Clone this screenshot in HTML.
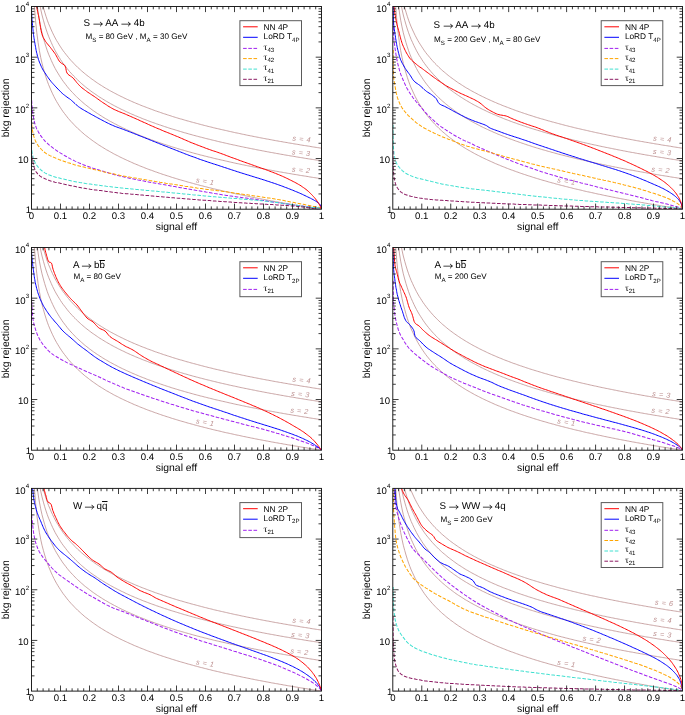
<!DOCTYPE html>
<html lang="en"><head><meta charset="utf-8"><title>ROC curves</title>
<style>
html,body{margin:0;padding:0;background:#fff;}
body{width:685px;height:715px;overflow:hidden;}
svg{display:block;font-family:"Liberation Sans","DejaVu Sans",sans-serif;text-rendering:geometricPrecision;}
.fr{fill:none;stroke:#161616;stroke-width:0.95;}
.tk{fill:none;stroke:#1c1c1c;stroke-width:0.85;}
.br{fill:none;stroke:#bc8f8f;stroke-width:0.8;}
.sol{fill:none;stroke-width:1;stroke-linejoin:round;}
.dash{fill:none;stroke-width:1.02;stroke-dasharray:3.6 1.6;stroke-linejoin:round;}
.tl{font-size:9.6px;fill:#000;}
.sup{font-size:6.2px;}
.at{font-size:10.4px;fill:#000;}
.tt{font-size:9.8px;fill:#000;}
.ar{font-size:10.4px;fill:#000;font-weight:350;font-family:"Noto Sans CJK JP","DejaVu Sans",sans-serif;}
.tau{font-family:"Liberation Serif",serif;font-size:9.5px;}
.st{font-size:8.1px;fill:#000;}
.ov{text-decoration:overline;}
.sb{font-size:6.2px;}
.sb2{font-size:6.1px;}
.lt{font-size:8.3px;fill:#000;}
.ls{stroke-width:1;}
.lg{fill:#fff;stroke:#5a5a5a;stroke-width:1;}
.sl{font-size:7.3px;fill:#bc8f8f;font-style:italic;letter-spacing:0.5px;}
</style></head>
<body>
<svg width="685" height="715" viewBox="0 0 685 715">
<rect width="685" height="715" fill="#fff"/>
<g class="panel">
<clipPath id="cp0"><rect x="31.5" y="6.5" width="290" height="202.7"/></clipPath>
<g clip-path="url(#cp0)" fill="none">
<polyline class="br" points="34.1,2.3 35.5,20.2 36.8,32.8 38.1,42.6 39.4,50.7 40.7,57.4 42.0,63.3 43.4,68.5 44.7,73.1 46.0,77.3 47.3,81.2 48.6,84.7 50.0,88.0 51.3,91.0 52.6,93.8 53.9,96.5 55.2,99.0 56.5,101.4 57.9,103.7 59.2,105.8 60.5,107.8 61.8,109.8 63.1,111.7 64.5,113.5 65.8,115.2 67.1,116.9 68.4,118.5 69.7,120.0 71.0,121.5 72.4,122.9 73.7,124.3 75.0,125.7 76.3,127.0 77.6,128.3 79.0,129.5 80.3,130.7 81.6,131.9 82.9,133.0 84.2,134.2 85.5,135.3 86.9,136.3 88.2,137.3 89.5,138.4 90.8,139.3 92.1,140.3 93.5,141.3 94.8,142.2 96.1,143.1 97.4,144.0 98.7,144.9 100.0,145.7 101.4,146.6 102.7,147.4 104.0,148.2 105.3,149.0 106.6,149.8 108.0,150.5 109.3,151.3 110.6,152.0 111.9,152.7 113.2,153.5 114.5,154.2 115.9,154.9 117.2,155.5 118.5,156.2 119.8,156.9 121.1,157.5 122.5,158.2 123.8,158.8 125.1,159.4 126.4,160.0 127.7,160.6 129.0,161.2 130.4,161.8 131.7,162.4 133.0,163.0 134.3,163.6 135.6,164.1 137.0,164.7 138.3,165.2 139.6,165.8 140.9,166.3 142.2,166.8 143.5,167.3 144.9,167.9 146.2,168.4 147.5,168.9 148.8,169.4 150.1,169.9 151.5,170.3 152.8,170.8 154.1,171.3 155.4,171.8 156.7,172.2 158.0,172.7 159.4,173.2 160.7,173.6 162.0,174.1 163.3,174.5 164.6,174.9 166.0,175.4 167.3,175.8 168.6,176.2 169.9,176.6 171.2,177.1 172.5,177.5 173.9,177.9 175.2,178.3 176.5,178.7 177.8,179.1 179.1,179.5 180.5,179.9 181.8,180.3 183.1,180.6 184.4,181.0 185.7,181.4 187.0,181.8 188.4,182.2 189.7,182.5 191.0,182.9 192.3,183.2 193.6,183.6 195.0,184.0 196.3,184.3 197.6,184.7 198.9,185.0 200.2,185.4 201.5,185.7 202.9,186.0 204.2,186.4 205.5,186.7 206.8,187.0 208.1,187.4 209.5,187.7 210.8,188.0 212.1,188.4 213.4,188.7 214.7,189.0 216.0,189.3 217.4,189.6 218.7,189.9 220.0,190.2 221.3,190.5 222.6,190.9 224.0,191.2 225.3,191.5 226.6,191.8 227.9,192.0 229.2,192.3 230.5,192.6 231.9,192.9 233.2,193.2 234.5,193.5 235.8,193.8 237.1,194.1 238.5,194.3 239.8,194.6 241.1,194.9 242.4,195.2 243.7,195.5 245.0,195.7 246.4,196.0 247.7,196.3 249.0,196.5 250.3,196.8 251.6,197.1 253.0,197.3 254.3,197.6 255.6,197.9 256.9,198.1 258.2,198.4 259.5,198.6 260.9,198.9 262.2,199.1 263.5,199.4 264.8,199.6 266.1,199.9 267.5,200.1 268.8,200.4 270.1,200.6 271.4,200.9 272.7,201.1 274.0,201.3 275.4,201.6 276.7,201.8 278.0,202.0 279.3,202.3 280.6,202.5 282.0,202.7 283.3,203.0 284.6,203.2 285.9,203.4 287.2,203.7 288.5,203.9 289.9,204.1 291.2,204.3 292.5,204.6 293.8,204.8 295.1,205.0 296.5,205.2 297.8,205.4 299.1,205.7 300.4,205.9 301.7,206.1 303.0,206.3 304.4,206.5 305.7,206.7 307.0,206.9 308.3,207.2 309.6,207.4 311.0,207.6 312.3,207.8 313.6,208.0 314.9,208.2 316.2,208.4 317.5,208.6 318.9,208.8 320.2,209.0 321.5,209.2"/>
<polyline class="br" points="36.8,2.3 38.1,12.1 39.4,20.2 40.7,26.9 42.0,32.8 43.4,38.0 44.7,42.6 46.0,46.8 47.3,50.7 48.6,54.2 50.0,57.4 51.3,60.5 52.6,63.3 53.9,66.0 55.2,68.5 56.5,70.9 57.9,73.1 59.2,75.3 60.5,77.3 61.8,79.3 63.1,81.2 64.5,83.0 65.8,84.7 67.1,86.4 68.4,88.0 69.7,89.5 71.0,91.0 72.4,92.4 73.7,93.8 75.0,95.2 76.3,96.5 77.6,97.8 79.0,99.0 80.3,100.2 81.6,101.4 82.9,102.5 84.2,103.7 85.5,104.7 86.9,105.8 88.2,106.8 89.5,107.8 90.8,108.8 92.1,109.8 93.5,110.8 94.8,111.7 96.1,112.6 97.4,113.5 98.7,114.3 100.0,115.2 101.4,116.0 102.7,116.9 104.0,117.7 105.3,118.5 106.6,119.2 108.0,120.0 109.3,120.8 110.6,121.5 111.9,122.2 113.2,122.9 114.5,123.6 115.9,124.3 117.2,125.0 118.5,125.7 119.8,126.4 121.1,127.0 122.5,127.7 123.8,128.3 125.1,128.9 126.4,129.5 127.7,130.1 129.0,130.7 130.4,131.3 131.7,131.9 133.0,132.5 134.3,133.0 135.6,133.6 137.0,134.2 138.3,134.7 139.6,135.3 140.9,135.8 142.2,136.3 143.5,136.8 144.9,137.3 146.2,137.9 147.5,138.4 148.8,138.9 150.1,139.3 151.5,139.8 152.8,140.3 154.1,140.8 155.4,141.3 156.7,141.7 158.0,142.2 159.4,142.6 160.7,143.1 162.0,143.5 163.3,144.0 164.6,144.4 166.0,144.9 167.3,145.3 168.6,145.7 169.9,146.1 171.2,146.6 172.5,147.0 173.9,147.4 175.2,147.8 176.5,148.2 177.8,148.6 179.1,149.0 180.5,149.4 181.8,149.8 183.1,150.1 184.4,150.5 185.7,150.9 187.0,151.3 188.4,151.6 189.7,152.0 191.0,152.4 192.3,152.7 193.6,153.1 195.0,153.5 196.3,153.8 197.6,154.2 198.9,154.5 200.2,154.9 201.5,155.2 202.9,155.5 204.2,155.9 205.5,156.2 206.8,156.5 208.1,156.9 209.5,157.2 210.8,157.5 212.1,157.8 213.4,158.2 214.7,158.5 216.0,158.8 217.4,159.1 218.7,159.4 220.0,159.7 221.3,160.0 222.6,160.3 224.0,160.6 225.3,160.9 226.6,161.2 227.9,161.5 229.2,161.8 230.5,162.1 231.9,162.4 233.2,162.7 234.5,163.0 235.8,163.3 237.1,163.6 238.5,163.8 239.8,164.1 241.1,164.4 242.4,164.7 243.7,164.9 245.0,165.2 246.4,165.5 247.7,165.8 249.0,166.0 250.3,166.3 251.6,166.6 253.0,166.8 254.3,167.1 255.6,167.3 256.9,167.6 258.2,167.9 259.5,168.1 260.9,168.4 262.2,168.6 263.5,168.9 264.8,169.1 266.1,169.4 267.5,169.6 268.8,169.9 270.1,170.1 271.4,170.3 272.7,170.6 274.0,170.8 275.4,171.1 276.7,171.3 278.0,171.5 279.3,171.8 280.6,172.0 282.0,172.2 283.3,172.5 284.6,172.7 285.9,172.9 287.2,173.2 288.5,173.4 289.9,173.6 291.2,173.8 292.5,174.1 293.8,174.3 295.1,174.5 296.5,174.7 297.8,174.9 299.1,175.2 300.4,175.4 301.7,175.6 303.0,175.8 304.4,176.0 305.7,176.2 307.0,176.4 308.3,176.6 309.6,176.9 311.0,177.1 312.3,177.3 313.6,177.5 314.9,177.7 316.2,177.9 317.5,178.1 318.9,178.3 320.2,178.5 321.5,178.7"/>
<polyline class="br" points="38.1,-5.7 39.4,2.3 40.7,9.1 42.0,15.0 43.4,20.2 44.7,24.8 46.0,29.0 47.3,32.8 48.6,36.3 50.0,39.6 51.3,42.6 52.6,45.5 53.9,48.1 55.2,50.7 56.5,53.0 57.9,55.3 59.2,57.4 60.5,59.5 61.8,61.5 63.1,63.3 64.5,65.1 65.8,66.8 67.1,68.5 68.4,70.1 69.7,71.7 71.0,73.1 72.4,74.6 73.7,76.0 75.0,77.3 76.3,78.7 77.6,79.9 79.0,81.2 80.3,82.4 81.6,83.6 82.9,84.7 84.2,85.8 85.5,86.9 86.9,88.0 88.2,89.0 89.5,90.0 90.8,91.0 92.1,92.0 93.5,92.9 94.8,93.8 96.1,94.7 97.4,95.6 98.7,96.5 100.0,97.4 101.4,98.2 102.7,99.0 104.0,99.8 105.3,100.6 106.6,101.4 108.0,102.2 109.3,102.9 110.6,103.7 111.9,104.4 113.2,105.1 114.5,105.8 115.9,106.5 117.2,107.2 118.5,107.8 119.8,108.5 121.1,109.2 122.5,109.8 123.8,110.4 125.1,111.1 126.4,111.7 127.7,112.3 129.0,112.9 130.4,113.5 131.7,114.1 133.0,114.6 134.3,115.2 135.6,115.8 137.0,116.3 138.3,116.9 139.6,117.4 140.9,117.9 142.2,118.5 143.5,119.0 144.9,119.5 146.2,120.0 147.5,120.5 148.8,121.0 150.1,121.5 151.5,122.0 152.8,122.5 154.1,122.9 155.4,123.4 156.7,123.9 158.0,124.3 159.4,124.8 160.7,125.2 162.0,125.7 163.3,126.1 164.6,126.6 166.0,127.0 167.3,127.4 168.6,127.9 169.9,128.3 171.2,128.7 172.5,129.1 173.9,129.5 175.2,129.9 176.5,130.3 177.8,130.7 179.1,131.1 180.5,131.5 181.8,131.9 183.1,132.3 184.4,132.7 185.7,133.0 187.0,133.4 188.4,133.8 189.7,134.2 191.0,134.5 192.3,134.9 193.6,135.3 195.0,135.6 196.3,136.0 197.6,136.3 198.9,136.7 200.2,137.0 201.5,137.3 202.9,137.7 204.2,138.0 205.5,138.4 206.8,138.7 208.1,139.0 209.5,139.3 210.8,139.7 212.1,140.0 213.4,140.3 214.7,140.6 216.0,140.9 217.4,141.3 218.7,141.6 220.0,141.9 221.3,142.2 222.6,142.5 224.0,142.8 225.3,143.1 226.6,143.4 227.9,143.7 229.2,144.0 230.5,144.3 231.9,144.6 233.2,144.9 234.5,145.1 235.8,145.4 237.1,145.7 238.5,146.0 239.8,146.3 241.1,146.6 242.4,146.8 243.7,147.1 245.0,147.4 246.4,147.6 247.7,147.9 249.0,148.2 250.3,148.4 251.6,148.7 253.0,149.0 254.3,149.2 255.6,149.5 256.9,149.8 258.2,150.0 259.5,150.3 260.9,150.5 262.2,150.8 263.5,151.0 264.8,151.3 266.1,151.5 267.5,151.8 268.8,152.0 270.1,152.3 271.4,152.5 272.7,152.7 274.0,153.0 275.4,153.2 276.7,153.5 278.0,153.7 279.3,153.9 280.6,154.2 282.0,154.4 283.3,154.6 284.6,154.9 285.9,155.1 287.2,155.3 288.5,155.5 289.9,155.8 291.2,156.0 292.5,156.2 293.8,156.4 295.1,156.6 296.5,156.9 297.8,157.1 299.1,157.3 300.4,157.5 301.7,157.7 303.0,157.9 304.4,158.2 305.7,158.4 307.0,158.6 308.3,158.8 309.6,159.0 311.0,159.2 312.3,159.4 313.6,159.6 314.9,159.8 316.2,160.0 317.5,160.2 318.9,160.4 320.2,160.6 321.5,160.8"/>
<polyline class="br" points="40.7,-3.6 42.0,2.3 43.4,7.5 44.7,12.1 46.0,16.3 47.3,20.2 48.6,23.7 50.0,26.9 51.3,30.0 52.6,32.8 53.9,35.5 55.2,38.0 56.5,40.4 57.9,42.6 59.2,44.8 60.5,46.8 61.8,48.8 63.1,50.7 64.5,52.5 65.8,54.2 67.1,55.8 68.4,57.4 69.7,59.0 71.0,60.5 72.4,61.9 73.7,63.3 75.0,64.7 76.3,66.0 77.6,67.3 79.0,68.5 80.3,69.7 81.6,70.9 82.9,72.0 84.2,73.1 85.5,74.2 86.9,75.3 88.2,76.3 89.5,77.3 90.8,78.3 92.1,79.3 93.5,80.2 94.8,81.2 96.1,82.1 97.4,83.0 98.7,83.8 100.0,84.7 101.4,85.5 102.7,86.4 104.0,87.2 105.3,88.0 106.6,88.7 108.0,89.5 109.3,90.3 110.6,91.0 111.9,91.7 113.2,92.4 114.5,93.1 115.9,93.8 117.2,94.5 118.5,95.2 119.8,95.8 121.1,96.5 122.5,97.1 123.8,97.8 125.1,98.4 126.4,99.0 127.7,99.6 129.0,100.2 130.4,100.8 131.7,101.4 133.0,102.0 134.3,102.5 135.6,103.1 137.0,103.7 138.3,104.2 139.6,104.7 140.9,105.3 142.2,105.8 143.5,106.3 144.9,106.8 146.2,107.3 147.5,107.8 148.8,108.3 150.1,108.8 151.5,109.3 152.8,109.8 154.1,110.3 155.4,110.8 156.7,111.2 158.0,111.7 159.4,112.1 160.7,112.6 162.0,113.0 163.3,113.5 164.6,113.9 166.0,114.3 167.3,114.8 168.6,115.2 169.9,115.6 171.2,116.0 172.5,116.5 173.9,116.9 175.2,117.3 176.5,117.7 177.8,118.1 179.1,118.5 180.5,118.9 181.8,119.2 183.1,119.6 184.4,120.0 185.7,120.4 187.0,120.8 188.4,121.1 189.7,121.5 191.0,121.9 192.3,122.2 193.6,122.6 195.0,122.9 196.3,123.3 197.6,123.6 198.9,124.0 200.2,124.3 201.5,124.7 202.9,125.0 204.2,125.4 205.5,125.7 206.8,126.0 208.1,126.4 209.5,126.7 210.8,127.0 212.1,127.3 213.4,127.7 214.7,128.0 216.0,128.3 217.4,128.6 218.7,128.9 220.0,129.2 221.3,129.5 222.6,129.8 224.0,130.1 225.3,130.4 226.6,130.7 227.9,131.0 229.2,131.3 230.5,131.6 231.9,131.9 233.2,132.2 234.5,132.5 235.8,132.8 237.1,133.0 238.5,133.3 239.8,133.6 241.1,133.9 242.4,134.2 243.7,134.4 245.0,134.7 246.4,135.0 247.7,135.3 249.0,135.5 250.3,135.8 251.6,136.0 253.0,136.3 254.3,136.6 255.6,136.8 256.9,137.1 258.2,137.3 259.5,137.6 260.9,137.9 262.2,138.1 263.5,138.4 264.8,138.6 266.1,138.9 267.5,139.1 268.8,139.3 270.1,139.6 271.4,139.8 272.7,140.1 274.0,140.3 275.4,140.6 276.7,140.8 278.0,141.0 279.3,141.3 280.6,141.5 282.0,141.7 283.3,142.0 284.6,142.2 285.9,142.4 287.2,142.6 288.5,142.9 289.9,143.1 291.2,143.3 292.5,143.5 293.8,143.8 295.1,144.0 296.5,144.2 297.8,144.4 299.1,144.6 300.4,144.9 301.7,145.1 303.0,145.3 304.4,145.5 305.7,145.7 307.0,145.9 308.3,146.1 309.6,146.3 311.0,146.6 312.3,146.8 313.6,147.0 314.9,147.2 316.2,147.4 317.5,147.6 318.9,147.8 320.2,148.0 321.5,148.2"/>
<polyline class="dash" stroke="#a020f0" points="31.4,95.0 31.4,96.5 31.5,98.0 31.6,99.5 31.7,101.0 31.8,102.5 31.9,104.0 32.0,105.5 32.2,107.0 32.3,108.5 32.5,110.0 32.6,111.4 32.8,112.9 33.0,114.4 33.3,115.9 33.5,117.4 33.8,118.9 34.1,120.4 34.4,121.8 34.8,123.3 35.2,124.7 35.7,126.1 36.2,127.5 36.8,128.9 37.5,130.2 38.2,131.6 38.9,132.9 39.7,134.1 40.5,135.4 41.4,136.6 42.3,137.8 43.3,139.0 44.2,140.2 45.2,141.3 46.3,142.3 47.4,143.3 48.5,144.3 49.6,145.3 50.8,146.3 52.0,147.2 53.2,148.1 54.4,149.0 55.6,149.9 56.8,150.7 58.1,151.5 59.4,152.3 60.6,153.1 61.9,153.9 63.2,154.7 64.5,155.5 65.8,156.2 67.1,157.0 68.4,157.7 69.7,158.4 71.0,159.1 72.4,159.8 73.7,160.4 75.1,161.1 76.4,161.7 77.8,162.4 79.2,163.0 80.5,163.5 81.9,164.1 83.3,164.7 84.7,165.2 86.1,165.8 87.5,166.3 88.9,166.8 90.3,167.3 91.7,167.8 93.2,168.3 94.6,168.7 96.0,169.2 97.5,169.6 98.9,170.0 100.3,170.5 101.8,170.9 103.2,171.3 104.6,171.8 106.1,172.2 107.5,172.6 108.9,173.1 110.4,173.5 111.8,173.9 113.3,174.3 114.7,174.7 116.2,175.1 117.6,175.4 119.1,175.8 120.5,176.2 122.0,176.5 123.4,176.8 124.9,177.2 126.4,177.5 127.8,177.8 129.3,178.2 130.8,178.5 132.2,178.8 133.7,179.1 135.2,179.4 136.6,179.7 138.1,180.0 139.6,180.2 141.1,180.5 142.5,180.8 144.0,181.1 145.5,181.4 146.9,181.7 148.4,181.9 149.9,182.2 151.4,182.5 152.8,182.7 154.3,183.0 155.8,183.3 157.3,183.5 158.7,183.8 160.2,184.1 161.7,184.3 163.2,184.6 164.6,184.8 166.1,185.1 167.6,185.3 169.1,185.6 170.6,185.9 172.0,186.1 173.5,186.4 175.0,186.6 176.5,186.9 177.9,187.1 179.4,187.4 180.9,187.7 182.4,187.9 183.8,188.2 185.3,188.4 186.8,188.7 188.3,189.0 189.7,189.2 191.2,189.5 192.7,189.8 194.2,190.0 195.6,190.3 197.1,190.5 198.6,190.8 200.1,191.0 201.6,191.3 203.0,191.6 204.5,191.8 206.0,192.1 207.5,192.3 208.9,192.6 210.4,192.8 211.9,193.1 213.4,193.3 214.8,193.6 216.3,193.8 217.8,194.1 219.3,194.3 220.8,194.5 222.2,194.8 223.7,195.0 225.2,195.2 226.7,195.4 228.2,195.6 229.7,195.9 231.1,196.1 232.6,196.3 234.1,196.5 235.6,196.7 237.1,196.9 238.6,197.1 240.1,197.3 241.5,197.5 243.0,197.7 244.5,197.9 246.0,198.1 247.5,198.3 249.0,198.5 250.4,198.7 251.9,198.9 253.4,199.1 254.9,199.3 256.4,199.5 257.9,199.7 259.4,200.0 260.8,200.2 262.3,200.4 263.8,200.6 265.3,200.8 266.8,201.0 268.3,201.3 269.7,201.5 271.2,201.7 272.7,201.9 274.2,202.2 275.7,202.4 277.1,202.6 278.6,202.8 280.1,203.1 281.6,203.3 283.1,203.5 284.6,203.7 286.0,203.9 287.5,204.1 289.0,204.3 290.5,204.5 292.0,204.7 293.5,205.0 294.9,205.2 296.4,205.4 297.9,205.6 299.4,205.7 300.9,205.9 302.4,206.1 303.9,206.3 305.4,206.5 306.8,206.7 308.3,206.8 309.8,207.0 311.3,207.2 312.8,207.4 314.3,207.5 315.8,207.7 317.3,207.9 318.7,208.1 320.2,208.4 321.5,209.2"/>
<polyline class="dash" stroke="#ffa500" points="31.4,119.0 31.4,120.5 31.5,122.0 31.6,123.5 31.8,125.0 32.0,126.5 32.2,128.0 32.4,129.5 32.6,130.9 32.9,132.4 33.2,133.8 33.5,135.3 33.9,136.7 34.4,138.2 34.9,139.6 35.5,141.0 36.1,142.3 36.8,143.6 37.6,144.8 38.5,146.1 39.5,147.3 40.5,148.4 41.5,149.5 42.5,150.5 43.7,151.5 44.8,152.5 46.0,153.4 47.3,154.2 48.6,154.9 49.9,155.6 51.3,156.2 52.6,156.8 54.0,157.4 55.4,158.0 56.8,158.6 58.1,159.1 59.5,159.7 60.9,160.2 62.3,160.7 63.7,161.2 65.2,161.7 66.6,162.2 68.0,162.7 69.4,163.1 70.8,163.6 72.3,164.0 73.7,164.5 75.1,164.9 76.6,165.3 78.0,165.7 79.4,166.1 80.9,166.5 82.3,166.8 83.8,167.1 85.2,167.5 86.7,167.8 88.2,168.1 89.6,168.5 91.1,168.8 92.5,169.1 94.0,169.5 95.4,169.8 96.9,170.2 98.3,170.5 99.8,170.8 101.3,171.2 102.7,171.5 104.2,171.9 105.6,172.2 107.1,172.5 108.5,172.9 110.0,173.2 111.4,173.5 112.9,173.8 114.4,174.1 115.8,174.5 117.3,174.8 118.8,175.1 120.2,175.4 121.7,175.7 123.1,176.0 124.6,176.2 126.1,176.5 127.5,176.8 129.0,177.0 130.5,177.3 132.0,177.5 133.4,177.8 134.9,178.0 136.4,178.3 137.9,178.5 139.3,178.8 140.8,179.0 142.3,179.3 143.8,179.5 145.2,179.7 146.7,180.0 148.2,180.2 149.6,180.5 151.1,180.7 152.6,181.0 154.1,181.2 155.5,181.5 157.0,181.7 158.5,181.9 160.0,182.2 161.4,182.4 162.9,182.7 164.4,182.9 165.9,183.2 167.3,183.4 168.8,183.6 170.3,183.9 171.8,184.1 173.2,184.3 174.7,184.6 176.2,184.8 177.7,185.0 179.1,185.3 180.6,185.5 182.1,185.7 183.6,185.9 185.0,186.2 186.5,186.4 188.0,186.6 189.5,186.9 190.9,187.1 192.4,187.3 193.9,187.5 195.4,187.7 196.9,188.0 198.3,188.2 199.8,188.4 201.3,188.6 202.8,188.8 204.2,189.0 205.7,189.2 207.2,189.4 208.7,189.6 210.2,189.8 211.7,189.9 213.1,190.1 214.6,190.3 216.1,190.5 217.6,190.7 219.1,190.8 220.5,191.0 222.0,191.2 223.5,191.4 225.0,191.6 226.5,191.8 227.9,192.1 229.4,192.3 230.9,192.5 232.4,192.7 233.9,192.9 235.3,193.1 236.8,193.4 238.3,193.6 239.8,193.8 241.2,194.0 242.7,194.2 244.2,194.4 245.7,194.6 247.2,194.8 248.6,195.0 250.1,195.3 251.6,195.5 253.1,195.7 254.6,195.9 256.0,196.1 257.5,196.3 259.0,196.6 260.5,196.8 261.9,197.0 263.4,197.2 264.9,197.4 266.4,197.7 267.8,197.9 269.3,198.1 270.8,198.4 272.3,198.6 273.7,198.8 275.2,199.1 276.7,199.3 278.2,199.6 279.6,199.8 281.1,200.1 282.6,200.3 284.0,200.6 285.5,200.9 287.0,201.2 288.4,201.5 289.9,201.8 291.4,202.0 292.8,202.3 294.3,202.6 295.8,202.9 297.2,203.2 298.7,203.4 300.2,203.7 301.6,204.0 303.1,204.3 304.6,204.6 306.0,204.9 307.5,205.2 309.0,205.5 310.4,205.8 311.9,206.1 313.4,206.4 314.8,206.6 316.3,206.9 317.8,207.2 319.3,207.5 320.6,207.9 321.5,209.2"/>
<polyline class="dash" stroke="#40e0d0" points="31.4,145.0 31.4,146.5 31.5,148.1 31.7,149.6 31.9,151.1 32.1,152.5 32.4,154.0 32.7,155.4 33.0,156.9 33.3,158.3 33.8,159.7 34.5,161.1 35.1,162.4 35.9,163.7 36.6,165.0 37.5,166.2 38.4,167.4 39.5,168.5 40.5,169.6 41.6,170.5 42.8,171.5 44.1,172.3 45.3,173.1 46.7,173.8 48.0,174.5 49.4,175.1 50.8,175.6 52.2,176.1 53.6,176.6 55.0,177.0 56.5,177.4 57.9,177.8 59.4,178.1 60.8,178.5 62.3,178.8 63.7,179.1 65.2,179.4 66.7,179.8 68.1,180.1 69.6,180.4 71.0,180.8 72.5,181.1 73.9,181.4 75.4,181.7 76.9,182.0 78.3,182.2 79.8,182.5 81.3,182.7 82.8,183.0 84.2,183.2 85.7,183.5 87.2,183.7 88.7,183.9 90.2,184.1 91.6,184.3 93.1,184.5 94.6,184.7 96.1,184.9 97.6,185.1 99.0,185.3 100.5,185.5 102.0,185.7 103.5,185.9 105.0,186.1 106.4,186.3 107.9,186.4 109.4,186.6 110.9,186.8 112.4,187.0 113.9,187.1 115.3,187.3 116.8,187.5 118.3,187.6 119.8,187.8 121.3,187.9 122.8,188.1 124.3,188.2 125.7,188.4 127.2,188.5 128.7,188.7 130.2,188.8 131.7,188.9 133.2,189.1 134.7,189.2 136.2,189.4 137.6,189.5 139.1,189.7 140.6,189.8 142.1,189.9 143.6,190.1 145.1,190.2 146.6,190.4 148.1,190.5 149.5,190.6 151.0,190.8 152.5,190.9 154.0,191.1 155.5,191.2 157.0,191.3 158.5,191.5 160.0,191.6 161.4,191.8 162.9,191.9 164.4,192.0 165.9,192.2 167.4,192.3 168.9,192.5 170.4,192.6 171.8,192.7 173.3,192.9 174.8,193.0 176.3,193.2 177.8,193.3 179.3,193.4 180.8,193.6 182.3,193.7 183.7,193.9 185.2,194.0 186.7,194.2 188.2,194.3 189.7,194.5 191.2,194.6 192.7,194.8 194.2,194.9 195.6,195.0 197.1,195.2 198.6,195.3 200.1,195.5 201.6,195.6 203.1,195.7 204.6,195.9 206.0,196.0 207.5,196.2 209.0,196.3 210.5,196.4 212.0,196.6 213.5,196.7 215.0,196.8 216.5,196.9 218.0,197.1 219.4,197.2 220.9,197.3 222.4,197.5 223.9,197.6 225.4,197.7 226.9,197.8 228.4,197.9 229.9,198.1 231.4,198.2 232.8,198.3 234.3,198.4 235.8,198.5 237.3,198.6 238.8,198.8 240.3,198.9 241.8,199.0 243.3,199.1 244.8,199.2 246.2,199.4 247.7,199.5 249.2,199.6 250.7,199.7 252.2,199.9 253.7,200.0 255.2,200.1 256.7,200.3 258.1,200.4 259.6,200.5 261.1,200.7 262.6,200.8 264.1,201.0 265.6,201.2 267.1,201.3 268.5,201.5 270.0,201.7 271.5,201.9 273.0,202.0 274.5,202.2 276.0,202.4 277.4,202.6 278.9,202.8 280.4,203.0 281.9,203.2 283.4,203.4 284.8,203.7 286.3,203.9 287.8,204.1 289.3,204.3 290.7,204.5 292.2,204.7 293.7,204.9 295.2,205.1 296.7,205.3 298.1,205.5 299.6,205.8 301.1,206.0 302.6,206.2 304.1,206.4 305.5,206.6 307.0,206.8 308.5,206.9 310.0,207.1 311.5,207.3 313.0,207.4 314.4,207.6 315.9,207.7 317.4,207.8 318.9,208.0 320.4,208.2 321.5,209.2"/>
<polyline class="dash" stroke="#8b1a62" points="31.4,151.0 31.5,152.5 31.6,154.0 31.8,155.5 32.0,157.0 32.2,158.5 32.5,160.0 32.7,161.4 33.0,162.9 33.3,164.4 33.7,165.8 34.1,167.3 34.6,168.7 35.2,170.0 35.9,171.4 36.7,172.7 37.7,173.9 38.7,174.9 39.8,175.9 41.0,176.7 42.4,177.4 43.8,178.1 45.1,178.8 46.5,179.4 47.9,179.9 49.3,180.5 50.7,181.0 52.1,181.4 53.6,181.8 55.0,182.2 56.5,182.5 58.0,182.8 59.4,183.1 60.9,183.4 62.4,183.7 63.8,184.1 65.3,184.4 66.7,184.8 68.2,185.1 69.7,185.4 71.1,185.7 72.6,186.0 74.1,186.3 75.5,186.6 77.0,186.9 78.5,187.2 79.9,187.5 81.4,187.8 82.9,188.0 84.4,188.3 85.8,188.6 87.3,188.8 88.8,189.0 90.3,189.3 91.8,189.5 93.2,189.7 94.7,189.9 96.2,190.1 97.7,190.3 99.2,190.5 100.7,190.6 102.2,190.8 103.7,191.0 105.1,191.2 106.6,191.4 108.1,191.6 109.6,191.8 111.1,192.0 112.6,192.2 114.1,192.4 115.5,192.6 117.0,192.8 118.5,193.0 120.0,193.1 121.5,193.3 123.0,193.4 124.5,193.5 126.0,193.7 127.5,193.8 129.0,193.9 130.5,194.1 131.9,194.2 133.4,194.3 134.9,194.5 136.4,194.6 137.9,194.7 139.4,194.9 140.9,195.0 142.4,195.1 143.9,195.3 145.4,195.4 146.9,195.5 148.4,195.6 149.9,195.8 151.3,195.9 152.8,196.0 154.3,196.2 155.8,196.3 157.3,196.4 158.8,196.6 160.3,196.7 161.8,196.8 163.3,196.9 164.8,197.1 166.3,197.2 167.8,197.3 169.3,197.4 170.8,197.6 172.3,197.7 173.7,197.8 175.2,197.9 176.7,198.1 178.2,198.2 179.7,198.3 181.2,198.4 182.7,198.5 184.2,198.7 185.7,198.8 187.2,198.9 188.7,199.0 190.2,199.2 191.7,199.3 193.2,199.4 194.7,199.5 196.2,199.6 197.6,199.7 199.1,199.9 200.6,200.0 202.1,200.1 203.6,200.2 205.1,200.3 206.6,200.4 208.1,200.5 209.6,200.6 211.1,200.8 212.6,200.9 214.1,201.0 215.6,201.1 217.1,201.2 218.6,201.3 220.1,201.4 221.6,201.5 223.1,201.6 224.5,201.7 226.0,201.8 227.5,201.9 229.0,202.0 230.5,202.1 232.0,202.2 233.5,202.3 235.0,202.4 236.5,202.5 238.0,202.6 239.5,202.7 241.0,202.8 242.5,202.9 244.0,203.0 245.5,203.1 247.0,203.2 248.5,203.3 250.0,203.3 251.5,203.4 253.0,203.5 254.5,203.6 256.0,203.7 257.4,203.8 258.9,203.9 260.4,203.9 261.9,204.0 263.4,204.1 264.9,204.2 266.4,204.3 267.9,204.4 269.4,204.5 270.9,204.5 272.4,204.6 273.9,204.7 275.4,204.8 276.9,204.9 278.4,205.0 279.9,205.1 281.4,205.2 282.9,205.3 284.4,205.4 285.9,205.5 287.4,205.6 288.9,205.7 290.4,205.8 291.8,205.9 293.3,206.0 294.8,206.2 296.3,206.3 297.8,206.4 299.3,206.6 300.8,206.7 302.3,206.9 303.8,207.1 305.3,207.3 306.7,207.5 308.2,207.7 309.7,207.9 311.2,208.2 312.7,208.5 314.1,208.8 315.6,209.1 317.1,209.4 318.5,209.7 320.0,210.0 321.5,210.0"/>
<polyline class="sol" stroke="#0000ff" points="31.4,6.0 31.4,7.5 31.5,9.0 31.5,10.5 31.6,12.0 31.7,13.5 31.8,15.0 31.8,16.5 31.9,18.0 32.0,19.5 32.2,20.9 32.3,22.4 32.4,23.9 32.6,25.4 32.7,26.9 32.8,28.4 33.0,29.9 33.1,31.4 33.3,32.9 33.5,34.4 33.7,35.8 33.9,37.3 34.1,38.8 34.4,40.3 34.6,41.8 34.9,43.2 35.1,44.7 35.4,46.2 35.7,47.7 35.9,49.1 36.2,50.6 36.5,52.1 36.9,53.5 37.2,55.0 37.6,56.4 38.0,57.9 38.4,59.3 38.9,60.7 39.4,62.1 40.0,63.5 40.6,64.9 41.2,66.3 41.8,67.6 42.5,68.9 43.2,70.2 44.0,71.5 44.9,72.8 45.7,74.0 46.5,75.3 47.4,76.5 48.2,77.7 49.1,79.0 50.0,80.1 50.9,81.3 51.9,82.5 52.9,83.6 53.9,84.7 54.9,85.8 55.9,86.9 57.0,88.0 58.0,89.1 59.0,90.1 60.1,91.2 61.1,92.3 62.2,93.3 63.3,94.3 64.5,95.2 65.7,96.1 66.9,97.0 68.1,97.9 69.4,98.7 70.6,99.6 71.7,100.6 72.8,101.6 73.9,102.6 75.0,103.6 76.1,104.7 77.3,105.6 78.4,106.6 79.6,107.4 80.9,108.3 82.1,109.1 83.4,109.8 84.7,110.6 86.0,111.3 87.3,112.1 88.6,112.8 89.9,113.5 91.2,114.3 92.5,115.0 93.9,115.7 95.2,116.5 96.5,117.2 97.8,117.9 99.1,118.6 100.4,119.3 101.8,120.0 103.1,120.7 104.4,121.4 105.8,122.1 107.1,122.8 108.4,123.4 109.8,124.1 111.1,124.7 112.5,125.3 113.9,125.9 115.3,126.5 116.7,127.0 118.1,127.5 119.5,128.0 120.9,128.5 122.3,129.0 123.7,129.5 125.1,130.1 126.5,130.6 127.9,131.1 129.3,131.7 130.7,132.2 132.1,132.8 133.5,133.3 134.9,133.9 136.3,134.4 137.7,135.0 139.0,135.5 140.4,136.1 141.8,136.6 143.2,137.2 144.6,137.7 146.0,138.3 147.4,138.8 148.8,139.4 150.2,140.0 151.5,140.5 152.9,141.1 154.3,141.6 155.7,142.2 157.1,142.8 158.5,143.3 159.9,143.9 161.3,144.4 162.7,145.0 164.0,145.5 165.4,146.1 166.8,146.6 168.2,147.2 169.6,147.7 171.0,148.3 172.4,148.8 173.8,149.4 175.2,149.9 176.6,150.5 178.0,151.0 179.4,151.6 180.8,152.1 182.2,152.7 183.6,153.2 184.9,153.8 186.3,154.3 187.7,154.8 189.1,155.4 190.5,155.9 191.9,156.4 193.4,156.9 194.8,157.4 196.2,157.9 197.6,158.5 199.0,159.0 200.4,159.5 201.8,160.0 203.2,160.4 204.6,160.9 206.0,161.4 207.5,161.9 208.9,162.4 210.3,162.8 211.7,163.3 213.2,163.8 214.6,164.2 216.0,164.7 217.4,165.1 218.9,165.6 220.3,166.1 221.7,166.5 223.1,167.0 224.5,167.5 226.0,167.9 227.4,168.4 228.8,168.9 230.2,169.3 231.6,169.8 233.1,170.3 234.5,170.7 235.9,171.2 237.3,171.7 238.8,172.1 240.2,172.6 241.6,173.0 243.1,173.5 244.5,173.9 245.9,174.4 247.3,174.8 248.8,175.2 250.2,175.7 251.6,176.1 253.1,176.6 254.5,177.0 255.9,177.5 257.4,177.9 258.8,178.3 260.2,178.8 261.6,179.2 263.1,179.7 264.5,180.1 265.9,180.6 267.3,181.1 268.8,181.5 270.2,182.0 271.6,182.5 273.0,182.9 274.4,183.4 275.9,183.9 277.3,184.4 278.7,184.9 280.1,185.4 281.5,185.9 282.9,186.4 284.3,187.0 285.7,187.5 287.1,188.0 288.5,188.6 289.9,189.1 291.3,189.7 292.7,190.2 294.1,190.8 295.4,191.4 296.8,191.9 298.2,192.5 299.6,193.1 300.9,193.7 302.3,194.3 303.7,195.0 305.0,195.6 306.4,196.3 307.7,196.9 309.1,197.6 310.4,198.2 311.7,198.9 313.1,199.6 314.4,200.4 315.7,201.1 316.9,201.9 318.1,202.8 319.3,203.8 320.3,204.9 320.9,206.2 321.3,207.6 321.5,209.2"/>
<polyline class="sol" stroke="#ff0000" points="36.2,4.0 36.4,5.5 36.7,7.0 37.0,8.4 37.3,9.9 37.6,11.3 37.9,12.8 38.2,14.3 38.6,15.7 38.8,17.2 39.1,18.7 39.4,20.2 39.6,21.6 39.8,23.1 40.0,24.6 40.3,26.1 40.5,27.6 40.8,29.0 41.1,30.5 41.4,32.0 41.8,33.4 42.2,34.9 42.7,36.3 43.3,37.6 44.0,38.9 44.8,40.2 45.6,41.5 46.5,42.7 47.4,43.9 48.4,45.0 49.3,46.2 50.3,47.3 51.2,48.5 52.1,49.7 53.0,50.9 53.9,52.1 54.8,53.3 55.6,54.6 56.4,55.9 57.1,57.3 57.8,58.6 58.5,59.9 59.3,61.1 60.2,62.2 61.4,63.2 62.8,64.0 64.1,64.9 65.0,65.9 65.5,67.2 65.9,68.7 66.2,70.3 66.5,71.8 67.1,73.1 67.9,74.2 69.0,75.1 70.4,76.0 71.7,76.9 72.9,77.9 73.9,78.9 74.8,80.1 75.8,81.3 76.7,82.5 77.7,83.6 78.7,84.7 79.7,85.8 80.8,86.8 81.9,87.8 83.1,88.7 84.3,89.6 85.5,90.5 86.7,91.4 87.9,92.3 89.2,93.1 90.4,93.9 91.7,94.8 92.9,95.6 94.2,96.4 95.4,97.3 96.6,98.1 97.8,99.0 99.1,99.9 100.3,100.8 101.5,101.6 102.7,102.5 104.0,103.3 105.2,104.1 106.5,104.9 107.7,105.8 109.0,106.6 110.3,107.3 111.6,108.1 112.9,108.8 114.2,109.5 115.6,110.1 116.9,110.7 118.3,111.3 119.7,111.9 121.1,112.4 122.5,113.0 123.9,113.5 125.3,114.1 126.6,114.7 128.0,115.3 129.4,115.9 130.8,116.5 132.1,117.1 133.5,117.7 134.9,118.3 136.2,118.9 137.6,119.5 139.0,120.1 140.3,120.8 141.7,121.4 143.0,122.0 144.4,122.6 145.8,123.2 147.1,123.8 148.5,124.5 149.9,125.1 151.2,125.7 152.6,126.3 154.0,126.9 155.4,127.5 156.7,128.1 158.1,128.7 159.5,129.2 160.9,129.8 162.2,130.4 163.6,131.0 165.0,131.6 166.4,132.1 167.8,132.7 169.2,133.2 170.6,133.8 171.9,134.3 173.3,134.9 174.7,135.5 176.1,136.1 177.5,136.6 178.9,137.2 180.2,137.8 181.6,138.4 183.0,139.0 184.3,139.6 185.7,140.2 187.1,140.8 188.5,141.4 189.8,142.0 191.2,142.6 192.6,143.1 194.0,143.7 195.4,144.2 196.8,144.8 198.2,145.3 199.6,145.8 201.0,146.4 202.4,146.9 203.8,147.4 205.2,148.0 206.6,148.5 208.0,149.0 209.4,149.5 210.8,150.0 212.2,150.5 213.7,151.0 215.1,151.4 216.5,151.9 217.9,152.4 219.3,152.9 220.7,153.4 222.1,153.9 223.5,154.4 224.9,154.9 226.3,155.5 227.7,156.0 229.1,156.5 230.5,157.1 231.9,157.6 233.4,158.1 234.8,158.6 236.2,159.1 237.6,159.6 239.0,160.2 240.4,160.7 241.8,161.2 243.2,161.7 244.6,162.2 246.0,162.7 247.4,163.2 248.8,163.7 250.3,164.2 251.7,164.7 253.1,165.2 254.5,165.7 255.9,166.2 257.3,166.7 258.7,167.2 260.1,167.7 261.5,168.2 263.0,168.7 264.4,169.2 265.8,169.7 267.2,170.2 268.6,170.7 270.0,171.3 271.4,171.8 272.8,172.3 274.2,172.9 275.6,173.4 277.0,174.0 278.3,174.5 279.7,175.1 281.1,175.7 282.5,176.3 283.8,176.9 285.2,177.5 286.5,178.2 287.9,178.8 289.2,179.5 290.6,180.2 291.9,180.8 293.2,181.5 294.6,182.2 295.9,182.9 297.2,183.6 298.5,184.4 299.8,185.1 301.1,185.9 302.3,186.8 303.5,187.6 304.8,188.5 306.0,189.4 307.1,190.3 308.3,191.3 309.4,192.3 310.4,193.4 311.5,194.4 312.5,195.5 313.5,196.6 314.5,197.7 315.5,198.9 316.4,200.1 317.3,201.3 318.1,202.5 318.9,203.8 319.6,205.1 320.3,206.5 320.9,207.8 321.5,209.2"/>
</g>
<path class="tk" d="M37.3,209.2v-2.8M37.3,6.5v2.8M43.1,209.2v-2.8M43.1,6.5v2.8M48.9,209.2v-2.8M48.9,6.5v2.8M54.7,209.2v-2.8M54.7,6.5v2.8M60.5,209.2v-5.6M60.5,6.5v5.6M66.3,209.2v-2.8M66.3,6.5v2.8M72.1,209.2v-2.8M72.1,6.5v2.8M77.9,209.2v-2.8M77.9,6.5v2.8M83.7,209.2v-2.8M83.7,6.5v2.8M89.5,209.2v-5.6M89.5,6.5v5.6M95.3,209.2v-2.8M95.3,6.5v2.8M101.1,209.2v-2.8M101.1,6.5v2.8M106.9,209.2v-2.8M106.9,6.5v2.8M112.7,209.2v-2.8M112.7,6.5v2.8M118.5,209.2v-5.6M118.5,6.5v5.6M124.3,209.2v-2.8M124.3,6.5v2.8M130.1,209.2v-2.8M130.1,6.5v2.8M135.9,209.2v-2.8M135.9,6.5v2.8M141.7,209.2v-2.8M141.7,6.5v2.8M147.5,209.2v-5.6M147.5,6.5v5.6M153.3,209.2v-2.8M153.3,6.5v2.8M159.1,209.2v-2.8M159.1,6.5v2.8M164.9,209.2v-2.8M164.9,6.5v2.8M170.7,209.2v-2.8M170.7,6.5v2.8M176.5,209.2v-5.6M176.5,6.5v5.6M182.3,209.2v-2.8M182.3,6.5v2.8M188.1,209.2v-2.8M188.1,6.5v2.8M193.9,209.2v-2.8M193.9,6.5v2.8M199.7,209.2v-2.8M199.7,6.5v2.8M205.5,209.2v-5.6M205.5,6.5v5.6M211.3,209.2v-2.8M211.3,6.5v2.8M217.1,209.2v-2.8M217.1,6.5v2.8M222.9,209.2v-2.8M222.9,6.5v2.8M228.7,209.2v-2.8M228.7,6.5v2.8M234.5,209.2v-5.6M234.5,6.5v5.6M240.3,209.2v-2.8M240.3,6.5v2.8M246.1,209.2v-2.8M246.1,6.5v2.8M251.9,209.2v-2.8M251.9,6.5v2.8M257.7,209.2v-2.8M257.7,6.5v2.8M263.5,209.2v-5.6M263.5,6.5v5.6M269.3,209.2v-2.8M269.3,6.5v2.8M275.1,209.2v-2.8M275.1,6.5v2.8M280.9,209.2v-2.8M280.9,6.5v2.8M286.7,209.2v-2.8M286.7,6.5v2.8M292.5,209.2v-5.6M292.5,6.5v5.6M298.3,209.2v-2.8M298.3,6.5v2.8M304.1,209.2v-2.8M304.1,6.5v2.8M309.9,209.2v-2.8M309.9,6.5v2.8M315.7,209.2v-2.8M315.7,6.5v2.8M31.5,193.95h3.0M321.5,193.95h-3.0M31.5,185.02h3.0M321.5,185.02h-3.0M31.5,178.69h3.0M321.5,178.69h-3.0M31.5,173.78h3.0M321.5,173.78h-3.0M31.5,169.77h3.0M321.5,169.77h-3.0M31.5,166.37h3.0M321.5,166.37h-3.0M31.5,163.44h3.0M321.5,163.44h-3.0M31.5,160.84h3.0M321.5,160.84h-3.0M31.5,158.52h5.8M321.5,158.52h-5.8M31.5,143.27h3.0M321.5,143.27h-3.0M31.5,134.35h3.0M321.5,134.35h-3.0M31.5,128.02h3.0M321.5,128.02h-3.0M31.5,123.1h3.0M321.5,123.1h-3.0M31.5,119.09h3.0M321.5,119.09h-3.0M31.5,115.7h3.0M321.5,115.7h-3.0M31.5,112.76h3.0M321.5,112.76h-3.0M31.5,110.17h3.0M321.5,110.17h-3.0M31.5,107.85h5.8M321.5,107.85h-5.8M31.5,92.6h3.0M321.5,92.6h-3.0M31.5,83.67h3.0M321.5,83.67h-3.0M31.5,77.34h3.0M321.5,77.34h-3.0M31.5,72.43h3.0M321.5,72.43h-3.0M31.5,68.42h3.0M321.5,68.42h-3.0M31.5,65.02h3.0M321.5,65.02h-3.0M31.5,62.09h3.0M321.5,62.09h-3.0M31.5,59.49h3.0M321.5,59.49h-3.0M31.5,57.18h5.8M321.5,57.18h-5.8M31.5,41.92h3.0M321.5,41.92h-3.0M31.5,33h3.0M321.5,33h-3.0M31.5,26.67h3.0M321.5,26.67h-3.0M31.5,21.75h3.0M321.5,21.75h-3.0M31.5,17.74h3.0M321.5,17.74h-3.0M31.5,14.35h3.0M321.5,14.35h-3.0M31.5,11.41h3.0M321.5,11.41h-3.0M31.5,8.82h3.0M321.5,8.82h-3.0"/>
<rect class="fr" x="31.5" y="6.5" width="290" height="202.7"/>
<text class="tl" text-anchor="middle" x="31.5" y="219.4">0</text>
<text class="tl" text-anchor="middle" x="60.5" y="219.4">0.1</text>
<text class="tl" text-anchor="middle" x="89.5" y="219.4">0.2</text>
<text class="tl" text-anchor="middle" x="118.5" y="219.4">0.3</text>
<text class="tl" text-anchor="middle" x="147.5" y="219.4">0.4</text>
<text class="tl" text-anchor="middle" x="176.5" y="219.4">0.5</text>
<text class="tl" text-anchor="middle" x="205.5" y="219.4">0.6</text>
<text class="tl" text-anchor="middle" x="234.5" y="219.4">0.7</text>
<text class="tl" text-anchor="middle" x="263.5" y="219.4">0.8</text>
<text class="tl" text-anchor="middle" x="292.5" y="219.4">0.9</text>
<text class="tl" text-anchor="middle" x="321.5" y="219.4">1</text>
<text class="tl" text-anchor="end" x="31" y="212.6">1</text>
<text class="tl" text-anchor="end" x="28.7" y="163.12">10</text>
<text class="tl" text-anchor="end" x="29.1" y="113.25">10<tspan class="sup" dy="-5.6">2</tspan></text>
<text class="tl" text-anchor="end" x="29.1" y="62.58">10<tspan class="sup" dy="-5.6">3</tspan></text>
<text class="tl" text-anchor="end" x="29.1" y="11.9">10<tspan class="sup" dy="-5.6">4</tspan></text>
<text class="at" text-anchor="middle" x="176.5" y="230.2">signal eff</text>
<text class="at" text-anchor="middle" transform="translate(8.7,107.85) rotate(-90)">bkg rejection</text>
<text class="tt" y="25.8"><tspan x="83.6">S</tspan> <tspan class="ar" x="93" dy="1.8">→</tspan> <tspan x="105.2" dy="-1.8">AA</tspan> <tspan class="ar" x="121.1" dy="1.8">→</tspan> <tspan x="133.7" dy="-1.8">4b</tspan></text>
<text class="st" x="85.5" y="38.8">M<tspan class="sb" dy="3">S</tspan><tspan dy="-3"> = 80 GeV , M</tspan><tspan class="sb" dy="3">A</tspan><tspan dy="-3"> = 30 GeV</tspan></text>
<text class="sl" text-anchor="middle" transform="translate(301.7,139.1) rotate(5.5)" y="2.4">s = 4</text>
<text class="sl" text-anchor="middle" transform="translate(301.3,152.8) rotate(5.5)" y="2.4">s = 3</text>
<text class="sl" text-anchor="middle" transform="translate(301.3,170) rotate(5.5)" y="2.4">s = 2</text>
<text class="sl" text-anchor="middle" transform="translate(205.2,181.3) rotate(9)" y="2.4">s = 1</text>
<rect class="lg" x="239.9" y="20.7" width="61.6" height="64.9"/>
<path class="sol ls" fill="none" stroke="#ff0000" d="M243.1,26.8H257.7"/>
<text class="lt" x="263.6" y="29.8">NN 4P</text>
<path class="sol ls" fill="none" stroke="#0000ff" d="M243.1,37.3H257.7"/>
<text class="lt" x="263.6" y="39.2">LoRD T<tspan class="sb2" dy="2.3">4P</tspan></text>
<path class="dash ls" fill="none" stroke="#a020f0" d="M243.1,48.4H257.7"/>
<text class="lt" x="263.6" y="49.7"><tspan class="tau">τ</tspan><tspan class="sb2" dy="2.3">43</tspan></text>
<path class="dash ls" fill="none" stroke="#ffa500" d="M243.1,58.6H257.7"/>
<text class="lt" x="263.6" y="59.9"><tspan class="tau">τ</tspan><tspan class="sb2" dy="2.3">42</tspan></text>
<path class="dash ls" fill="none" stroke="#40e0d0" d="M243.1,69.1H257.7"/>
<text class="lt" x="263.6" y="70.4"><tspan class="tau">τ</tspan><tspan class="sb2" dy="2.3">41</tspan></text>
<path class="dash ls" fill="none" stroke="#8b1a62" d="M243.1,79.3H257.7"/>
<text class="lt" x="263.6" y="80.6"><tspan class="tau">τ</tspan><tspan class="sb2" dy="2.3">21</tspan></text>
</g>
<g class="panel">
<clipPath id="cp1"><rect x="392.8" y="6.5" width="289.7" height="202.7"/></clipPath>
<g clip-path="url(#cp1)" fill="none">
<polyline class="br" points="395.4,2.3 396.8,20.2 398.1,32.8 399.4,42.6 400.7,50.7 402.0,57.4 403.3,63.3 404.7,68.5 406.0,73.1 407.3,77.3 408.6,81.2 409.9,84.7 411.2,88.0 412.6,91.0 413.9,93.8 415.2,96.5 416.5,99.0 417.8,101.4 419.1,103.7 420.5,105.8 421.8,107.8 423.1,109.8 424.4,111.7 425.7,113.5 427.0,115.2 428.4,116.9 429.7,118.5 431.0,120.0 432.3,121.5 433.6,122.9 434.9,124.3 436.3,125.7 437.6,127.0 438.9,128.3 440.2,129.5 441.5,130.7 442.8,131.9 444.2,133.0 445.5,134.2 446.8,135.3 448.1,136.3 449.4,137.3 450.7,138.4 452.1,139.3 453.4,140.3 454.7,141.3 456.0,142.2 457.3,143.1 458.6,144.0 460.0,144.9 461.3,145.7 462.6,146.6 463.9,147.4 465.2,148.2 466.5,149.0 467.9,149.8 469.2,150.5 470.5,151.3 471.8,152.0 473.1,152.7 474.4,153.5 475.8,154.2 477.1,154.9 478.4,155.5 479.7,156.2 481.0,156.9 482.3,157.5 483.7,158.2 485.0,158.8 486.3,159.4 487.6,160.0 488.9,160.6 490.2,161.2 491.6,161.8 492.9,162.4 494.2,163.0 495.5,163.6 496.8,164.1 498.1,164.7 499.5,165.2 500.8,165.8 502.1,166.3 503.4,166.8 504.7,167.3 506.0,167.9 507.4,168.4 508.7,168.9 510.0,169.4 511.3,169.9 512.6,170.3 513.9,170.8 515.3,171.3 516.6,171.8 517.9,172.2 519.2,172.7 520.5,173.2 521.8,173.6 523.2,174.1 524.5,174.5 525.8,174.9 527.1,175.4 528.4,175.8 529.7,176.2 531.1,176.6 532.4,177.1 533.7,177.5 535.0,177.9 536.3,178.3 537.6,178.7 539.0,179.1 540.3,179.5 541.6,179.9 542.9,180.3 544.2,180.6 545.6,181.0 546.9,181.4 548.2,181.8 549.5,182.2 550.8,182.5 552.1,182.9 553.5,183.2 554.8,183.6 556.1,184.0 557.4,184.3 558.7,184.7 560.0,185.0 561.4,185.4 562.7,185.7 564.0,186.0 565.3,186.4 566.6,186.7 567.9,187.0 569.3,187.4 570.6,187.7 571.9,188.0 573.2,188.4 574.5,188.7 575.8,189.0 577.2,189.3 578.5,189.6 579.8,189.9 581.1,190.2 582.4,190.5 583.7,190.9 585.1,191.2 586.4,191.5 587.7,191.8 589.0,192.0 590.3,192.3 591.6,192.6 593.0,192.9 594.3,193.2 595.6,193.5 596.9,193.8 598.2,194.1 599.5,194.3 600.9,194.6 602.2,194.9 603.5,195.2 604.8,195.5 606.1,195.7 607.4,196.0 608.8,196.3 610.1,196.5 611.4,196.8 612.7,197.1 614.0,197.3 615.3,197.6 616.7,197.9 618.0,198.1 619.3,198.4 620.6,198.6 621.9,198.9 623.2,199.1 624.6,199.4 625.9,199.6 627.2,199.9 628.5,200.1 629.8,200.4 631.1,200.6 632.5,200.9 633.8,201.1 635.1,201.3 636.4,201.6 637.7,201.8 639.0,202.0 640.4,202.3 641.7,202.5 643.0,202.7 644.3,203.0 645.6,203.2 646.9,203.4 648.3,203.7 649.6,203.9 650.9,204.1 652.2,204.3 653.5,204.6 654.8,204.8 656.2,205.0 657.5,205.2 658.8,205.4 660.1,205.7 661.4,205.9 662.7,206.1 664.1,206.3 665.4,206.5 666.7,206.7 668.0,206.9 669.3,207.2 670.6,207.4 672.0,207.6 673.3,207.8 674.6,208.0 675.9,208.2 677.2,208.4 678.5,208.6 679.9,208.8 681.2,209.0 682.5,209.2"/>
<polyline class="br" points="398.1,2.3 399.4,12.1 400.7,20.2 402.0,26.9 403.3,32.8 404.7,38.0 406.0,42.6 407.3,46.8 408.6,50.7 409.9,54.2 411.2,57.4 412.6,60.5 413.9,63.3 415.2,66.0 416.5,68.5 417.8,70.9 419.1,73.1 420.5,75.3 421.8,77.3 423.1,79.3 424.4,81.2 425.7,83.0 427.0,84.7 428.4,86.4 429.7,88.0 431.0,89.5 432.3,91.0 433.6,92.4 434.9,93.8 436.3,95.2 437.6,96.5 438.9,97.8 440.2,99.0 441.5,100.2 442.8,101.4 444.2,102.5 445.5,103.7 446.8,104.7 448.1,105.8 449.4,106.8 450.7,107.8 452.1,108.8 453.4,109.8 454.7,110.8 456.0,111.7 457.3,112.6 458.6,113.5 460.0,114.3 461.3,115.2 462.6,116.0 463.9,116.9 465.2,117.7 466.5,118.5 467.9,119.2 469.2,120.0 470.5,120.8 471.8,121.5 473.1,122.2 474.4,122.9 475.8,123.6 477.1,124.3 478.4,125.0 479.7,125.7 481.0,126.4 482.3,127.0 483.7,127.7 485.0,128.3 486.3,128.9 487.6,129.5 488.9,130.1 490.2,130.7 491.6,131.3 492.9,131.9 494.2,132.5 495.5,133.0 496.8,133.6 498.1,134.2 499.5,134.7 500.8,135.3 502.1,135.8 503.4,136.3 504.7,136.8 506.0,137.3 507.4,137.9 508.7,138.4 510.0,138.9 511.3,139.3 512.6,139.8 513.9,140.3 515.3,140.8 516.6,141.3 517.9,141.7 519.2,142.2 520.5,142.6 521.8,143.1 523.2,143.5 524.5,144.0 525.8,144.4 527.1,144.9 528.4,145.3 529.7,145.7 531.1,146.1 532.4,146.6 533.7,147.0 535.0,147.4 536.3,147.8 537.6,148.2 539.0,148.6 540.3,149.0 541.6,149.4 542.9,149.8 544.2,150.1 545.6,150.5 546.9,150.9 548.2,151.3 549.5,151.6 550.8,152.0 552.1,152.4 553.5,152.7 554.8,153.1 556.1,153.5 557.4,153.8 558.7,154.2 560.0,154.5 561.4,154.9 562.7,155.2 564.0,155.5 565.3,155.9 566.6,156.2 567.9,156.5 569.3,156.9 570.6,157.2 571.9,157.5 573.2,157.8 574.5,158.2 575.8,158.5 577.2,158.8 578.5,159.1 579.8,159.4 581.1,159.7 582.4,160.0 583.7,160.3 585.1,160.6 586.4,160.9 587.7,161.2 589.0,161.5 590.3,161.8 591.6,162.1 593.0,162.4 594.3,162.7 595.6,163.0 596.9,163.3 598.2,163.6 599.5,163.8 600.9,164.1 602.2,164.4 603.5,164.7 604.8,164.9 606.1,165.2 607.4,165.5 608.8,165.8 610.1,166.0 611.4,166.3 612.7,166.6 614.0,166.8 615.3,167.1 616.7,167.3 618.0,167.6 619.3,167.9 620.6,168.1 621.9,168.4 623.2,168.6 624.6,168.9 625.9,169.1 627.2,169.4 628.5,169.6 629.8,169.9 631.1,170.1 632.5,170.3 633.8,170.6 635.1,170.8 636.4,171.1 637.7,171.3 639.0,171.5 640.4,171.8 641.7,172.0 643.0,172.2 644.3,172.5 645.6,172.7 646.9,172.9 648.3,173.2 649.6,173.4 650.9,173.6 652.2,173.8 653.5,174.1 654.8,174.3 656.2,174.5 657.5,174.7 658.8,174.9 660.1,175.2 661.4,175.4 662.7,175.6 664.1,175.8 665.4,176.0 666.7,176.2 668.0,176.4 669.3,176.6 670.6,176.9 672.0,177.1 673.3,177.3 674.6,177.5 675.9,177.7 677.2,177.9 678.5,178.1 679.9,178.3 681.2,178.5 682.5,178.7"/>
<polyline class="br" points="399.4,-5.7 400.7,2.3 402.0,9.1 403.3,15.0 404.7,20.2 406.0,24.8 407.3,29.0 408.6,32.8 409.9,36.3 411.2,39.6 412.6,42.6 413.9,45.5 415.2,48.1 416.5,50.7 417.8,53.0 419.1,55.3 420.5,57.4 421.8,59.5 423.1,61.5 424.4,63.3 425.7,65.1 427.0,66.8 428.4,68.5 429.7,70.1 431.0,71.7 432.3,73.1 433.6,74.6 434.9,76.0 436.3,77.3 437.6,78.7 438.9,79.9 440.2,81.2 441.5,82.4 442.8,83.6 444.2,84.7 445.5,85.8 446.8,86.9 448.1,88.0 449.4,89.0 450.7,90.0 452.1,91.0 453.4,92.0 454.7,92.9 456.0,93.8 457.3,94.7 458.6,95.6 460.0,96.5 461.3,97.4 462.6,98.2 463.9,99.0 465.2,99.8 466.5,100.6 467.9,101.4 469.2,102.2 470.5,102.9 471.8,103.7 473.1,104.4 474.4,105.1 475.8,105.8 477.1,106.5 478.4,107.2 479.7,107.8 481.0,108.5 482.3,109.2 483.7,109.8 485.0,110.4 486.3,111.1 487.6,111.7 488.9,112.3 490.2,112.9 491.6,113.5 492.9,114.1 494.2,114.6 495.5,115.2 496.8,115.8 498.1,116.3 499.5,116.9 500.8,117.4 502.1,117.9 503.4,118.5 504.7,119.0 506.0,119.5 507.4,120.0 508.7,120.5 510.0,121.0 511.3,121.5 512.6,122.0 513.9,122.5 515.3,122.9 516.6,123.4 517.9,123.9 519.2,124.3 520.5,124.8 521.8,125.2 523.2,125.7 524.5,126.1 525.8,126.6 527.1,127.0 528.4,127.4 529.7,127.9 531.1,128.3 532.4,128.7 533.7,129.1 535.0,129.5 536.3,129.9 537.6,130.3 539.0,130.7 540.3,131.1 541.6,131.5 542.9,131.9 544.2,132.3 545.6,132.7 546.9,133.0 548.2,133.4 549.5,133.8 550.8,134.2 552.1,134.5 553.5,134.9 554.8,135.3 556.1,135.6 557.4,136.0 558.7,136.3 560.0,136.7 561.4,137.0 562.7,137.3 564.0,137.7 565.3,138.0 566.6,138.4 567.9,138.7 569.3,139.0 570.6,139.3 571.9,139.7 573.2,140.0 574.5,140.3 575.8,140.6 577.2,140.9 578.5,141.3 579.8,141.6 581.1,141.9 582.4,142.2 583.7,142.5 585.1,142.8 586.4,143.1 587.7,143.4 589.0,143.7 590.3,144.0 591.6,144.3 593.0,144.6 594.3,144.9 595.6,145.1 596.9,145.4 598.2,145.7 599.5,146.0 600.9,146.3 602.2,146.6 603.5,146.8 604.8,147.1 606.1,147.4 607.4,147.6 608.8,147.9 610.1,148.2 611.4,148.4 612.7,148.7 614.0,149.0 615.3,149.2 616.7,149.5 618.0,149.8 619.3,150.0 620.6,150.3 621.9,150.5 623.2,150.8 624.6,151.0 625.9,151.3 627.2,151.5 628.5,151.8 629.8,152.0 631.1,152.3 632.5,152.5 633.8,152.7 635.1,153.0 636.4,153.2 637.7,153.5 639.0,153.7 640.4,153.9 641.7,154.2 643.0,154.4 644.3,154.6 645.6,154.9 646.9,155.1 648.3,155.3 649.6,155.5 650.9,155.8 652.2,156.0 653.5,156.2 654.8,156.4 656.2,156.6 657.5,156.9 658.8,157.1 660.1,157.3 661.4,157.5 662.7,157.7 664.1,157.9 665.4,158.2 666.7,158.4 668.0,158.6 669.3,158.8 670.6,159.0 672.0,159.2 673.3,159.4 674.6,159.6 675.9,159.8 677.2,160.0 678.5,160.2 679.9,160.4 681.2,160.6 682.5,160.8"/>
<polyline class="br" points="402.0,-3.6 403.3,2.3 404.7,7.5 406.0,12.1 407.3,16.3 408.6,20.2 409.9,23.7 411.2,26.9 412.6,30.0 413.9,32.8 415.2,35.5 416.5,38.0 417.8,40.4 419.1,42.6 420.5,44.8 421.8,46.8 423.1,48.8 424.4,50.7 425.7,52.5 427.0,54.2 428.4,55.8 429.7,57.4 431.0,59.0 432.3,60.5 433.6,61.9 434.9,63.3 436.3,64.7 437.6,66.0 438.9,67.3 440.2,68.5 441.5,69.7 442.8,70.9 444.2,72.0 445.5,73.1 446.8,74.2 448.1,75.3 449.4,76.3 450.7,77.3 452.1,78.3 453.4,79.3 454.7,80.2 456.0,81.2 457.3,82.1 458.6,83.0 460.0,83.8 461.3,84.7 462.6,85.5 463.9,86.4 465.2,87.2 466.5,88.0 467.9,88.7 469.2,89.5 470.5,90.3 471.8,91.0 473.1,91.7 474.4,92.4 475.8,93.1 477.1,93.8 478.4,94.5 479.7,95.2 481.0,95.8 482.3,96.5 483.7,97.1 485.0,97.8 486.3,98.4 487.6,99.0 488.9,99.6 490.2,100.2 491.6,100.8 492.9,101.4 494.2,102.0 495.5,102.5 496.8,103.1 498.1,103.7 499.5,104.2 500.8,104.7 502.1,105.3 503.4,105.8 504.7,106.3 506.0,106.8 507.4,107.3 508.7,107.8 510.0,108.3 511.3,108.8 512.6,109.3 513.9,109.8 515.3,110.3 516.6,110.8 517.9,111.2 519.2,111.7 520.5,112.1 521.8,112.6 523.2,113.0 524.5,113.5 525.8,113.9 527.1,114.3 528.4,114.8 529.7,115.2 531.1,115.6 532.4,116.0 533.7,116.5 535.0,116.9 536.3,117.3 537.6,117.7 539.0,118.1 540.3,118.5 541.6,118.9 542.9,119.2 544.2,119.6 545.6,120.0 546.9,120.4 548.2,120.8 549.5,121.1 550.8,121.5 552.1,121.9 553.5,122.2 554.8,122.6 556.1,122.9 557.4,123.3 558.7,123.6 560.0,124.0 561.4,124.3 562.7,124.7 564.0,125.0 565.3,125.4 566.6,125.7 567.9,126.0 569.3,126.4 570.6,126.7 571.9,127.0 573.2,127.3 574.5,127.7 575.8,128.0 577.2,128.3 578.5,128.6 579.8,128.9 581.1,129.2 582.4,129.5 583.7,129.8 585.1,130.1 586.4,130.4 587.7,130.7 589.0,131.0 590.3,131.3 591.6,131.6 593.0,131.9 594.3,132.2 595.6,132.5 596.9,132.8 598.2,133.0 599.5,133.3 600.9,133.6 602.2,133.9 603.5,134.2 604.8,134.4 606.1,134.7 607.4,135.0 608.8,135.3 610.1,135.5 611.4,135.8 612.7,136.0 614.0,136.3 615.3,136.6 616.7,136.8 618.0,137.1 619.3,137.3 620.6,137.6 621.9,137.9 623.2,138.1 624.6,138.4 625.9,138.6 627.2,138.9 628.5,139.1 629.8,139.3 631.1,139.6 632.5,139.8 633.8,140.1 635.1,140.3 636.4,140.6 637.7,140.8 639.0,141.0 640.4,141.3 641.7,141.5 643.0,141.7 644.3,142.0 645.6,142.2 646.9,142.4 648.3,142.6 649.6,142.9 650.9,143.1 652.2,143.3 653.5,143.5 654.8,143.8 656.2,144.0 657.5,144.2 658.8,144.4 660.1,144.6 661.4,144.9 662.7,145.1 664.1,145.3 665.4,145.5 666.7,145.7 668.0,145.9 669.3,146.1 670.6,146.3 672.0,146.6 673.3,146.8 674.6,147.0 675.9,147.2 677.2,147.4 678.5,147.6 679.9,147.8 681.2,148.0 682.5,148.2"/>
<polyline class="dash" stroke="#a020f0" points="393.2,6.0 393.2,7.5 393.2,9.0 393.2,10.5 393.2,12.0 393.2,13.5 393.2,15.0 393.2,16.5 393.2,18.0 393.3,19.5 393.3,21.0 393.3,22.5 393.3,24.0 393.3,25.5 393.3,27.0 393.3,28.5 393.4,30.0 393.4,31.5 393.4,33.0 393.5,34.4 393.6,35.9 393.7,37.4 393.9,38.9 394.0,40.4 394.2,41.9 394.4,43.4 394.6,44.9 394.8,46.4 395.0,47.9 395.2,49.3 395.4,50.8 395.6,52.3 395.9,53.8 396.1,55.3 396.4,56.7 396.6,58.2 396.9,59.7 397.2,61.1 397.5,62.6 397.9,64.1 398.2,65.5 398.6,67.0 399.0,68.4 399.4,69.9 399.8,71.3 400.2,72.7 400.7,74.2 401.3,75.6 401.8,77.0 402.4,78.3 403.0,79.7 403.6,81.1 404.2,82.5 404.8,83.8 405.5,85.2 406.1,86.5 406.8,87.9 407.5,89.2 408.3,90.5 409.0,91.7 409.8,93.0 410.6,94.3 411.5,95.5 412.4,96.8 413.2,98.0 414.1,99.2 415.1,100.3 416.0,101.5 417.0,102.6 418.0,103.7 419.0,104.9 420.0,106.0 421.0,107.1 421.9,108.3 422.9,109.4 423.8,110.6 424.8,111.7 425.8,112.8 426.8,113.9 427.9,115.0 428.9,116.0 430.0,117.1 431.1,118.1 432.2,119.2 433.3,120.2 434.4,121.2 435.5,122.2 436.6,123.2 437.7,124.2 438.9,125.1 440.1,126.0 441.3,126.9 442.6,127.7 443.8,128.6 445.1,129.4 446.3,130.2 447.6,131.0 448.8,131.8 450.1,132.6 451.4,133.4 452.7,134.2 453.9,135.0 455.2,135.7 456.5,136.5 457.8,137.2 459.2,137.9 460.5,138.6 461.8,139.3 463.2,140.0 464.5,140.6 465.9,141.2 467.3,141.8 468.6,142.4 470.0,143.0 471.3,143.7 472.7,144.3 474.0,145.0 475.4,145.7 476.7,146.3 478.1,146.9 479.4,147.5 480.8,148.2 482.2,148.7 483.6,149.3 484.9,149.9 486.3,150.5 487.7,151.1 489.1,151.7 490.5,152.3 491.8,152.9 493.2,153.5 494.6,154.1 496.0,154.6 497.3,155.2 498.7,155.8 500.1,156.4 501.5,156.9 502.9,157.5 504.3,158.1 505.7,158.6 507.1,159.2 508.4,159.7 509.8,160.3 511.2,160.8 512.6,161.4 514.0,161.9 515.4,162.4 516.8,163.0 518.2,163.5 519.6,164.0 521.0,164.6 522.4,165.1 523.8,165.6 525.2,166.1 526.7,166.6 528.1,167.1 529.5,167.6 530.9,168.1 532.3,168.6 533.7,169.1 535.1,169.6 536.6,170.1 538.0,170.5 539.4,171.0 540.8,171.5 542.3,171.9 543.7,172.4 545.1,172.8 546.5,173.3 548.0,173.7 549.4,174.1 550.8,174.6 552.3,175.0 553.7,175.4 555.2,175.8 556.6,176.3 558.0,176.7 559.5,177.1 560.9,177.5 562.4,177.9 563.8,178.3 565.2,178.7 566.7,179.1 568.1,179.5 569.6,179.9 571.0,180.2 572.5,180.6 573.9,181.0 575.4,181.4 576.8,181.7 578.3,182.1 579.7,182.5 581.2,182.9 582.6,183.2 584.1,183.6 585.5,184.0 587.0,184.3 588.4,184.7 589.9,185.1 591.3,185.5 592.8,185.8 594.2,186.2 595.7,186.6 597.1,186.9 598.6,187.3 600.1,187.7 601.5,188.0 603.0,188.4 604.4,188.7 605.9,189.1 607.3,189.4 608.8,189.8 610.2,190.1 611.7,190.5 613.2,190.8 614.6,191.2 616.1,191.5 617.5,191.9 619.0,192.2 620.4,192.6 621.9,192.9 623.4,193.3 624.8,193.6 626.3,194.0 627.7,194.3 629.2,194.7 630.6,195.1 632.1,195.4 633.5,195.8 635.0,196.1 636.4,196.5 637.9,196.9 639.3,197.3 640.8,197.6 642.2,198.0 643.7,198.4 645.1,198.8 646.6,199.2 648.0,199.5 649.5,199.9 650.9,200.3 652.4,200.7 653.8,201.0 655.3,201.4 656.7,201.7 658.2,202.0 659.7,202.4 661.1,202.7 662.6,203.0 664.0,203.4 665.5,203.7 667.0,204.1 668.4,204.5 669.8,204.9 671.3,205.3 672.7,205.7 674.2,206.1 675.6,206.5 677.1,206.9 678.5,207.3 679.9,207.8 681.3,208.2 682.5,209.2"/>
<polyline class="dash" stroke="#ffa500" points="393.2,50.0 393.2,51.5 393.2,53.0 393.2,54.5 393.2,56.0 393.2,57.5 393.2,59.0 393.2,60.5 393.2,62.0 393.3,63.5 393.3,65.0 393.3,66.5 393.3,68.0 393.3,69.5 393.4,71.0 393.4,72.5 393.4,73.9 393.5,75.4 393.6,76.9 393.8,78.4 394.0,79.9 394.2,81.4 394.5,82.9 394.7,84.3 395.0,85.8 395.2,87.3 395.5,88.8 395.7,90.3 396.0,91.7 396.3,93.2 396.7,94.7 397.0,96.1 397.4,97.5 397.9,98.9 398.4,100.4 399.0,101.8 399.6,103.2 400.2,104.5 400.9,105.8 401.6,107.1 402.4,108.4 403.3,109.6 404.2,110.8 405.2,112.0 406.1,113.1 407.1,114.2 408.1,115.3 409.2,116.4 410.3,117.4 411.4,118.4 412.5,119.4 413.6,120.4 414.7,121.4 415.9,122.4 417.1,123.3 418.3,124.2 419.5,125.0 420.8,125.9 422.0,126.7 423.3,127.5 424.6,128.2 425.9,128.9 427.2,129.7 428.5,130.4 429.9,131.0 431.2,131.7 432.6,132.3 433.9,133.0 435.3,133.6 436.6,134.2 438.0,134.9 439.4,135.5 440.7,136.1 442.1,136.7 443.5,137.2 444.9,137.8 446.3,138.3 447.7,138.9 449.1,139.4 450.5,140.0 451.9,140.5 453.2,141.1 454.6,141.6 456.0,142.2 457.4,142.7 458.8,143.3 460.2,143.8 461.6,144.3 463.0,144.8 464.5,145.3 465.9,145.7 467.3,146.2 468.7,146.6 470.2,147.0 471.6,147.5 473.1,147.9 474.5,148.3 475.9,148.7 477.4,149.0 478.8,149.4 480.3,149.8 481.7,150.2 483.2,150.5 484.6,150.9 486.1,151.3 487.5,151.7 489.0,152.0 490.4,152.4 491.9,152.8 493.3,153.3 494.7,153.7 496.2,154.1 497.6,154.5 499.1,154.9 500.5,155.3 501.9,155.7 503.4,156.2 504.8,156.6 506.3,157.0 507.7,157.4 509.1,157.8 510.6,158.2 512.0,158.6 513.5,159.0 514.9,159.3 516.4,159.7 517.8,160.1 519.2,160.5 520.7,160.9 522.1,161.3 523.6,161.7 525.0,162.1 526.5,162.4 527.9,162.8 529.4,163.2 530.8,163.6 532.3,164.0 533.7,164.3 535.2,164.7 536.6,165.0 538.1,165.4 539.5,165.8 541.0,166.1 542.4,166.4 543.9,166.8 545.4,167.1 546.8,167.4 548.3,167.8 549.7,168.1 551.2,168.4 552.7,168.8 554.1,169.1 555.6,169.4 557.0,169.8 558.5,170.1 560.0,170.4 561.4,170.8 562.9,171.1 564.3,171.4 565.8,171.7 567.3,172.1 568.7,172.4 570.2,172.7 571.6,173.0 573.1,173.4 574.6,173.7 576.0,174.0 577.5,174.3 579.0,174.7 580.4,175.0 581.9,175.3 583.3,175.6 584.8,176.0 586.3,176.3 587.7,176.6 589.2,176.9 590.6,177.3 592.1,177.6 593.6,177.9 595.0,178.2 596.5,178.5 597.9,178.9 599.4,179.2 600.9,179.5 602.3,179.8 603.8,180.2 605.3,180.5 606.7,180.8 608.2,181.1 609.6,181.5 611.1,181.8 612.6,182.1 614.0,182.5 615.5,182.8 616.9,183.1 618.4,183.5 619.8,183.8 621.3,184.2 622.8,184.5 624.2,184.9 625.7,185.2 627.1,185.6 628.6,186.0 630.0,186.4 631.5,186.7 632.9,187.1 634.3,187.5 635.8,187.9 637.2,188.3 638.7,188.7 640.1,189.1 641.5,189.6 643.0,190.0 644.4,190.4 645.9,190.8 647.3,191.3 648.7,191.7 650.1,192.2 651.6,192.6 653.0,193.1 654.4,193.5 655.8,194.0 657.3,194.5 658.7,194.9 660.1,195.4 661.5,195.9 662.9,196.5 664.3,197.0 665.7,197.5 667.1,198.1 668.5,198.7 669.8,199.3 671.2,200.0 672.5,200.7 673.8,201.4 675.1,202.1 676.4,202.8 677.7,203.7 678.9,204.6 680.0,205.5 681.1,206.6 681.9,207.8 682.5,209.2"/>
<polyline class="dash" stroke="#40e0d0" points="393.0,125.0 393.0,126.5 393.0,128.0 393.0,129.5 393.0,131.0 393.0,132.5 393.1,134.0 393.1,135.5 393.1,137.0 393.1,138.5 393.2,140.0 393.2,141.5 393.3,143.0 393.3,144.5 393.4,146.0 393.5,147.5 393.6,149.0 393.7,150.4 393.9,151.9 394.0,153.4 394.2,154.9 394.5,156.4 394.8,157.9 395.2,159.3 395.6,160.8 396.1,162.2 396.7,163.5 397.4,164.8 398.3,166.1 399.2,167.3 400.1,168.4 401.2,169.5 402.3,170.6 403.4,171.5 404.6,172.4 405.8,173.2 407.1,174.0 408.5,174.7 409.8,175.3 411.2,175.9 412.6,176.5 414.0,177.0 415.5,177.4 416.9,177.9 418.3,178.2 419.8,178.6 421.3,178.9 422.7,179.3 424.2,179.6 425.6,180.0 427.1,180.4 428.5,180.7 430.0,181.1 431.4,181.5 432.9,181.8 434.3,182.2 435.8,182.5 437.2,182.9 438.7,183.3 440.1,183.6 441.6,183.9 443.1,184.2 444.5,184.5 446.0,184.8 447.5,185.1 449.0,185.3 450.4,185.6 451.9,185.8 453.4,186.1 454.9,186.3 456.3,186.5 457.8,186.8 459.3,187.0 460.8,187.2 462.3,187.4 463.7,187.7 465.2,187.9 466.7,188.1 468.2,188.3 469.7,188.5 471.1,188.7 472.6,188.9 474.1,189.1 475.6,189.3 477.1,189.4 478.6,189.6 480.1,189.8 481.6,189.9 483.0,190.1 484.5,190.3 486.0,190.4 487.5,190.6 489.0,190.8 490.5,191.0 492.0,191.1 493.4,191.3 494.9,191.5 496.4,191.7 497.9,191.8 499.4,192.0 500.9,192.2 502.4,192.4 503.9,192.5 505.3,192.7 506.8,192.9 508.3,193.1 509.8,193.3 511.3,193.4 512.8,193.6 514.3,193.8 515.7,194.0 517.2,194.1 518.7,194.3 520.2,194.5 521.7,194.7 523.2,194.8 524.7,195.0 526.1,195.2 527.6,195.4 529.1,195.5 530.6,195.7 532.1,195.9 533.6,196.0 535.1,196.2 536.6,196.4 538.0,196.5 539.5,196.7 541.0,196.8 542.5,197.0 544.0,197.1 545.5,197.3 547.0,197.4 548.5,197.6 550.0,197.7 551.4,197.9 552.9,198.0 554.4,198.2 555.9,198.3 557.4,198.5 558.9,198.6 560.4,198.8 561.9,198.9 563.4,199.0 564.9,199.2 566.3,199.3 567.8,199.4 569.3,199.6 570.8,199.7 572.3,199.8 573.8,199.9 575.3,200.1 576.8,200.2 578.3,200.3 579.8,200.4 581.3,200.5 582.8,200.6 584.2,200.8 585.7,200.9 587.2,201.0 588.7,201.1 590.2,201.2 591.7,201.3 593.2,201.4 594.7,201.5 596.2,201.6 597.7,201.7 599.2,201.8 600.7,201.9 602.2,202.0 603.7,202.1 605.2,202.2 606.6,202.3 608.1,202.4 609.6,202.5 611.1,202.6 612.6,202.7 614.1,202.8 615.6,202.9 617.1,203.0 618.6,203.1 620.1,203.2 621.6,203.3 623.1,203.4 624.6,203.5 626.1,203.6 627.6,203.8 629.0,203.9 630.5,204.0 632.0,204.1 633.5,204.2 635.0,204.3 636.5,204.4 638.0,204.5 639.5,204.6 641.0,204.8 642.5,204.9 644.0,205.0 645.5,205.1 647.0,205.3 648.4,205.4 649.9,205.5 651.4,205.6 652.9,205.8 654.4,205.9 655.9,206.1 657.4,206.2 658.9,206.3 660.4,206.5 661.9,206.6 663.3,206.8 664.8,206.9 666.3,207.1 667.8,207.2 669.3,207.3 670.8,207.5 672.3,207.6 673.8,207.7 675.3,207.9 676.8,208.0 678.3,208.1 679.7,208.2 681.2,208.4 682.5,209.2"/>
<polyline class="dash" stroke="#8b1a62" points="393.0,151.0 393.0,152.5 393.0,154.0 393.0,155.5 393.0,157.0 393.1,158.5 393.1,160.0 393.1,161.5 393.2,163.0 393.2,164.5 393.2,165.9 393.3,167.4 393.3,168.9 393.4,170.4 393.5,171.9 393.7,173.4 393.8,174.9 393.9,176.4 394.1,177.9 394.4,179.3 394.7,180.8 395.1,182.3 395.5,183.7 396.0,185.1 396.6,186.5 397.4,187.8 398.2,189.0 399.2,190.2 400.2,191.3 401.3,192.3 402.6,193.2 403.9,193.9 405.2,194.5 406.6,195.0 408.0,195.5 409.5,195.9 410.9,196.3 412.4,196.6 413.9,196.9 415.3,197.3 416.8,197.6 418.3,197.8 419.7,198.1 421.2,198.3 422.7,198.6 424.2,198.7 425.6,198.9 427.1,199.1 428.6,199.3 430.1,199.4 431.6,199.6 433.1,199.7 434.6,199.8 436.1,199.9 437.5,200.0 439.0,200.1 440.5,200.2 442.0,200.3 443.5,200.4 445.0,200.5 446.5,200.6 448.0,200.7 449.5,200.8 451.0,200.9 452.5,201.0 454.0,201.1 455.5,201.2 456.9,201.3 458.4,201.4 459.9,201.5 461.4,201.6 462.9,201.7 464.4,201.7 465.9,201.8 467.4,201.9 468.9,202.0 470.4,202.1 471.9,202.2 473.4,202.2 474.8,202.3 476.3,202.4 477.8,202.5 479.3,202.6 480.8,202.6 482.3,202.7 483.8,202.8 485.3,202.9 486.8,202.9 488.3,203.0 489.8,203.1 491.3,203.2 492.8,203.2 494.3,203.3 495.8,203.4 497.2,203.4 498.7,203.5 500.2,203.6 501.7,203.6 503.2,203.7 504.7,203.8 506.2,203.8 507.7,203.9 509.2,203.9 510.7,204.0 512.2,204.1 513.7,204.1 515.2,204.2 516.7,204.2 518.2,204.3 519.6,204.4 521.1,204.4 522.6,204.5 524.1,204.5 525.6,204.6 527.1,204.6 528.6,204.7 530.1,204.8 531.6,204.8 533.1,204.9 534.6,204.9 536.1,205.0 537.6,205.0 539.1,205.1 540.6,205.1 542.1,205.2 543.5,205.2 545.0,205.3 546.5,205.3 548.0,205.4 549.5,205.4 551.0,205.5 552.5,205.5 554.0,205.6 555.5,205.6 557.0,205.7 558.5,205.7 560.0,205.8 561.5,205.8 563.0,205.9 564.5,205.9 566.0,205.9 567.5,206.0 568.9,206.0 570.4,206.1 571.9,206.1 573.4,206.2 574.9,206.2 576.4,206.3 577.9,206.3 579.4,206.3 580.9,206.4 582.4,206.4 583.9,206.5 585.4,206.5 586.9,206.5 588.4,206.6 589.9,206.6 591.4,206.7 592.9,206.7 594.3,206.7 595.8,206.8 597.3,206.8 598.8,206.9 600.3,206.9 601.8,206.9 603.3,207.0 604.8,207.0 606.3,207.1 607.8,207.1 609.3,207.1 610.8,207.2 612.3,207.2 613.8,207.2 615.3,207.3 616.8,207.3 618.3,207.3 619.8,207.4 621.2,207.4 622.7,207.4 624.2,207.5 625.7,207.5 627.2,207.5 628.7,207.6 630.2,207.6 631.7,207.6 633.2,207.7 634.7,207.7 636.2,207.7 637.7,207.8 639.2,207.8 640.7,207.8 642.2,207.9 643.7,207.9 645.2,207.9 646.7,208.0 648.1,208.0 649.6,208.0 651.1,208.1 652.6,208.1 654.1,208.1 655.6,208.2 657.1,208.2 658.6,208.2 660.1,208.3 661.6,208.3 663.1,208.3 664.6,208.4 666.1,208.4 667.6,208.5 669.1,208.5 670.6,208.5 672.1,208.6 673.5,208.7 675.0,208.7 676.5,208.8 678.0,208.9 679.5,208.9 681.0,209.0 682.5,209.2"/>
<polyline class="sol" stroke="#0000ff" points="393.2,6.0 393.2,7.5 393.2,9.0 393.2,10.5 393.2,12.0 393.3,13.5 393.3,15.0 393.3,16.5 393.4,18.0 393.4,19.5 393.4,21.0 393.5,22.5 393.7,24.0 393.8,25.4 394.0,26.9 394.2,28.4 394.4,29.9 394.6,31.4 394.8,32.9 395.0,34.4 395.3,35.8 395.5,37.3 395.7,38.8 396.0,40.3 396.2,41.8 396.5,43.2 396.7,44.7 397.0,46.2 397.3,47.6 397.6,49.1 398.0,50.6 398.3,52.1 398.7,53.5 399.1,55.0 399.5,56.4 399.9,57.8 400.4,59.2 401.0,60.6 401.6,61.9 402.3,63.3 403.0,64.6 403.8,65.9 404.5,67.2 405.3,68.5 406.1,69.7 407.0,71.0 407.9,72.2 408.8,73.4 409.7,74.6 410.5,75.8 411.3,77.1 412.1,78.4 412.9,79.7 413.8,80.8 414.9,81.8 416.0,82.8 417.3,83.6 418.5,84.5 419.8,85.4 420.9,86.4 422.0,87.4 423.1,88.4 424.2,89.5 425.3,90.4 426.5,91.4 427.7,92.2 429.0,93.0 430.3,93.8 431.5,94.6 432.7,95.5 433.9,96.5 435.1,97.4 436.1,98.5 436.9,99.8 437.6,101.2 438.3,102.5 439.2,103.6 440.3,104.4 441.6,105.1 443.1,105.7 444.5,106.3 445.9,107.0 447.2,107.7 448.5,108.4 449.9,109.1 451.2,109.8 452.5,110.6 453.8,111.3 455.1,112.0 456.4,112.7 457.7,113.4 459.1,114.1 460.4,114.8 461.7,115.5 463.1,116.1 464.4,116.8 465.8,117.5 467.1,118.1 468.5,118.7 469.9,119.3 471.2,119.9 472.6,120.4 474.0,121.0 475.4,121.5 476.9,122.0 478.3,122.5 479.7,123.0 481.1,123.5 482.5,124.0 483.9,124.5 485.3,125.1 486.6,125.7 487.9,126.6 489.1,127.5 490.4,128.2 491.8,128.8 493.2,129.3 494.6,129.8 496.0,130.3 497.4,130.8 498.8,131.3 500.2,131.8 501.6,132.4 503.0,132.9 504.4,133.4 505.8,133.9 507.3,134.4 508.7,134.9 510.1,135.4 511.5,135.8 513.0,136.3 514.4,136.8 515.8,137.2 517.2,137.7 518.7,138.1 520.1,138.6 521.5,139.1 522.9,139.6 524.3,140.0 525.8,140.5 527.2,141.0 528.6,141.5 530.0,142.0 531.4,142.5 532.8,143.0 534.2,143.5 535.6,144.0 537.1,144.5 538.5,145.0 539.9,145.5 541.3,145.9 542.7,146.4 544.2,146.9 545.6,147.4 547.0,147.8 548.4,148.3 549.8,148.8 551.3,149.3 552.7,149.7 554.1,150.2 555.5,150.7 556.9,151.2 558.4,151.6 559.8,152.1 561.2,152.6 562.6,153.1 564.0,153.5 565.5,154.0 566.9,154.5 568.3,154.9 569.7,155.4 571.2,155.8 572.6,156.3 574.0,156.7 575.5,157.2 576.9,157.7 578.3,158.1 579.7,158.6 581.2,159.0 582.6,159.4 584.0,159.9 585.5,160.3 586.9,160.8 588.3,161.2 589.8,161.7 591.2,162.1 592.6,162.5 594.1,163.0 595.5,163.4 596.9,163.8 598.3,164.3 599.8,164.7 601.2,165.2 602.6,165.6 604.1,166.0 605.5,166.5 606.9,166.9 608.4,167.4 609.8,167.8 611.2,168.2 612.7,168.7 614.1,169.1 615.5,169.5 617.0,170.0 618.4,170.5 619.8,170.9 621.2,171.4 622.6,171.9 624.1,172.4 625.5,172.9 626.9,173.4 628.3,173.9 629.7,174.4 631.1,174.9 632.5,175.5 633.9,176.0 635.3,176.6 636.7,177.1 638.1,177.7 639.5,178.3 640.8,178.8 642.2,179.4 643.6,180.0 645.0,180.5 646.4,181.1 647.7,181.7 649.1,182.3 650.5,182.9 651.9,183.5 653.2,184.1 654.6,184.7 656.0,185.3 657.4,185.9 658.7,186.5 660.1,187.1 661.4,187.8 662.8,188.4 664.1,189.1 665.4,189.8 666.8,190.6 668.0,191.3 669.3,192.1 670.6,192.9 671.8,193.7 673.1,194.6 674.3,195.5 675.4,196.4 676.5,197.4 677.6,198.5 678.6,199.6 679.5,200.8 680.3,202.1 681.0,203.4 681.6,204.8 682.0,206.2 682.3,207.7 682.5,209.2"/>
<polyline class="sol" stroke="#ff0000" points="393.8,4.0 393.9,5.5 394.1,7.0 394.2,8.5 394.4,10.0 394.6,11.4 394.8,12.9 395.0,14.4 395.3,15.9 395.5,17.4 395.8,18.8 396.1,20.3 396.4,21.8 396.7,23.2 397.0,24.7 397.4,26.1 397.8,27.6 398.2,29.0 398.6,30.5 399.0,31.9 399.4,33.4 399.7,34.8 400.1,36.3 400.5,37.8 400.8,39.2 401.3,40.6 401.7,42.1 402.2,43.5 402.7,44.9 403.3,46.3 403.9,47.6 404.5,49.0 405.2,50.4 405.8,51.7 406.5,53.0 407.3,54.3 408.1,55.6 408.9,56.9 409.7,58.1 410.7,59.2 411.7,60.3 412.8,61.3 414.0,62.3 415.1,63.3 416.3,64.2 417.4,65.2 418.6,66.1 419.8,67.0 421.1,67.8 422.3,68.7 423.5,69.6 424.7,70.5 425.9,71.4 427.1,72.3 428.3,73.2 429.5,74.1 430.7,75.0 431.9,75.9 433.1,76.8 434.3,77.7 435.5,78.5 436.7,79.4 437.9,80.3 439.2,81.1 440.4,82.0 441.7,82.8 442.9,83.6 444.2,84.5 445.4,85.3 446.7,86.0 448.0,86.8 449.3,87.5 450.6,88.2 451.9,88.9 453.3,89.6 454.6,90.3 455.9,91.0 457.3,91.7 458.6,92.4 459.9,93.0 461.3,93.7 462.7,94.3 464.0,94.9 465.4,95.5 466.8,96.1 468.1,96.7 469.5,97.4 470.8,98.0 472.2,98.6 473.6,99.3 474.9,99.9 476.2,100.7 477.5,101.4 478.8,102.2 480.0,103.0 481.2,103.9 482.3,104.9 483.5,105.9 484.6,106.9 485.8,107.8 487.0,108.7 488.3,109.5 489.6,110.3 490.9,111.0 492.2,111.7 493.5,112.4 494.9,113.1 496.2,113.7 497.6,114.3 499.0,114.7 500.5,115.0 502.0,115.2 503.5,115.5 504.9,115.7 506.4,116.1 507.8,116.6 509.1,117.2 510.5,117.9 511.9,118.5 513.2,119.1 514.6,119.7 516.0,120.2 517.4,120.8 518.8,121.3 520.2,121.9 521.6,122.4 523.0,122.9 524.4,123.4 525.8,123.9 527.3,124.4 528.7,124.9 530.1,125.3 531.5,125.8 532.9,126.3 534.4,126.7 535.8,127.2 537.2,127.7 538.6,128.3 540.0,128.8 541.4,129.4 542.8,129.9 544.2,130.5 545.5,131.1 546.9,131.6 548.3,132.2 549.7,132.8 551.1,133.3 552.5,133.8 553.9,134.3 555.3,134.8 556.7,135.3 558.2,135.8 559.6,136.3 561.0,136.7 562.4,137.2 563.8,137.7 565.3,138.2 566.7,138.6 568.1,139.1 569.5,139.6 570.9,140.1 572.3,140.6 573.8,141.1 575.2,141.6 576.6,142.1 578.0,142.6 579.4,143.1 580.8,143.6 582.2,144.1 583.6,144.6 585.0,145.1 586.4,145.6 587.8,146.2 589.2,146.7 590.6,147.2 592.0,147.8 593.4,148.3 594.8,148.8 596.2,149.4 597.6,149.9 599.0,150.5 600.4,151.0 601.8,151.6 603.2,152.1 604.6,152.7 606.0,153.2 607.4,153.8 608.8,154.3 610.2,154.9 611.6,155.4 612.9,156.0 614.3,156.6 615.7,157.1 617.1,157.7 618.5,158.3 619.9,158.9 621.2,159.5 622.6,160.0 624.0,160.6 625.4,161.2 626.7,161.8 628.1,162.5 629.5,163.1 630.8,163.7 632.2,164.3 633.5,164.9 634.9,165.6 636.3,166.2 637.6,166.9 639.0,167.5 640.3,168.2 641.7,168.8 643.0,169.5 644.3,170.2 645.7,170.8 647.0,171.5 648.3,172.2 649.7,172.9 651.0,173.6 652.3,174.3 653.6,175.1 654.9,175.8 656.2,176.6 657.5,177.3 658.7,178.2 660.0,179.0 661.2,179.8 662.5,180.7 663.7,181.5 664.9,182.4 666.1,183.4 667.2,184.3 668.4,185.3 669.5,186.3 670.6,187.3 671.6,188.3 672.7,189.4 673.7,190.5 674.7,191.7 675.6,192.8 676.5,194.0 677.3,195.3 678.1,196.5 678.9,197.8 679.6,199.2 680.2,200.5 680.8,201.9 681.3,203.3 681.7,204.8 682.0,206.2 682.3,207.7 682.5,209.2"/>
</g>
<path class="tk" d="M398.59,209.2v-2.8M398.59,6.5v2.8M404.39,209.2v-2.8M404.39,6.5v2.8M410.18,209.2v-2.8M410.18,6.5v2.8M415.98,209.2v-2.8M415.98,6.5v2.8M421.77,209.2v-5.6M421.77,6.5v5.6M427.56,209.2v-2.8M427.56,6.5v2.8M433.36,209.2v-2.8M433.36,6.5v2.8M439.15,209.2v-2.8M439.15,6.5v2.8M444.95,209.2v-2.8M444.95,6.5v2.8M450.74,209.2v-5.6M450.74,6.5v5.6M456.53,209.2v-2.8M456.53,6.5v2.8M462.33,209.2v-2.8M462.33,6.5v2.8M468.12,209.2v-2.8M468.12,6.5v2.8M473.92,209.2v-2.8M473.92,6.5v2.8M479.71,209.2v-5.6M479.71,6.5v5.6M485.5,209.2v-2.8M485.5,6.5v2.8M491.3,209.2v-2.8M491.3,6.5v2.8M497.09,209.2v-2.8M497.09,6.5v2.8M502.89,209.2v-2.8M502.89,6.5v2.8M508.68,209.2v-5.6M508.68,6.5v5.6M514.47,209.2v-2.8M514.47,6.5v2.8M520.27,209.2v-2.8M520.27,6.5v2.8M526.06,209.2v-2.8M526.06,6.5v2.8M531.86,209.2v-2.8M531.86,6.5v2.8M537.65,209.2v-5.6M537.65,6.5v5.6M543.44,209.2v-2.8M543.44,6.5v2.8M549.24,209.2v-2.8M549.24,6.5v2.8M555.03,209.2v-2.8M555.03,6.5v2.8M560.83,209.2v-2.8M560.83,6.5v2.8M566.62,209.2v-5.6M566.62,6.5v5.6M572.41,209.2v-2.8M572.41,6.5v2.8M578.21,209.2v-2.8M578.21,6.5v2.8M584,209.2v-2.8M584,6.5v2.8M589.8,209.2v-2.8M589.8,6.5v2.8M595.59,209.2v-5.6M595.59,6.5v5.6M601.38,209.2v-2.8M601.38,6.5v2.8M607.18,209.2v-2.8M607.18,6.5v2.8M612.97,209.2v-2.8M612.97,6.5v2.8M618.77,209.2v-2.8M618.77,6.5v2.8M624.56,209.2v-5.6M624.56,6.5v5.6M630.35,209.2v-2.8M630.35,6.5v2.8M636.15,209.2v-2.8M636.15,6.5v2.8M641.94,209.2v-2.8M641.94,6.5v2.8M647.74,209.2v-2.8M647.74,6.5v2.8M653.53,209.2v-5.6M653.53,6.5v5.6M659.32,209.2v-2.8M659.32,6.5v2.8M665.12,209.2v-2.8M665.12,6.5v2.8M670.91,209.2v-2.8M670.91,6.5v2.8M676.71,209.2v-2.8M676.71,6.5v2.8M392.8,193.95h3.0M682.5,193.95h-3.0M392.8,185.02h3.0M682.5,185.02h-3.0M392.8,178.69h3.0M682.5,178.69h-3.0M392.8,173.78h3.0M682.5,173.78h-3.0M392.8,169.77h3.0M682.5,169.77h-3.0M392.8,166.37h3.0M682.5,166.37h-3.0M392.8,163.44h3.0M682.5,163.44h-3.0M392.8,160.84h3.0M682.5,160.84h-3.0M392.8,158.52h5.8M682.5,158.52h-5.8M392.8,143.27h3.0M682.5,143.27h-3.0M392.8,134.35h3.0M682.5,134.35h-3.0M392.8,128.02h3.0M682.5,128.02h-3.0M392.8,123.1h3.0M682.5,123.1h-3.0M392.8,119.09h3.0M682.5,119.09h-3.0M392.8,115.7h3.0M682.5,115.7h-3.0M392.8,112.76h3.0M682.5,112.76h-3.0M392.8,110.17h3.0M682.5,110.17h-3.0M392.8,107.85h5.8M682.5,107.85h-5.8M392.8,92.6h3.0M682.5,92.6h-3.0M392.8,83.67h3.0M682.5,83.67h-3.0M392.8,77.34h3.0M682.5,77.34h-3.0M392.8,72.43h3.0M682.5,72.43h-3.0M392.8,68.42h3.0M682.5,68.42h-3.0M392.8,65.02h3.0M682.5,65.02h-3.0M392.8,62.09h3.0M682.5,62.09h-3.0M392.8,59.49h3.0M682.5,59.49h-3.0M392.8,57.18h5.8M682.5,57.18h-5.8M392.8,41.92h3.0M682.5,41.92h-3.0M392.8,33h3.0M682.5,33h-3.0M392.8,26.67h3.0M682.5,26.67h-3.0M392.8,21.75h3.0M682.5,21.75h-3.0M392.8,17.74h3.0M682.5,17.74h-3.0M392.8,14.35h3.0M682.5,14.35h-3.0M392.8,11.41h3.0M682.5,11.41h-3.0M392.8,8.82h3.0M682.5,8.82h-3.0"/>
<rect class="fr" x="392.8" y="6.5" width="289.7" height="202.7"/>
<text class="tl" text-anchor="middle" x="392.8" y="219.4">0</text>
<text class="tl" text-anchor="middle" x="421.77" y="219.4">0.1</text>
<text class="tl" text-anchor="middle" x="450.74" y="219.4">0.2</text>
<text class="tl" text-anchor="middle" x="479.71" y="219.4">0.3</text>
<text class="tl" text-anchor="middle" x="508.68" y="219.4">0.4</text>
<text class="tl" text-anchor="middle" x="537.65" y="219.4">0.5</text>
<text class="tl" text-anchor="middle" x="566.62" y="219.4">0.6</text>
<text class="tl" text-anchor="middle" x="595.59" y="219.4">0.7</text>
<text class="tl" text-anchor="middle" x="624.56" y="219.4">0.8</text>
<text class="tl" text-anchor="middle" x="653.53" y="219.4">0.9</text>
<text class="tl" text-anchor="middle" x="682.5" y="219.4">1</text>
<text class="tl" text-anchor="end" x="392.3" y="212.6">1</text>
<text class="tl" text-anchor="end" x="390" y="163.12">10</text>
<text class="tl" text-anchor="end" x="390.4" y="113.25">10<tspan class="sup" dy="-5.6">2</tspan></text>
<text class="tl" text-anchor="end" x="390.4" y="62.58">10<tspan class="sup" dy="-5.6">3</tspan></text>
<text class="tl" text-anchor="end" x="390.4" y="11.9">10<tspan class="sup" dy="-5.6">4</tspan></text>
<text class="at" text-anchor="middle" x="537.65" y="230.2">signal eff</text>
<text class="at" text-anchor="middle" transform="translate(370,107.85) rotate(-90)">bkg rejection</text>
<text class="tt" y="28.15"><tspan x="433.6">S</tspan> <tspan class="ar" x="443.2" dy="1.8">→</tspan> <tspan x="455.2" dy="-1.8">AA</tspan> <tspan class="ar" x="471.1" dy="1.8">→</tspan> <tspan x="483.7" dy="-1.8">4b</tspan></text>
<text class="st" x="434" y="41.6">M<tspan class="sb" dy="3">S</tspan><tspan dy="-3"> = 200 GeV , M</tspan><tspan class="sb" dy="3">A</tspan><tspan dy="-3"> = 80 GeV</tspan></text>
<text class="sl" text-anchor="middle" transform="translate(662.5,139.1) rotate(5.5)" y="2.4">s = 4</text>
<text class="sl" text-anchor="middle" transform="translate(662.2,152.2) rotate(5.5)" y="2.4">s = 3</text>
<text class="sl" text-anchor="middle" transform="translate(660.7,169.9) rotate(5.5)" y="2.4">s = 2</text>
<text class="sl" text-anchor="middle" transform="translate(566.6,181.2) rotate(9)" y="2.4">s = 1</text>
<rect class="lg" x="601.2" y="20.7" width="61.6" height="64.9"/>
<path class="sol ls" fill="none" stroke="#ff0000" d="M604.4,26.8H619"/>
<text class="lt" x="624.9" y="29.8">NN 4P</text>
<path class="sol ls" fill="none" stroke="#0000ff" d="M604.4,37.3H619"/>
<text class="lt" x="624.9" y="39.2">LoRD T<tspan class="sb2" dy="2.3">4P</tspan></text>
<path class="dash ls" fill="none" stroke="#a020f0" d="M604.4,48.4H619"/>
<text class="lt" x="624.9" y="49.7"><tspan class="tau">τ</tspan><tspan class="sb2" dy="2.3">43</tspan></text>
<path class="dash ls" fill="none" stroke="#ffa500" d="M604.4,58.6H619"/>
<text class="lt" x="624.9" y="59.9"><tspan class="tau">τ</tspan><tspan class="sb2" dy="2.3">42</tspan></text>
<path class="dash ls" fill="none" stroke="#40e0d0" d="M604.4,69.1H619"/>
<text class="lt" x="624.9" y="70.4"><tspan class="tau">τ</tspan><tspan class="sb2" dy="2.3">41</tspan></text>
<path class="dash ls" fill="none" stroke="#8b1a62" d="M604.4,79.3H619"/>
<text class="lt" x="624.9" y="80.6"><tspan class="tau">τ</tspan><tspan class="sb2" dy="2.3">21</tspan></text>
</g>
<g class="panel">
<clipPath id="cp2"><rect x="31.5" y="247.5" width="290" height="202.7"/></clipPath>
<g clip-path="url(#cp2)" fill="none">
<polyline class="br" points="34.1,243.3 35.5,261.2 36.8,273.8 38.1,283.6 39.4,291.7 40.7,298.4 42.0,304.3 43.4,309.5 44.7,314.1 46.0,318.3 47.3,322.2 48.6,325.7 50.0,329.0 51.3,332.0 52.6,334.8 53.9,337.5 55.2,340.0 56.5,342.4 57.9,344.7 59.2,346.8 60.5,348.9 61.8,350.8 63.1,352.7 64.5,354.5 65.8,356.2 67.1,357.9 68.4,359.5 69.7,361.0 71.0,362.5 72.4,363.9 73.7,365.3 75.0,366.7 76.3,368.0 77.6,369.3 79.0,370.5 80.3,371.7 81.6,372.9 82.9,374.0 84.2,375.2 85.5,376.3 86.9,377.3 88.2,378.3 89.5,379.4 90.8,380.3 92.1,381.3 93.5,382.3 94.8,383.2 96.1,384.1 97.4,385.0 98.7,385.9 100.0,386.7 101.4,387.6 102.7,388.4 104.0,389.2 105.3,390.0 106.6,390.8 108.0,391.5 109.3,392.3 110.6,393.0 111.9,393.7 113.2,394.5 114.5,395.2 115.9,395.9 117.2,396.5 118.5,397.2 119.8,397.9 121.1,398.5 122.5,399.2 123.8,399.8 125.1,400.4 126.4,401.0 127.7,401.6 129.0,402.2 130.4,402.8 131.7,403.4 133.0,404.0 134.3,404.6 135.6,405.1 137.0,405.7 138.3,406.2 139.6,406.8 140.9,407.3 142.2,407.8 143.5,408.3 144.9,408.9 146.2,409.4 147.5,409.9 148.8,410.4 150.1,410.9 151.5,411.3 152.8,411.8 154.1,412.3 155.4,412.8 156.7,413.2 158.0,413.7 159.4,414.2 160.7,414.6 162.0,415.1 163.3,415.5 164.6,415.9 166.0,416.4 167.3,416.8 168.6,417.2 169.9,417.6 171.2,418.1 172.5,418.5 173.9,418.9 175.2,419.3 176.5,419.7 177.8,420.1 179.1,420.5 180.5,420.9 181.8,421.3 183.1,421.6 184.4,422.0 185.7,422.4 187.0,422.8 188.4,423.2 189.7,423.5 191.0,423.9 192.3,424.2 193.6,424.6 195.0,425.0 196.3,425.3 197.6,425.7 198.9,426.0 200.2,426.4 201.5,426.7 202.9,427.0 204.2,427.4 205.5,427.7 206.8,428.0 208.1,428.4 209.5,428.7 210.8,429.0 212.1,429.4 213.4,429.7 214.7,430.0 216.0,430.3 217.4,430.6 218.7,430.9 220.0,431.2 221.3,431.5 222.6,431.9 224.0,432.2 225.3,432.5 226.6,432.8 227.9,433.0 229.2,433.3 230.5,433.6 231.9,433.9 233.2,434.2 234.5,434.5 235.8,434.8 237.1,435.1 238.5,435.3 239.8,435.6 241.1,435.9 242.4,436.2 243.7,436.5 245.0,436.7 246.4,437.0 247.7,437.3 249.0,437.5 250.3,437.8 251.6,438.1 253.0,438.3 254.3,438.6 255.6,438.9 256.9,439.1 258.2,439.4 259.5,439.6 260.9,439.9 262.2,440.1 263.5,440.4 264.8,440.6 266.1,440.9 267.5,441.1 268.8,441.4 270.1,441.6 271.4,441.9 272.7,442.1 274.0,442.3 275.4,442.6 276.7,442.8 278.0,443.0 279.3,443.3 280.6,443.5 282.0,443.7 283.3,444.0 284.6,444.2 285.9,444.4 287.2,444.7 288.5,444.9 289.9,445.1 291.2,445.3 292.5,445.6 293.8,445.8 295.1,446.0 296.5,446.2 297.8,446.4 299.1,446.7 300.4,446.9 301.7,447.1 303.0,447.3 304.4,447.5 305.7,447.7 307.0,447.9 308.3,448.2 309.6,448.4 311.0,448.6 312.3,448.8 313.6,449.0 314.9,449.2 316.2,449.4 317.5,449.6 318.9,449.8 320.2,450.0 321.5,450.2"/>
<polyline class="br" points="36.8,243.3 38.1,253.1 39.4,261.2 40.7,267.9 42.0,273.8 43.4,279.0 44.7,283.6 46.0,287.8 47.3,291.7 48.6,295.2 50.0,298.4 51.3,301.5 52.6,304.3 53.9,307.0 55.2,309.5 56.5,311.9 57.9,314.1 59.2,316.3 60.5,318.3 61.8,320.3 63.1,322.2 64.5,324.0 65.8,325.7 67.1,327.4 68.4,329.0 69.7,330.5 71.0,332.0 72.4,333.4 73.7,334.8 75.0,336.2 76.3,337.5 77.6,338.8 79.0,340.0 80.3,341.2 81.6,342.4 82.9,343.5 84.2,344.7 85.5,345.7 86.9,346.8 88.2,347.8 89.5,348.9 90.8,349.8 92.1,350.8 93.5,351.8 94.8,352.7 96.1,353.6 97.4,354.5 98.7,355.3 100.0,356.2 101.4,357.0 102.7,357.9 104.0,358.7 105.3,359.5 106.6,360.2 108.0,361.0 109.3,361.8 110.6,362.5 111.9,363.2 113.2,363.9 114.5,364.6 115.9,365.3 117.2,366.0 118.5,366.7 119.8,367.4 121.1,368.0 122.5,368.7 123.8,369.3 125.1,369.9 126.4,370.5 127.7,371.1 129.0,371.7 130.4,372.3 131.7,372.9 133.0,373.5 134.3,374.0 135.6,374.6 137.0,375.2 138.3,375.7 139.6,376.3 140.9,376.8 142.2,377.3 143.5,377.8 144.9,378.3 146.2,378.9 147.5,379.4 148.8,379.9 150.1,380.3 151.5,380.8 152.8,381.3 154.1,381.8 155.4,382.3 156.7,382.7 158.0,383.2 159.4,383.6 160.7,384.1 162.0,384.5 163.3,385.0 164.6,385.4 166.0,385.9 167.3,386.3 168.6,386.7 169.9,387.1 171.2,387.6 172.5,388.0 173.9,388.4 175.2,388.8 176.5,389.2 177.8,389.6 179.1,390.0 180.5,390.4 181.8,390.8 183.1,391.1 184.4,391.5 185.7,391.9 187.0,392.3 188.4,392.6 189.7,393.0 191.0,393.4 192.3,393.7 193.6,394.1 195.0,394.5 196.3,394.8 197.6,395.2 198.9,395.5 200.2,395.9 201.5,396.2 202.9,396.5 204.2,396.9 205.5,397.2 206.8,397.5 208.1,397.9 209.5,398.2 210.8,398.5 212.1,398.8 213.4,399.2 214.7,399.5 216.0,399.8 217.4,400.1 218.7,400.4 220.0,400.7 221.3,401.0 222.6,401.3 224.0,401.6 225.3,401.9 226.6,402.2 227.9,402.5 229.2,402.8 230.5,403.1 231.9,403.4 233.2,403.7 234.5,404.0 235.8,404.3 237.1,404.6 238.5,404.8 239.8,405.1 241.1,405.4 242.4,405.7 243.7,405.9 245.0,406.2 246.4,406.5 247.7,406.8 249.0,407.0 250.3,407.3 251.6,407.6 253.0,407.8 254.3,408.1 255.6,408.3 256.9,408.6 258.2,408.9 259.5,409.1 260.9,409.4 262.2,409.6 263.5,409.9 264.8,410.1 266.1,410.4 267.5,410.6 268.8,410.9 270.1,411.1 271.4,411.3 272.7,411.6 274.0,411.8 275.4,412.1 276.7,412.3 278.0,412.5 279.3,412.8 280.6,413.0 282.0,413.2 283.3,413.5 284.6,413.7 285.9,413.9 287.2,414.2 288.5,414.4 289.9,414.6 291.2,414.8 292.5,415.1 293.8,415.3 295.1,415.5 296.5,415.7 297.8,415.9 299.1,416.2 300.4,416.4 301.7,416.6 303.0,416.8 304.4,417.0 305.7,417.2 307.0,417.4 308.3,417.6 309.6,417.9 311.0,418.1 312.3,418.3 313.6,418.5 314.9,418.7 316.2,418.9 317.5,419.1 318.9,419.3 320.2,419.5 321.5,419.7"/>
<polyline class="br" points="38.1,235.3 39.4,243.3 40.7,250.1 42.0,256.0 43.4,261.2 44.7,265.8 46.0,270.0 47.3,273.8 48.6,277.3 50.0,280.6 51.3,283.6 52.6,286.5 53.9,289.1 55.2,291.7 56.5,294.0 57.9,296.3 59.2,298.4 60.5,300.5 61.8,302.5 63.1,304.3 64.5,306.1 65.8,307.8 67.1,309.5 68.4,311.1 69.7,312.7 71.0,314.1 72.4,315.6 73.7,317.0 75.0,318.3 76.3,319.7 77.6,320.9 79.0,322.2 80.3,323.4 81.6,324.6 82.9,325.7 84.2,326.8 85.5,327.9 86.9,329.0 88.2,330.0 89.5,331.0 90.8,332.0 92.1,333.0 93.5,333.9 94.8,334.8 96.1,335.7 97.4,336.6 98.7,337.5 100.0,338.4 101.4,339.2 102.7,340.0 104.0,340.8 105.3,341.6 106.6,342.4 108.0,343.2 109.3,343.9 110.6,344.7 111.9,345.4 113.2,346.1 114.5,346.8 115.9,347.5 117.2,348.2 118.5,348.9 119.8,349.5 121.1,350.2 122.5,350.8 123.8,351.4 125.1,352.1 126.4,352.7 127.7,353.3 129.0,353.9 130.4,354.5 131.7,355.1 133.0,355.6 134.3,356.2 135.6,356.8 137.0,357.3 138.3,357.9 139.6,358.4 140.9,358.9 142.2,359.5 143.5,360.0 144.9,360.5 146.2,361.0 147.5,361.5 148.8,362.0 150.1,362.5 151.5,363.0 152.8,363.5 154.1,363.9 155.4,364.4 156.7,364.9 158.0,365.3 159.4,365.8 160.7,366.2 162.0,366.7 163.3,367.1 164.6,367.6 166.0,368.0 167.3,368.4 168.6,368.9 169.9,369.3 171.2,369.7 172.5,370.1 173.9,370.5 175.2,370.9 176.5,371.3 177.8,371.7 179.1,372.1 180.5,372.5 181.8,372.9 183.1,373.3 184.4,373.7 185.7,374.0 187.0,374.4 188.4,374.8 189.7,375.2 191.0,375.5 192.3,375.9 193.6,376.3 195.0,376.6 196.3,377.0 197.6,377.3 198.9,377.7 200.2,378.0 201.5,378.3 202.9,378.7 204.2,379.0 205.5,379.4 206.8,379.7 208.1,380.0 209.5,380.3 210.8,380.7 212.1,381.0 213.4,381.3 214.7,381.6 216.0,381.9 217.4,382.3 218.7,382.6 220.0,382.9 221.3,383.2 222.6,383.5 224.0,383.8 225.3,384.1 226.6,384.4 227.9,384.7 229.2,385.0 230.5,385.3 231.9,385.6 233.2,385.9 234.5,386.1 235.8,386.4 237.1,386.7 238.5,387.0 239.8,387.3 241.1,387.6 242.4,387.8 243.7,388.1 245.0,388.4 246.4,388.6 247.7,388.9 249.0,389.2 250.3,389.4 251.6,389.7 253.0,390.0 254.3,390.2 255.6,390.5 256.9,390.8 258.2,391.0 259.5,391.3 260.9,391.5 262.2,391.8 263.5,392.0 264.8,392.3 266.1,392.5 267.5,392.8 268.8,393.0 270.1,393.3 271.4,393.5 272.7,393.7 274.0,394.0 275.4,394.2 276.7,394.5 278.0,394.7 279.3,394.9 280.6,395.2 282.0,395.4 283.3,395.6 284.6,395.9 285.9,396.1 287.2,396.3 288.5,396.5 289.9,396.8 291.2,397.0 292.5,397.2 293.8,397.4 295.1,397.6 296.5,397.9 297.8,398.1 299.1,398.3 300.4,398.5 301.7,398.7 303.0,398.9 304.4,399.2 305.7,399.4 307.0,399.6 308.3,399.8 309.6,400.0 311.0,400.2 312.3,400.4 313.6,400.6 314.9,400.8 316.2,401.0 317.5,401.2 318.9,401.4 320.2,401.6 321.5,401.8"/>
<polyline class="br" points="40.7,237.4 42.0,243.3 43.4,248.5 44.7,253.1 46.0,257.3 47.3,261.2 48.6,264.7 50.0,267.9 51.3,271.0 52.6,273.8 53.9,276.5 55.2,279.0 56.5,281.4 57.9,283.6 59.2,285.8 60.5,287.8 61.8,289.8 63.1,291.7 64.5,293.5 65.8,295.2 67.1,296.8 68.4,298.4 69.7,300.0 71.0,301.5 72.4,302.9 73.7,304.3 75.0,305.7 76.3,307.0 77.6,308.3 79.0,309.5 80.3,310.7 81.6,311.9 82.9,313.0 84.2,314.1 85.5,315.2 86.9,316.3 88.2,317.3 89.5,318.3 90.8,319.3 92.1,320.3 93.5,321.2 94.8,322.2 96.1,323.1 97.4,324.0 98.7,324.8 100.0,325.7 101.4,326.5 102.7,327.4 104.0,328.2 105.3,329.0 106.6,329.7 108.0,330.5 109.3,331.3 110.6,332.0 111.9,332.7 113.2,333.4 114.5,334.1 115.9,334.8 117.2,335.5 118.5,336.2 119.8,336.8 121.1,337.5 122.5,338.1 123.8,338.8 125.1,339.4 126.4,340.0 127.7,340.6 129.0,341.2 130.4,341.8 131.7,342.4 133.0,343.0 134.3,343.5 135.6,344.1 137.0,344.7 138.3,345.2 139.6,345.7 140.9,346.3 142.2,346.8 143.5,347.3 144.9,347.8 146.2,348.3 147.5,348.9 148.8,349.3 150.1,349.8 151.5,350.3 152.8,350.8 154.1,351.3 155.4,351.8 156.7,352.2 158.0,352.7 159.4,353.1 160.7,353.6 162.0,354.0 163.3,354.5 164.6,354.9 166.0,355.3 167.3,355.8 168.6,356.2 169.9,356.6 171.2,357.0 172.5,357.5 173.9,357.9 175.2,358.3 176.5,358.7 177.8,359.1 179.1,359.5 180.5,359.9 181.8,360.2 183.1,360.6 184.4,361.0 185.7,361.4 187.0,361.8 188.4,362.1 189.7,362.5 191.0,362.9 192.3,363.2 193.6,363.6 195.0,363.9 196.3,364.3 197.6,364.6 198.9,365.0 200.2,365.3 201.5,365.7 202.9,366.0 204.2,366.4 205.5,366.7 206.8,367.0 208.1,367.4 209.5,367.7 210.8,368.0 212.1,368.3 213.4,368.7 214.7,369.0 216.0,369.3 217.4,369.6 218.7,369.9 220.0,370.2 221.3,370.5 222.6,370.8 224.0,371.1 225.3,371.4 226.6,371.7 227.9,372.0 229.2,372.3 230.5,372.6 231.9,372.9 233.2,373.2 234.5,373.5 235.8,373.8 237.1,374.0 238.5,374.3 239.8,374.6 241.1,374.9 242.4,375.2 243.7,375.4 245.0,375.7 246.4,376.0 247.7,376.3 249.0,376.5 250.3,376.8 251.6,377.0 253.0,377.3 254.3,377.6 255.6,377.8 256.9,378.1 258.2,378.3 259.5,378.6 260.9,378.9 262.2,379.1 263.5,379.4 264.8,379.6 266.1,379.9 267.5,380.1 268.8,380.3 270.1,380.6 271.4,380.8 272.7,381.1 274.0,381.3 275.4,381.6 276.7,381.8 278.0,382.0 279.3,382.3 280.6,382.5 282.0,382.7 283.3,383.0 284.6,383.2 285.9,383.4 287.2,383.6 288.5,383.9 289.9,384.1 291.2,384.3 292.5,384.5 293.8,384.8 295.1,385.0 296.5,385.2 297.8,385.4 299.1,385.6 300.4,385.9 301.7,386.1 303.0,386.3 304.4,386.5 305.7,386.7 307.0,386.9 308.3,387.1 309.6,387.3 311.0,387.6 312.3,387.8 313.6,388.0 314.9,388.2 316.2,388.4 317.5,388.6 318.9,388.8 320.2,389.0 321.5,389.2"/>
<polyline class="dash" stroke="#a020f0" points="31.4,281.0 31.4,282.5 31.4,284.0 31.4,285.5 31.4,287.0 31.5,288.5 31.5,290.0 31.5,291.5 31.5,293.0 31.6,294.5 31.6,296.0 31.6,297.5 31.6,299.0 31.7,300.5 31.7,302.0 31.8,303.5 31.9,305.0 32.0,306.5 32.1,308.0 32.2,309.5 32.3,311.0 32.4,312.5 32.5,314.0 32.6,315.5 32.8,317.0 32.9,318.5 33.1,319.9 33.4,321.4 33.7,322.9 34.0,324.3 34.4,325.8 34.8,327.3 35.3,328.7 35.7,330.1 36.2,331.5 36.7,332.9 37.2,334.3 37.8,335.7 38.5,337.1 39.2,338.4 39.9,339.8 40.6,341.0 41.4,342.3 42.3,343.5 43.2,344.8 44.1,345.9 45.1,347.1 46.1,348.2 47.1,349.3 48.1,350.4 49.2,351.5 50.3,352.4 51.5,353.4 52.7,354.3 53.9,355.1 55.2,355.9 56.5,356.7 57.8,357.5 59.1,358.3 60.3,359.0 61.6,359.8 63.0,360.5 64.3,361.2 65.6,361.9 66.9,362.6 68.3,363.2 69.7,363.9 71.0,364.5 72.4,365.1 73.7,365.7 75.1,366.4 76.5,367.0 77.8,367.6 79.2,368.2 80.6,368.8 81.9,369.4 83.3,370.0 84.7,370.7 86.0,371.3 87.4,371.9 88.8,372.5 90.2,373.1 91.5,373.7 92.9,374.3 94.3,374.9 95.7,375.5 97.0,376.1 98.4,376.7 99.8,377.3 101.1,378.0 102.5,378.6 103.8,379.2 105.2,379.9 106.6,380.5 107.9,381.1 109.3,381.7 110.7,382.3 112.1,382.9 113.4,383.5 114.8,384.1 116.2,384.7 117.6,385.3 118.9,385.9 120.3,386.5 121.7,387.1 123.1,387.6 124.5,388.2 125.9,388.7 127.3,389.3 128.7,389.8 130.1,390.3 131.5,390.8 132.9,391.3 134.3,391.8 135.7,392.3 137.2,392.8 138.6,393.3 140.0,393.8 141.4,394.3 142.8,394.8 144.2,395.3 145.7,395.8 147.1,396.2 148.5,396.7 149.9,397.2 151.3,397.7 152.8,398.2 154.2,398.6 155.6,399.1 157.0,399.6 158.4,400.1 159.9,400.5 161.3,401.0 162.7,401.4 164.2,401.9 165.6,402.4 167.0,402.8 168.4,403.3 169.9,403.7 171.3,404.2 172.7,404.6 174.2,405.1 175.6,405.5 177.0,405.9 178.5,406.4 179.9,406.8 181.3,407.3 182.8,407.7 184.2,408.1 185.6,408.6 187.1,409.0 188.5,409.4 190.0,409.8 191.4,410.2 192.8,410.7 194.3,411.1 195.7,411.5 197.2,411.9 198.6,412.3 200.1,412.7 201.5,413.1 202.9,413.5 204.4,413.9 205.8,414.3 207.3,414.7 208.7,415.1 210.2,415.5 211.6,415.8 213.1,416.2 214.5,416.6 216.0,417.0 217.4,417.4 218.9,417.7 220.3,418.1 221.8,418.5 223.2,418.9 224.7,419.3 226.1,419.7 227.6,420.0 229.0,420.4 230.5,420.8 231.9,421.2 233.4,421.6 234.8,422.0 236.3,422.4 237.7,422.7 239.2,423.1 240.6,423.5 242.1,423.9 243.5,424.3 245.0,424.6 246.4,425.0 247.9,425.4 249.3,425.7 250.8,426.1 252.2,426.5 253.7,426.8 255.2,427.2 256.6,427.6 258.1,428.0 259.5,428.4 261.0,428.7 262.4,429.1 263.9,429.5 265.3,429.9 266.7,430.3 268.2,430.7 269.6,431.1 271.1,431.5 272.5,431.9 274.0,432.3 275.4,432.7 276.8,433.2 278.3,433.6 279.7,434.0 281.2,434.4 282.6,434.9 284.0,435.3 285.5,435.8 286.9,436.2 288.3,436.7 289.7,437.1 291.2,437.6 292.6,438.0 294.0,438.5 295.5,439.0 296.9,439.4 298.3,439.9 299.7,440.4 301.1,440.9 302.6,441.4 304.0,441.9 305.4,442.4 306.8,442.9 308.2,443.5 309.6,444.0 311.0,444.6 312.3,445.2 313.7,445.8 315.1,446.4 316.4,447.0 317.8,447.7 319.1,448.4 320.4,449.2 321.5,450.2"/>
<polyline class="sol" stroke="#0000ff" points="31.4,247.0 31.4,248.5 31.5,250.0 31.5,251.5 31.6,253.0 31.7,254.5 31.8,256.0 31.9,257.4 32.1,258.9 32.2,260.4 32.4,261.9 32.6,263.4 32.7,264.9 32.9,266.4 33.1,267.8 33.3,269.3 33.5,270.8 33.7,272.3 33.9,273.8 34.1,275.3 34.3,276.7 34.5,278.2 34.8,279.7 35.0,281.2 35.3,282.6 35.6,284.1 36.0,285.5 36.3,287.0 36.7,288.5 37.1,289.9 37.5,291.3 37.9,292.8 38.4,294.2 38.9,295.6 39.4,297.0 39.9,298.4 40.5,299.8 41.1,301.1 41.8,302.5 42.4,303.8 43.1,305.2 43.8,306.5 44.6,307.7 45.4,309.0 46.2,310.3 47.0,311.5 47.9,312.8 48.7,314.0 49.6,315.2 50.5,316.4 51.4,317.5 52.4,318.7 53.4,319.8 54.3,321.0 55.3,322.1 56.3,323.2 57.3,324.3 58.3,325.5 59.2,326.7 60.2,327.8 61.1,329.0 62.1,330.1 63.1,331.1 64.2,332.2 65.3,333.2 66.4,334.2 67.6,335.1 68.7,336.1 69.9,337.0 71.0,338.0 72.1,339.0 73.3,340.0 74.4,341.0 75.5,342.0 76.6,343.0 77.7,344.0 78.9,344.9 80.1,345.8 81.2,346.7 82.4,347.6 83.6,348.5 84.9,349.4 86.1,350.3 87.3,351.2 88.4,352.1 89.6,353.0 90.8,353.9 92.0,354.8 93.2,355.7 94.4,356.6 95.6,357.4 96.9,358.3 98.1,359.1 99.4,359.9 100.7,360.6 102.0,361.4 103.3,362.2 104.5,362.9 105.8,363.7 107.1,364.5 108.4,365.2 109.7,365.9 111.0,366.7 112.3,367.4 113.7,368.1 115.0,368.8 116.3,369.4 117.7,370.1 119.0,370.8 120.4,371.4 121.7,372.0 123.1,372.6 124.4,373.3 125.8,373.9 127.2,374.5 128.5,375.1 129.9,375.7 131.3,376.3 132.6,376.9 134.0,377.5 135.4,378.1 136.8,378.7 138.1,379.2 139.5,379.8 140.9,380.4 142.3,381.0 143.6,381.6 145.0,382.1 146.4,382.7 147.8,383.3 149.2,383.9 150.5,384.4 151.9,385.0 153.3,385.6 154.7,386.1 156.1,386.7 157.5,387.3 158.8,387.8 160.2,388.4 161.6,388.9 163.0,389.5 164.4,390.0 165.8,390.6 167.2,391.1 168.6,391.7 170.0,392.2 171.4,392.7 172.7,393.3 174.1,393.8 175.5,394.4 176.9,394.9 178.3,395.5 179.7,396.0 181.1,396.6 182.5,397.1 183.9,397.7 185.3,398.2 186.7,398.7 188.1,399.3 189.4,399.8 190.8,400.3 192.2,400.9 193.6,401.4 195.0,401.9 196.5,402.4 197.9,402.9 199.3,403.4 200.7,403.9 202.1,404.4 203.5,404.9 204.9,405.4 206.3,405.9 207.7,406.4 209.1,406.9 210.6,407.4 212.0,407.8 213.4,408.3 214.8,408.8 216.2,409.2 217.7,409.7 219.1,410.2 220.5,410.6 221.9,411.1 223.3,411.6 224.7,412.1 226.2,412.5 227.6,413.0 229.0,413.5 230.4,414.0 231.8,414.5 233.2,415.0 234.6,415.5 236.1,415.9 237.5,416.4 238.9,416.9 240.3,417.3 241.7,417.8 243.2,418.2 244.6,418.7 246.0,419.2 247.4,419.6 248.9,420.1 250.3,420.5 251.7,421.0 253.1,421.4 254.6,421.9 256.0,422.3 257.4,422.8 258.8,423.2 260.3,423.6 261.7,424.1 263.1,424.5 264.5,425.0 266.0,425.4 267.4,425.8 268.8,426.3 270.3,426.7 271.7,427.2 273.1,427.6 274.5,428.1 276.0,428.5 277.4,429.0 278.8,429.4 280.2,429.9 281.6,430.4 283.0,430.9 284.5,431.4 285.9,431.9 287.3,432.4 288.7,432.9 290.1,433.4 291.5,433.9 292.9,434.4 294.3,435.0 295.7,435.5 297.1,436.0 298.5,436.6 299.8,437.2 301.2,437.8 302.6,438.4 303.9,439.0 305.3,439.7 306.6,440.3 308.0,441.0 309.3,441.7 310.6,442.4 311.9,443.2 313.2,443.9 314.4,444.7 315.7,445.5 316.9,446.4 318.1,447.2 319.3,448.2 320.4,449.2 321.5,450.2"/>
<polyline class="sol" stroke="#ff0000" points="44.2,245.0 44.4,246.5 44.7,247.9 45.0,249.4 45.3,250.9 45.7,252.3 46.1,253.8 46.5,255.2 46.9,256.6 47.3,258.1 47.8,259.8 48.4,261.2 49.1,262.1 50.7,262.5 51.5,263.2 52.0,264.6 52.3,266.2 52.7,267.9 53.1,269.4 53.6,270.8 54.1,272.2 54.6,273.6 55.2,275.0 55.7,276.4 56.3,277.7 56.9,279.1 57.6,280.5 58.2,281.8 58.9,283.1 59.7,284.4 60.4,285.7 61.2,286.9 62.1,288.2 63.0,289.4 63.9,290.6 64.8,291.8 65.7,292.9 66.7,294.1 67.6,295.2 68.6,296.4 69.6,297.5 70.6,298.6 71.6,299.7 72.7,300.7 73.8,301.8 74.9,302.8 75.9,303.8 76.9,304.9 77.9,306.1 78.8,307.3 79.7,308.5 80.6,309.7 81.4,310.9 82.3,312.1 83.2,313.3 84.1,314.5 85.0,315.7 86.0,316.9 87.0,318.0 88.1,318.9 89.4,319.7 90.7,320.5 92.0,321.2 93.2,322.1 94.2,323.2 95.3,324.3 96.3,325.4 97.3,326.5 98.4,327.5 99.6,328.4 100.9,329.0 102.3,329.6 103.7,330.2 105.0,331.0 106.0,331.9 107.0,333.1 107.9,334.3 108.9,335.5 109.9,336.5 111.1,337.4 112.3,338.3 113.6,339.0 114.9,339.8 116.2,340.5 117.5,341.3 118.8,342.1 120.0,342.9 121.3,343.8 122.6,344.6 123.8,345.3 125.1,346.1 126.4,346.8 127.8,347.4 129.2,348.1 130.5,348.7 131.8,349.4 133.1,350.1 134.4,350.9 135.6,351.7 136.9,352.6 138.1,353.4 139.3,354.3 140.6,355.1 141.8,355.9 143.1,356.7 144.4,357.5 145.7,358.2 147.0,359.0 148.3,359.7 149.6,360.4 150.9,361.1 152.2,361.8 153.6,362.4 154.9,363.0 156.3,363.7 157.7,364.3 159.0,364.9 160.4,365.6 161.7,366.2 163.1,366.8 164.4,367.5 165.8,368.1 167.1,368.8 168.5,369.4 169.8,370.0 171.2,370.7 172.5,371.3 173.9,371.9 175.2,372.6 176.6,373.2 177.9,373.8 179.3,374.5 180.6,375.1 182.0,375.7 183.3,376.4 184.7,377.0 186.1,377.6 187.4,378.2 188.8,378.9 190.1,379.5 191.5,380.1 192.9,380.7 194.2,381.3 195.6,381.9 197.0,382.5 198.3,383.1 199.7,383.7 201.1,384.3 202.5,384.8 203.8,385.4 205.2,386.0 206.6,386.6 208.0,387.2 209.3,387.8 210.7,388.3 212.1,388.9 213.5,389.5 214.9,390.0 216.2,390.6 217.6,391.2 219.0,391.8 220.4,392.3 221.8,392.9 223.2,393.4 224.5,394.0 225.9,394.6 227.3,395.1 228.7,395.7 230.1,396.2 231.5,396.8 232.9,397.3 234.3,397.9 235.6,398.5 237.0,399.0 238.4,399.6 239.8,400.2 241.2,400.7 242.6,401.3 243.9,401.9 245.3,402.4 246.7,403.0 248.1,403.6 249.5,404.1 250.8,404.7 252.2,405.3 253.6,405.9 255.0,406.4 256.3,407.0 257.7,407.6 259.1,408.2 260.4,408.8 261.8,409.4 263.2,410.1 264.5,410.7 265.9,411.3 267.2,411.9 268.6,412.6 269.9,413.2 271.3,413.9 272.6,414.5 274.0,415.2 275.3,415.9 276.6,416.5 278.0,417.2 279.3,417.9 280.6,418.6 281.9,419.3 283.2,420.0 284.6,420.7 285.9,421.5 287.2,422.2 288.5,422.9 289.8,423.7 291.1,424.4 292.3,425.2 293.6,425.9 294.9,426.7 296.2,427.4 297.5,428.2 298.8,429.0 300.1,429.7 301.3,430.6 302.6,431.4 303.8,432.2 305.0,433.1 306.2,434.0 307.4,434.9 308.6,435.8 309.8,436.7 310.9,437.7 312.0,438.7 313.1,439.8 314.1,440.8 315.1,441.9 316.1,443.1 317.1,444.2 318.0,445.4 318.9,446.6 319.7,447.8 320.5,449.1 321.5,450.2"/>
</g>
<path class="tk" d="M37.3,450.2v-2.8M37.3,247.5v2.8M43.1,450.2v-2.8M43.1,247.5v2.8M48.9,450.2v-2.8M48.9,247.5v2.8M54.7,450.2v-2.8M54.7,247.5v2.8M60.5,450.2v-5.6M60.5,247.5v5.6M66.3,450.2v-2.8M66.3,247.5v2.8M72.1,450.2v-2.8M72.1,247.5v2.8M77.9,450.2v-2.8M77.9,247.5v2.8M83.7,450.2v-2.8M83.7,247.5v2.8M89.5,450.2v-5.6M89.5,247.5v5.6M95.3,450.2v-2.8M95.3,247.5v2.8M101.1,450.2v-2.8M101.1,247.5v2.8M106.9,450.2v-2.8M106.9,247.5v2.8M112.7,450.2v-2.8M112.7,247.5v2.8M118.5,450.2v-5.6M118.5,247.5v5.6M124.3,450.2v-2.8M124.3,247.5v2.8M130.1,450.2v-2.8M130.1,247.5v2.8M135.9,450.2v-2.8M135.9,247.5v2.8M141.7,450.2v-2.8M141.7,247.5v2.8M147.5,450.2v-5.6M147.5,247.5v5.6M153.3,450.2v-2.8M153.3,247.5v2.8M159.1,450.2v-2.8M159.1,247.5v2.8M164.9,450.2v-2.8M164.9,247.5v2.8M170.7,450.2v-2.8M170.7,247.5v2.8M176.5,450.2v-5.6M176.5,247.5v5.6M182.3,450.2v-2.8M182.3,247.5v2.8M188.1,450.2v-2.8M188.1,247.5v2.8M193.9,450.2v-2.8M193.9,247.5v2.8M199.7,450.2v-2.8M199.7,247.5v2.8M205.5,450.2v-5.6M205.5,247.5v5.6M211.3,450.2v-2.8M211.3,247.5v2.8M217.1,450.2v-2.8M217.1,247.5v2.8M222.9,450.2v-2.8M222.9,247.5v2.8M228.7,450.2v-2.8M228.7,247.5v2.8M234.5,450.2v-5.6M234.5,247.5v5.6M240.3,450.2v-2.8M240.3,247.5v2.8M246.1,450.2v-2.8M246.1,247.5v2.8M251.9,450.2v-2.8M251.9,247.5v2.8M257.7,450.2v-2.8M257.7,247.5v2.8M263.5,450.2v-5.6M263.5,247.5v5.6M269.3,450.2v-2.8M269.3,247.5v2.8M275.1,450.2v-2.8M275.1,247.5v2.8M280.9,450.2v-2.8M280.9,247.5v2.8M286.7,450.2v-2.8M286.7,247.5v2.8M292.5,450.2v-5.6M292.5,247.5v5.6M298.3,450.2v-2.8M298.3,247.5v2.8M304.1,450.2v-2.8M304.1,247.5v2.8M309.9,450.2v-2.8M309.9,247.5v2.8M315.7,450.2v-2.8M315.7,247.5v2.8M31.5,434.95h3.0M321.5,434.95h-3.0M31.5,426.02h3.0M321.5,426.02h-3.0M31.5,419.69h3.0M321.5,419.69h-3.0M31.5,414.78h3.0M321.5,414.78h-3.0M31.5,410.77h3.0M321.5,410.77h-3.0M31.5,407.37h3.0M321.5,407.37h-3.0M31.5,404.44h3.0M321.5,404.44h-3.0M31.5,401.84h3.0M321.5,401.84h-3.0M31.5,399.52h5.8M321.5,399.52h-5.8M31.5,384.27h3.0M321.5,384.27h-3.0M31.5,375.35h3.0M321.5,375.35h-3.0M31.5,369.02h3.0M321.5,369.02h-3.0M31.5,364.1h3.0M321.5,364.1h-3.0M31.5,360.09h3.0M321.5,360.09h-3.0M31.5,356.7h3.0M321.5,356.7h-3.0M31.5,353.76h3.0M321.5,353.76h-3.0M31.5,351.17h3.0M321.5,351.17h-3.0M31.5,348.85h5.8M321.5,348.85h-5.8M31.5,333.6h3.0M321.5,333.6h-3.0M31.5,324.67h3.0M321.5,324.67h-3.0M31.5,318.34h3.0M321.5,318.34h-3.0M31.5,313.43h3.0M321.5,313.43h-3.0M31.5,309.42h3.0M321.5,309.42h-3.0M31.5,306.02h3.0M321.5,306.02h-3.0M31.5,303.09h3.0M321.5,303.09h-3.0M31.5,300.49h3.0M321.5,300.49h-3.0M31.5,298.18h5.8M321.5,298.18h-5.8M31.5,282.92h3.0M321.5,282.92h-3.0M31.5,274h3.0M321.5,274h-3.0M31.5,267.67h3.0M321.5,267.67h-3.0M31.5,262.75h3.0M321.5,262.75h-3.0M31.5,258.74h3.0M321.5,258.74h-3.0M31.5,255.35h3.0M321.5,255.35h-3.0M31.5,252.41h3.0M321.5,252.41h-3.0M31.5,249.82h3.0M321.5,249.82h-3.0"/>
<rect class="fr" x="31.5" y="247.5" width="290" height="202.7"/>
<text class="tl" text-anchor="middle" x="31.5" y="460.4">0</text>
<text class="tl" text-anchor="middle" x="60.5" y="460.4">0.1</text>
<text class="tl" text-anchor="middle" x="89.5" y="460.4">0.2</text>
<text class="tl" text-anchor="middle" x="118.5" y="460.4">0.3</text>
<text class="tl" text-anchor="middle" x="147.5" y="460.4">0.4</text>
<text class="tl" text-anchor="middle" x="176.5" y="460.4">0.5</text>
<text class="tl" text-anchor="middle" x="205.5" y="460.4">0.6</text>
<text class="tl" text-anchor="middle" x="234.5" y="460.4">0.7</text>
<text class="tl" text-anchor="middle" x="263.5" y="460.4">0.8</text>
<text class="tl" text-anchor="middle" x="292.5" y="460.4">0.9</text>
<text class="tl" text-anchor="middle" x="321.5" y="460.4">1</text>
<text class="tl" text-anchor="end" x="31" y="453.6">1</text>
<text class="tl" text-anchor="end" x="28.7" y="404.12">10</text>
<text class="tl" text-anchor="end" x="29.1" y="354.25">10<tspan class="sup" dy="-5.6">2</tspan></text>
<text class="tl" text-anchor="end" x="29.1" y="303.57">10<tspan class="sup" dy="-5.6">3</tspan></text>
<text class="tl" text-anchor="end" x="29.1" y="252.9">10<tspan class="sup" dy="-5.6">4</tspan></text>
<text class="at" text-anchor="middle" x="176.5" y="471.2">signal eff</text>
<text class="at" text-anchor="middle" transform="translate(8.7,348.85) rotate(-90)">bkg rejection</text>
<text class="tt" y="268"><tspan x="73">A</tspan> <tspan class="ar" x="81.4" dy="1.8">→</tspan> <tspan x="94" dy="-1.8">b<tspan class="ov">b</tspan></tspan></text>
<text class="st" x="73.4" y="278.8">M<tspan class="sb" dy="3">A</tspan><tspan dy="-3"> = 80 GeV</tspan></text>
<text class="sl" text-anchor="middle" transform="translate(301.7,380.1) rotate(5.5)" y="2.4">s = 4</text>
<text class="sl" text-anchor="middle" transform="translate(300.5,394.2) rotate(5.5)" y="2.4">s = 3</text>
<text class="sl" text-anchor="middle" transform="translate(299.6,410.9) rotate(5.5)" y="2.4">s = 2</text>
<text class="sl" text-anchor="middle" transform="translate(205.2,422.3) rotate(9)" y="2.4">s = 1</text>
<rect class="lg" x="239.9" y="261.7" width="61.6" height="35"/>
<path class="sol ls" fill="none" stroke="#ff0000" d="M243.1,267.8H257.7"/>
<text class="lt" x="263.6" y="270.8">NN 2P</text>
<path class="sol ls" fill="none" stroke="#0000ff" d="M243.1,278.3H257.7"/>
<text class="lt" x="263.6" y="280.2">LoRD T<tspan class="sb2" dy="2.3">2P</tspan></text>
<path class="dash ls" fill="none" stroke="#a020f0" d="M243.1,289.4H257.7"/>
<text class="lt" x="263.6" y="290.7"><tspan class="tau">τ</tspan><tspan class="sb2" dy="2.3">21</tspan></text>
</g>
<g class="panel">
<clipPath id="cp3"><rect x="392.8" y="247.5" width="289.7" height="202.7"/></clipPath>
<g clip-path="url(#cp3)" fill="none">
<polyline class="br" points="395.4,243.3 396.8,261.2 398.1,273.8 399.4,283.6 400.7,291.7 402.0,298.4 403.3,304.3 404.7,309.5 406.0,314.1 407.3,318.3 408.6,322.2 409.9,325.7 411.2,329.0 412.6,332.0 413.9,334.8 415.2,337.5 416.5,340.0 417.8,342.4 419.1,344.7 420.5,346.8 421.8,348.9 423.1,350.8 424.4,352.7 425.7,354.5 427.0,356.2 428.4,357.9 429.7,359.5 431.0,361.0 432.3,362.5 433.6,363.9 434.9,365.3 436.3,366.7 437.6,368.0 438.9,369.3 440.2,370.5 441.5,371.7 442.8,372.9 444.2,374.0 445.5,375.2 446.8,376.3 448.1,377.3 449.4,378.3 450.7,379.4 452.1,380.3 453.4,381.3 454.7,382.3 456.0,383.2 457.3,384.1 458.6,385.0 460.0,385.9 461.3,386.7 462.6,387.6 463.9,388.4 465.2,389.2 466.5,390.0 467.9,390.8 469.2,391.5 470.5,392.3 471.8,393.0 473.1,393.7 474.4,394.5 475.8,395.2 477.1,395.9 478.4,396.5 479.7,397.2 481.0,397.9 482.3,398.5 483.7,399.2 485.0,399.8 486.3,400.4 487.6,401.0 488.9,401.6 490.2,402.2 491.6,402.8 492.9,403.4 494.2,404.0 495.5,404.6 496.8,405.1 498.1,405.7 499.5,406.2 500.8,406.8 502.1,407.3 503.4,407.8 504.7,408.3 506.0,408.9 507.4,409.4 508.7,409.9 510.0,410.4 511.3,410.9 512.6,411.3 513.9,411.8 515.3,412.3 516.6,412.8 517.9,413.2 519.2,413.7 520.5,414.2 521.8,414.6 523.2,415.1 524.5,415.5 525.8,415.9 527.1,416.4 528.4,416.8 529.7,417.2 531.1,417.6 532.4,418.1 533.7,418.5 535.0,418.9 536.3,419.3 537.6,419.7 539.0,420.1 540.3,420.5 541.6,420.9 542.9,421.3 544.2,421.6 545.6,422.0 546.9,422.4 548.2,422.8 549.5,423.2 550.8,423.5 552.1,423.9 553.5,424.2 554.8,424.6 556.1,425.0 557.4,425.3 558.7,425.7 560.0,426.0 561.4,426.4 562.7,426.7 564.0,427.0 565.3,427.4 566.6,427.7 567.9,428.0 569.3,428.4 570.6,428.7 571.9,429.0 573.2,429.4 574.5,429.7 575.8,430.0 577.2,430.3 578.5,430.6 579.8,430.9 581.1,431.2 582.4,431.5 583.7,431.9 585.1,432.2 586.4,432.5 587.7,432.8 589.0,433.0 590.3,433.3 591.6,433.6 593.0,433.9 594.3,434.2 595.6,434.5 596.9,434.8 598.2,435.1 599.5,435.3 600.9,435.6 602.2,435.9 603.5,436.2 604.8,436.5 606.1,436.7 607.4,437.0 608.8,437.3 610.1,437.5 611.4,437.8 612.7,438.1 614.0,438.3 615.3,438.6 616.7,438.9 618.0,439.1 619.3,439.4 620.6,439.6 621.9,439.9 623.2,440.1 624.6,440.4 625.9,440.6 627.2,440.9 628.5,441.1 629.8,441.4 631.1,441.6 632.5,441.9 633.8,442.1 635.1,442.3 636.4,442.6 637.7,442.8 639.0,443.0 640.4,443.3 641.7,443.5 643.0,443.7 644.3,444.0 645.6,444.2 646.9,444.4 648.3,444.7 649.6,444.9 650.9,445.1 652.2,445.3 653.5,445.6 654.8,445.8 656.2,446.0 657.5,446.2 658.8,446.4 660.1,446.7 661.4,446.9 662.7,447.1 664.1,447.3 665.4,447.5 666.7,447.7 668.0,447.9 669.3,448.2 670.6,448.4 672.0,448.6 673.3,448.8 674.6,449.0 675.9,449.2 677.2,449.4 678.5,449.6 679.9,449.8 681.2,450.0 682.5,450.2"/>
<polyline class="br" points="398.1,243.3 399.4,253.1 400.7,261.2 402.0,267.9 403.3,273.8 404.7,279.0 406.0,283.6 407.3,287.8 408.6,291.7 409.9,295.2 411.2,298.4 412.6,301.5 413.9,304.3 415.2,307.0 416.5,309.5 417.8,311.9 419.1,314.1 420.5,316.3 421.8,318.3 423.1,320.3 424.4,322.2 425.7,324.0 427.0,325.7 428.4,327.4 429.7,329.0 431.0,330.5 432.3,332.0 433.6,333.4 434.9,334.8 436.3,336.2 437.6,337.5 438.9,338.8 440.2,340.0 441.5,341.2 442.8,342.4 444.2,343.5 445.5,344.7 446.8,345.7 448.1,346.8 449.4,347.8 450.7,348.9 452.1,349.8 453.4,350.8 454.7,351.8 456.0,352.7 457.3,353.6 458.6,354.5 460.0,355.3 461.3,356.2 462.6,357.0 463.9,357.9 465.2,358.7 466.5,359.5 467.9,360.2 469.2,361.0 470.5,361.8 471.8,362.5 473.1,363.2 474.4,363.9 475.8,364.6 477.1,365.3 478.4,366.0 479.7,366.7 481.0,367.4 482.3,368.0 483.7,368.7 485.0,369.3 486.3,369.9 487.6,370.5 488.9,371.1 490.2,371.7 491.6,372.3 492.9,372.9 494.2,373.5 495.5,374.0 496.8,374.6 498.1,375.2 499.5,375.7 500.8,376.3 502.1,376.8 503.4,377.3 504.7,377.8 506.0,378.3 507.4,378.9 508.7,379.4 510.0,379.9 511.3,380.3 512.6,380.8 513.9,381.3 515.3,381.8 516.6,382.3 517.9,382.7 519.2,383.2 520.5,383.6 521.8,384.1 523.2,384.5 524.5,385.0 525.8,385.4 527.1,385.9 528.4,386.3 529.7,386.7 531.1,387.1 532.4,387.6 533.7,388.0 535.0,388.4 536.3,388.8 537.6,389.2 539.0,389.6 540.3,390.0 541.6,390.4 542.9,390.8 544.2,391.1 545.6,391.5 546.9,391.9 548.2,392.3 549.5,392.6 550.8,393.0 552.1,393.4 553.5,393.7 554.8,394.1 556.1,394.5 557.4,394.8 558.7,395.2 560.0,395.5 561.4,395.9 562.7,396.2 564.0,396.5 565.3,396.9 566.6,397.2 567.9,397.5 569.3,397.9 570.6,398.2 571.9,398.5 573.2,398.8 574.5,399.2 575.8,399.5 577.2,399.8 578.5,400.1 579.8,400.4 581.1,400.7 582.4,401.0 583.7,401.3 585.1,401.6 586.4,401.9 587.7,402.2 589.0,402.5 590.3,402.8 591.6,403.1 593.0,403.4 594.3,403.7 595.6,404.0 596.9,404.3 598.2,404.6 599.5,404.8 600.9,405.1 602.2,405.4 603.5,405.7 604.8,405.9 606.1,406.2 607.4,406.5 608.8,406.8 610.1,407.0 611.4,407.3 612.7,407.6 614.0,407.8 615.3,408.1 616.7,408.3 618.0,408.6 619.3,408.9 620.6,409.1 621.9,409.4 623.2,409.6 624.6,409.9 625.9,410.1 627.2,410.4 628.5,410.6 629.8,410.9 631.1,411.1 632.5,411.3 633.8,411.6 635.1,411.8 636.4,412.1 637.7,412.3 639.0,412.5 640.4,412.8 641.7,413.0 643.0,413.2 644.3,413.5 645.6,413.7 646.9,413.9 648.3,414.2 649.6,414.4 650.9,414.6 652.2,414.8 653.5,415.1 654.8,415.3 656.2,415.5 657.5,415.7 658.8,415.9 660.1,416.2 661.4,416.4 662.7,416.6 664.1,416.8 665.4,417.0 666.7,417.2 668.0,417.4 669.3,417.6 670.6,417.9 672.0,418.1 673.3,418.3 674.6,418.5 675.9,418.7 677.2,418.9 678.5,419.1 679.9,419.3 681.2,419.5 682.5,419.7"/>
<polyline class="br" points="399.4,235.3 400.7,243.3 402.0,250.1 403.3,256.0 404.7,261.2 406.0,265.8 407.3,270.0 408.6,273.8 409.9,277.3 411.2,280.6 412.6,283.6 413.9,286.5 415.2,289.1 416.5,291.7 417.8,294.0 419.1,296.3 420.5,298.4 421.8,300.5 423.1,302.5 424.4,304.3 425.7,306.1 427.0,307.8 428.4,309.5 429.7,311.1 431.0,312.7 432.3,314.1 433.6,315.6 434.9,317.0 436.3,318.3 437.6,319.7 438.9,320.9 440.2,322.2 441.5,323.4 442.8,324.6 444.2,325.7 445.5,326.8 446.8,327.9 448.1,329.0 449.4,330.0 450.7,331.0 452.1,332.0 453.4,333.0 454.7,333.9 456.0,334.8 457.3,335.7 458.6,336.6 460.0,337.5 461.3,338.4 462.6,339.2 463.9,340.0 465.2,340.8 466.5,341.6 467.9,342.4 469.2,343.2 470.5,343.9 471.8,344.7 473.1,345.4 474.4,346.1 475.8,346.8 477.1,347.5 478.4,348.2 479.7,348.9 481.0,349.5 482.3,350.2 483.7,350.8 485.0,351.4 486.3,352.1 487.6,352.7 488.9,353.3 490.2,353.9 491.6,354.5 492.9,355.1 494.2,355.6 495.5,356.2 496.8,356.8 498.1,357.3 499.5,357.9 500.8,358.4 502.1,358.9 503.4,359.5 504.7,360.0 506.0,360.5 507.4,361.0 508.7,361.5 510.0,362.0 511.3,362.5 512.6,363.0 513.9,363.5 515.3,363.9 516.6,364.4 517.9,364.9 519.2,365.3 520.5,365.8 521.8,366.2 523.2,366.7 524.5,367.1 525.8,367.6 527.1,368.0 528.4,368.4 529.7,368.9 531.1,369.3 532.4,369.7 533.7,370.1 535.0,370.5 536.3,370.9 537.6,371.3 539.0,371.7 540.3,372.1 541.6,372.5 542.9,372.9 544.2,373.3 545.6,373.7 546.9,374.0 548.2,374.4 549.5,374.8 550.8,375.2 552.1,375.5 553.5,375.9 554.8,376.3 556.1,376.6 557.4,377.0 558.7,377.3 560.0,377.7 561.4,378.0 562.7,378.3 564.0,378.7 565.3,379.0 566.6,379.4 567.9,379.7 569.3,380.0 570.6,380.3 571.9,380.7 573.2,381.0 574.5,381.3 575.8,381.6 577.2,381.9 578.5,382.3 579.8,382.6 581.1,382.9 582.4,383.2 583.7,383.5 585.1,383.8 586.4,384.1 587.7,384.4 589.0,384.7 590.3,385.0 591.6,385.3 593.0,385.6 594.3,385.9 595.6,386.1 596.9,386.4 598.2,386.7 599.5,387.0 600.9,387.3 602.2,387.6 603.5,387.8 604.8,388.1 606.1,388.4 607.4,388.6 608.8,388.9 610.1,389.2 611.4,389.4 612.7,389.7 614.0,390.0 615.3,390.2 616.7,390.5 618.0,390.8 619.3,391.0 620.6,391.3 621.9,391.5 623.2,391.8 624.6,392.0 625.9,392.3 627.2,392.5 628.5,392.8 629.8,393.0 631.1,393.3 632.5,393.5 633.8,393.7 635.1,394.0 636.4,394.2 637.7,394.5 639.0,394.7 640.4,394.9 641.7,395.2 643.0,395.4 644.3,395.6 645.6,395.9 646.9,396.1 648.3,396.3 649.6,396.5 650.9,396.8 652.2,397.0 653.5,397.2 654.8,397.4 656.2,397.6 657.5,397.9 658.8,398.1 660.1,398.3 661.4,398.5 662.7,398.7 664.1,398.9 665.4,399.2 666.7,399.4 668.0,399.6 669.3,399.8 670.6,400.0 672.0,400.2 673.3,400.4 674.6,400.6 675.9,400.8 677.2,401.0 678.5,401.2 679.9,401.4 681.2,401.6 682.5,401.8"/>
<polyline class="dash" stroke="#a020f0" points="393.2,281.0 393.2,282.5 393.2,284.0 393.2,285.5 393.2,287.0 393.2,288.5 393.3,290.0 393.3,291.5 393.3,293.0 393.3,294.5 393.3,296.0 393.4,297.5 393.4,299.0 393.4,300.4 393.5,301.9 393.6,303.4 393.8,304.9 393.9,306.4 394.1,307.9 394.3,309.4 394.4,310.9 394.6,312.4 394.8,313.9 395.0,315.3 395.3,316.8 395.5,318.3 395.8,319.8 396.1,321.2 396.4,322.7 396.8,324.1 397.2,325.6 397.5,327.0 398.0,328.5 398.4,329.9 398.9,331.3 399.5,332.7 400.0,334.1 400.7,335.4 401.4,336.7 402.2,338.0 403.0,339.3 403.8,340.6 404.5,341.9 405.3,343.2 406.1,344.4 407.0,345.7 407.9,346.8 408.8,348.0 409.8,349.1 410.9,350.1 412.0,351.2 413.1,352.2 414.2,353.2 415.3,354.2 416.5,355.2 417.6,356.1 418.8,357.0 420.0,358.0 421.1,358.9 422.3,359.8 423.5,360.7 424.7,361.6 425.9,362.5 427.1,363.4 428.3,364.3 429.6,365.1 430.8,366.0 432.1,366.8 433.3,367.6 434.6,368.4 435.9,369.1 437.2,369.9 438.5,370.6 439.8,371.4 441.1,372.1 442.4,372.8 443.7,373.6 445.0,374.3 446.3,375.0 447.6,375.8 448.9,376.5 450.3,377.1 451.6,377.8 453.0,378.4 454.4,379.0 455.7,379.6 457.1,380.2 458.5,380.8 459.8,381.4 461.2,382.0 462.6,382.6 464.0,383.2 465.4,383.7 466.7,384.3 468.1,384.8 469.5,385.4 470.9,385.9 472.3,386.4 473.7,387.0 475.1,387.5 476.5,388.1 477.9,388.7 479.3,389.3 480.6,389.8 482.0,390.4 483.4,390.9 484.8,391.5 486.2,392.0 487.6,392.5 489.0,393.0 490.4,393.6 491.8,394.1 493.2,394.6 494.6,395.1 496.1,395.6 497.5,396.1 498.9,396.6 500.3,397.1 501.7,397.7 503.1,398.1 504.5,398.6 505.9,399.1 507.3,399.6 508.7,400.1 510.2,400.6 511.6,401.1 513.0,401.6 514.4,402.0 515.8,402.5 517.3,403.0 518.7,403.5 520.1,403.9 521.5,404.4 522.9,404.9 524.4,405.3 525.8,405.8 527.2,406.2 528.6,406.7 530.1,407.2 531.5,407.6 532.9,408.1 534.3,408.5 535.8,408.9 537.2,409.4 538.6,409.8 540.1,410.2 541.5,410.7 542.9,411.1 544.4,411.5 545.8,411.9 547.3,412.3 548.7,412.7 550.1,413.2 551.6,413.6 553.0,414.0 554.5,414.4 555.9,414.8 557.3,415.2 558.8,415.6 560.2,416.0 561.7,416.4 563.1,416.8 564.6,417.2 566.0,417.5 567.4,417.9 568.9,418.3 570.3,418.7 571.8,419.1 573.2,419.5 574.7,419.8 576.1,420.2 577.6,420.6 579.0,421.0 580.5,421.3 581.9,421.7 583.4,422.1 584.8,422.4 586.3,422.8 587.7,423.1 589.2,423.5 590.7,423.8 592.1,424.1 593.6,424.5 595.0,424.8 596.5,425.2 597.9,425.5 599.4,425.8 600.9,426.2 602.3,426.5 603.8,426.8 605.2,427.2 606.7,427.5 608.2,427.8 609.6,428.1 611.1,428.5 612.5,428.8 614.0,429.1 615.5,429.4 616.9,429.8 618.4,430.1 619.8,430.4 621.3,430.8 622.8,431.1 624.2,431.5 625.7,431.9 627.1,432.2 628.6,432.6 630.0,433.0 631.4,433.4 632.9,433.8 634.3,434.2 635.8,434.6 637.2,435.0 638.6,435.4 640.1,435.9 641.5,436.3 643.0,436.7 644.4,437.1 645.8,437.5 647.3,438.0 648.7,438.4 650.1,438.8 651.6,439.2 653.0,439.7 654.4,440.1 655.9,440.5 657.3,440.9 658.7,441.3 660.2,441.8 661.6,442.2 663.0,442.6 664.5,443.1 665.9,443.5 667.3,444.0 668.7,444.5 670.2,444.9 671.6,445.4 673.0,445.8 674.4,446.3 675.8,446.9 677.2,447.4 678.6,448.0 680.0,448.6 681.3,449.3 682.5,450.2"/>
<polyline class="sol" stroke="#0000ff" points="393.2,247.0 393.2,248.5 393.2,250.0 393.2,251.5 393.2,253.0 393.2,254.5 393.3,256.0 393.3,257.5 393.3,259.0 393.3,260.5 393.3,262.0 393.4,263.5 393.4,265.0 393.4,266.5 393.5,268.0 393.6,269.4 393.8,270.9 393.9,272.4 394.1,273.9 394.3,275.4 394.5,276.9 394.7,278.4 394.9,279.9 395.0,281.4 395.2,282.8 395.5,284.3 395.7,285.8 395.9,287.3 396.2,288.8 396.5,290.2 396.7,291.7 397.0,293.2 397.3,294.6 397.7,296.1 398.1,297.5 398.4,299.0 398.8,300.4 399.3,301.9 399.7,303.3 400.2,304.7 400.6,306.1 401.1,307.6 401.6,309.0 402.1,310.4 402.6,311.8 403.0,313.3 403.5,314.8 403.9,316.2 404.4,317.7 405.0,319.0 405.6,320.3 406.4,321.5 407.4,322.6 408.6,323.6 409.7,324.6 410.6,325.8 411.6,327.0 412.5,328.2 413.3,329.5 413.9,330.8 414.3,332.2 414.5,333.8 414.8,335.3 415.3,336.5 416.1,337.7 417.2,338.7 418.5,339.7 419.7,340.7 420.8,341.8 421.8,342.9 422.8,344.0 423.9,345.0 425.0,346.1 426.1,347.1 427.2,348.0 428.4,348.9 429.7,349.7 430.9,350.6 432.2,351.4 433.4,352.2 434.7,353.0 435.9,353.8 437.2,354.6 438.5,355.4 439.8,356.2 441.0,357.0 442.3,357.8 443.5,358.6 444.8,359.5 446.0,360.3 447.2,361.2 448.5,362.0 449.7,362.8 451.0,363.6 452.3,364.3 453.6,365.1 455.0,365.8 456.3,366.5 457.6,367.2 458.9,367.9 460.2,368.6 461.6,369.3 462.9,370.0 464.2,370.7 465.5,371.4 466.9,372.0 468.2,372.7 469.6,373.4 470.9,374.0 472.3,374.6 473.7,375.2 475.0,375.8 476.4,376.4 477.8,377.0 479.2,377.5 480.6,378.1 482.0,378.6 483.4,379.1 484.8,379.6 486.2,380.1 487.6,380.7 489.0,381.2 490.4,381.8 491.8,382.4 493.1,383.0 494.4,383.7 495.8,384.4 497.1,385.0 498.5,385.6 499.9,386.2 501.3,386.8 502.7,387.3 504.1,387.9 505.5,388.4 506.9,388.9 508.3,389.5 509.7,390.0 511.1,390.5 512.5,391.0 513.9,391.5 515.3,392.0 516.7,392.5 518.1,393.0 519.5,393.5 520.9,394.0 522.4,394.5 523.8,395.0 525.2,395.5 526.6,396.0 528.0,396.6 529.4,397.1 530.8,397.6 532.2,398.1 533.6,398.6 535.0,399.1 536.4,399.6 537.8,400.1 539.3,400.6 540.7,401.1 542.1,401.6 543.5,402.1 544.9,402.5 546.3,403.0 547.8,403.5 549.2,404.0 550.6,404.4 552.0,404.9 553.5,405.3 554.9,405.8 556.3,406.2 557.8,406.7 559.2,407.1 560.6,407.5 562.1,408.0 563.5,408.4 564.9,408.8 566.4,409.2 567.8,409.7 569.2,410.1 570.7,410.5 572.1,410.9 573.6,411.3 575.0,411.7 576.4,412.1 577.9,412.5 579.3,412.9 580.8,413.3 582.2,413.8 583.6,414.2 585.1,414.6 586.5,414.9 588.0,415.3 589.4,415.7 590.9,416.1 592.3,416.5 593.8,416.9 595.2,417.3 596.7,417.7 598.1,418.1 599.5,418.4 601.0,418.8 602.4,419.2 603.9,419.6 605.3,420.0 606.8,420.4 608.2,420.7 609.7,421.1 611.1,421.5 612.6,421.9 614.0,422.3 615.5,422.6 616.9,423.0 618.4,423.4 619.8,423.8 621.3,424.2 622.7,424.6 624.1,425.0 625.6,425.4 627.0,425.8 628.5,426.2 629.9,426.6 631.4,427.0 632.8,427.4 634.2,427.8 635.7,428.2 637.1,428.6 638.5,429.1 640.0,429.5 641.4,429.9 642.8,430.4 644.3,430.8 645.7,431.3 647.1,431.8 648.5,432.2 650.0,432.7 651.4,433.2 652.8,433.7 654.2,434.2 655.6,434.7 657.0,435.3 658.4,435.8 659.8,436.4 661.2,436.9 662.6,437.5 663.9,438.1 665.3,438.7 666.7,439.3 668.0,440.0 669.4,440.6 670.7,441.3 672.0,442.0 673.3,442.7 674.6,443.5 675.9,444.3 677.1,445.1 678.4,445.9 679.6,446.8 680.7,447.8 681.7,448.9 682.5,450.2"/>
<polyline class="sol" stroke="#ff0000" points="393.4,245.0 393.5,246.5 393.6,248.0 393.8,249.5 393.9,251.0 394.0,252.5 394.1,254.0 394.2,255.5 394.3,257.0 394.4,258.5 394.5,260.0 394.6,261.5 394.8,263.0 394.9,264.4 395.1,265.9 395.4,267.4 395.8,268.8 396.2,270.3 396.7,271.7 397.0,273.2 397.4,274.6 397.7,276.1 398.1,277.6 398.4,279.0 398.8,280.5 399.3,281.9 399.8,283.3 400.5,284.6 401.1,286.0 401.7,287.4 402.3,288.7 403.0,290.1 403.6,291.5 404.2,292.8 404.9,294.2 405.4,295.6 406.0,296.9 406.5,298.4 406.9,299.8 407.3,301.2 407.7,302.7 408.1,304.1 408.5,305.6 409.0,307.0 409.5,308.4 410.1,309.8 410.8,311.1 411.4,312.5 412.0,313.9 412.4,315.3 412.9,316.8 413.3,318.4 413.7,319.9 414.1,321.3 414.7,322.5 415.5,323.6 416.7,324.5 418.1,325.3 419.3,326.2 420.4,327.3 421.4,328.4 422.4,329.5 423.5,330.5 424.6,331.5 425.7,332.5 426.9,333.5 428.0,334.5 429.2,335.4 430.4,336.3 431.6,337.1 432.9,337.9 434.2,338.7 435.5,339.5 436.8,340.2 438.0,341.0 439.3,341.8 440.6,342.6 441.9,343.4 443.1,344.2 444.4,345.0 445.7,345.8 446.9,346.6 448.2,347.4 449.5,348.2 450.7,349.0 452.0,349.8 453.3,350.6 454.6,351.3 455.9,352.1 457.2,352.8 458.5,353.5 459.8,354.2 461.1,354.9 462.5,355.7 463.8,356.4 465.1,357.1 466.4,357.8 467.8,358.5 469.1,359.1 470.4,359.8 471.8,360.5 473.1,361.2 474.4,361.9 475.8,362.5 477.1,363.2 478.5,363.8 479.9,364.4 481.2,365.0 482.6,365.6 484.0,366.2 485.4,366.8 486.8,367.3 488.2,367.8 489.6,368.4 491.0,368.9 492.4,369.4 493.8,369.9 495.2,370.5 496.6,371.0 498.0,371.5 499.4,372.0 500.8,372.6 502.2,373.1 503.6,373.6 505.0,374.2 506.4,374.7 507.8,375.3 509.2,375.8 510.6,376.4 512.0,376.9 513.4,377.4 514.8,377.9 516.2,378.4 517.7,378.9 519.0,379.5 520.4,380.0 521.8,380.6 523.2,381.2 524.6,381.8 526.0,382.3 527.4,382.9 528.8,383.4 530.2,384.0 531.6,384.5 533.0,385.1 534.4,385.6 535.8,386.1 537.2,386.7 538.6,387.2 540.0,387.7 541.4,388.2 542.8,388.7 544.2,389.2 545.6,389.6 547.1,390.1 548.5,390.6 549.9,391.1 551.3,391.6 552.7,392.0 554.2,392.5 555.6,393.0 557.0,393.5 558.4,394.0 559.8,394.5 561.3,394.9 562.7,395.4 564.1,395.9 565.5,396.4 566.9,396.9 568.4,397.3 569.8,397.8 571.2,398.3 572.6,398.8 574.0,399.3 575.5,399.7 576.9,400.2 578.3,400.7 579.7,401.2 581.1,401.6 582.6,402.1 584.0,402.6 585.4,403.1 586.8,403.6 588.2,404.0 589.7,404.5 591.1,405.0 592.5,405.5 593.9,406.0 595.3,406.4 596.8,406.9 598.2,407.4 599.6,407.9 601.0,408.4 602.4,408.9 603.9,409.3 605.3,409.8 606.7,410.3 608.1,410.8 609.5,411.3 610.9,411.8 612.4,412.3 613.8,412.8 615.2,413.3 616.6,413.8 618.0,414.3 619.4,414.8 620.8,415.3 622.2,415.8 623.6,416.3 625.1,416.9 626.5,417.4 627.9,417.9 629.3,418.4 630.7,419.0 632.1,419.5 633.5,420.0 634.9,420.6 636.3,421.1 637.7,421.7 639.0,422.2 640.4,422.8 641.8,423.4 643.2,424.0 644.6,424.6 645.9,425.2 647.3,425.8 648.7,426.4 650.1,427.0 651.4,427.6 652.8,428.3 654.1,428.9 655.5,429.6 656.8,430.2 658.1,430.9 659.5,431.6 660.8,432.3 662.1,433.1 663.4,433.8 664.7,434.6 666.0,435.3 667.3,436.1 668.5,436.9 669.8,437.8 671.0,438.6 672.2,439.5 673.4,440.4 674.6,441.3 675.7,442.3 676.9,443.3 678.0,444.3 679.0,445.4 680.0,446.5 681.0,447.6 681.8,448.8 682.5,450.2"/>
</g>
<path class="tk" d="M398.59,450.2v-2.8M398.59,247.5v2.8M404.39,450.2v-2.8M404.39,247.5v2.8M410.18,450.2v-2.8M410.18,247.5v2.8M415.98,450.2v-2.8M415.98,247.5v2.8M421.77,450.2v-5.6M421.77,247.5v5.6M427.56,450.2v-2.8M427.56,247.5v2.8M433.36,450.2v-2.8M433.36,247.5v2.8M439.15,450.2v-2.8M439.15,247.5v2.8M444.95,450.2v-2.8M444.95,247.5v2.8M450.74,450.2v-5.6M450.74,247.5v5.6M456.53,450.2v-2.8M456.53,247.5v2.8M462.33,450.2v-2.8M462.33,247.5v2.8M468.12,450.2v-2.8M468.12,247.5v2.8M473.92,450.2v-2.8M473.92,247.5v2.8M479.71,450.2v-5.6M479.71,247.5v5.6M485.5,450.2v-2.8M485.5,247.5v2.8M491.3,450.2v-2.8M491.3,247.5v2.8M497.09,450.2v-2.8M497.09,247.5v2.8M502.89,450.2v-2.8M502.89,247.5v2.8M508.68,450.2v-5.6M508.68,247.5v5.6M514.47,450.2v-2.8M514.47,247.5v2.8M520.27,450.2v-2.8M520.27,247.5v2.8M526.06,450.2v-2.8M526.06,247.5v2.8M531.86,450.2v-2.8M531.86,247.5v2.8M537.65,450.2v-5.6M537.65,247.5v5.6M543.44,450.2v-2.8M543.44,247.5v2.8M549.24,450.2v-2.8M549.24,247.5v2.8M555.03,450.2v-2.8M555.03,247.5v2.8M560.83,450.2v-2.8M560.83,247.5v2.8M566.62,450.2v-5.6M566.62,247.5v5.6M572.41,450.2v-2.8M572.41,247.5v2.8M578.21,450.2v-2.8M578.21,247.5v2.8M584,450.2v-2.8M584,247.5v2.8M589.8,450.2v-2.8M589.8,247.5v2.8M595.59,450.2v-5.6M595.59,247.5v5.6M601.38,450.2v-2.8M601.38,247.5v2.8M607.18,450.2v-2.8M607.18,247.5v2.8M612.97,450.2v-2.8M612.97,247.5v2.8M618.77,450.2v-2.8M618.77,247.5v2.8M624.56,450.2v-5.6M624.56,247.5v5.6M630.35,450.2v-2.8M630.35,247.5v2.8M636.15,450.2v-2.8M636.15,247.5v2.8M641.94,450.2v-2.8M641.94,247.5v2.8M647.74,450.2v-2.8M647.74,247.5v2.8M653.53,450.2v-5.6M653.53,247.5v5.6M659.32,450.2v-2.8M659.32,247.5v2.8M665.12,450.2v-2.8M665.12,247.5v2.8M670.91,450.2v-2.8M670.91,247.5v2.8M676.71,450.2v-2.8M676.71,247.5v2.8M392.8,434.95h3.0M682.5,434.95h-3.0M392.8,426.02h3.0M682.5,426.02h-3.0M392.8,419.69h3.0M682.5,419.69h-3.0M392.8,414.78h3.0M682.5,414.78h-3.0M392.8,410.77h3.0M682.5,410.77h-3.0M392.8,407.37h3.0M682.5,407.37h-3.0M392.8,404.44h3.0M682.5,404.44h-3.0M392.8,401.84h3.0M682.5,401.84h-3.0M392.8,399.52h5.8M682.5,399.52h-5.8M392.8,384.27h3.0M682.5,384.27h-3.0M392.8,375.35h3.0M682.5,375.35h-3.0M392.8,369.02h3.0M682.5,369.02h-3.0M392.8,364.1h3.0M682.5,364.1h-3.0M392.8,360.09h3.0M682.5,360.09h-3.0M392.8,356.7h3.0M682.5,356.7h-3.0M392.8,353.76h3.0M682.5,353.76h-3.0M392.8,351.17h3.0M682.5,351.17h-3.0M392.8,348.85h5.8M682.5,348.85h-5.8M392.8,333.6h3.0M682.5,333.6h-3.0M392.8,324.67h3.0M682.5,324.67h-3.0M392.8,318.34h3.0M682.5,318.34h-3.0M392.8,313.43h3.0M682.5,313.43h-3.0M392.8,309.42h3.0M682.5,309.42h-3.0M392.8,306.02h3.0M682.5,306.02h-3.0M392.8,303.09h3.0M682.5,303.09h-3.0M392.8,300.49h3.0M682.5,300.49h-3.0M392.8,298.18h5.8M682.5,298.18h-5.8M392.8,282.92h3.0M682.5,282.92h-3.0M392.8,274h3.0M682.5,274h-3.0M392.8,267.67h3.0M682.5,267.67h-3.0M392.8,262.75h3.0M682.5,262.75h-3.0M392.8,258.74h3.0M682.5,258.74h-3.0M392.8,255.35h3.0M682.5,255.35h-3.0M392.8,252.41h3.0M682.5,252.41h-3.0M392.8,249.82h3.0M682.5,249.82h-3.0"/>
<rect class="fr" x="392.8" y="247.5" width="289.7" height="202.7"/>
<text class="tl" text-anchor="middle" x="392.8" y="460.4">0</text>
<text class="tl" text-anchor="middle" x="421.77" y="460.4">0.1</text>
<text class="tl" text-anchor="middle" x="450.74" y="460.4">0.2</text>
<text class="tl" text-anchor="middle" x="479.71" y="460.4">0.3</text>
<text class="tl" text-anchor="middle" x="508.68" y="460.4">0.4</text>
<text class="tl" text-anchor="middle" x="537.65" y="460.4">0.5</text>
<text class="tl" text-anchor="middle" x="566.62" y="460.4">0.6</text>
<text class="tl" text-anchor="middle" x="595.59" y="460.4">0.7</text>
<text class="tl" text-anchor="middle" x="624.56" y="460.4">0.8</text>
<text class="tl" text-anchor="middle" x="653.53" y="460.4">0.9</text>
<text class="tl" text-anchor="middle" x="682.5" y="460.4">1</text>
<text class="tl" text-anchor="end" x="392.3" y="453.6">1</text>
<text class="tl" text-anchor="end" x="390" y="404.12">10</text>
<text class="tl" text-anchor="end" x="390.4" y="354.25">10<tspan class="sup" dy="-5.6">2</tspan></text>
<text class="tl" text-anchor="end" x="390.4" y="303.57">10<tspan class="sup" dy="-5.6">3</tspan></text>
<text class="tl" text-anchor="end" x="390.4" y="252.9">10<tspan class="sup" dy="-5.6">4</tspan></text>
<text class="at" text-anchor="middle" x="537.65" y="471.2">signal eff</text>
<text class="at" text-anchor="middle" transform="translate(370,348.85) rotate(-90)">bkg rejection</text>
<text class="tt" y="268"><tspan x="434.4">A</tspan> <tspan class="ar" x="443.1" dy="1.8">→</tspan> <tspan x="455.3" dy="-1.8">b<tspan class="ov">b</tspan></tspan></text>
<text class="st" x="434.7" y="278.8">M<tspan class="sb" dy="3">A</tspan><tspan dy="-3"> = 200 GeV</tspan></text>
<text class="sl" text-anchor="middle" transform="translate(661.5,394.6) rotate(5.5)" y="2.4">s = 3</text>
<text class="sl" text-anchor="middle" transform="translate(660.7,411) rotate(5.5)" y="2.4">s = 2</text>
<text class="sl" text-anchor="middle" transform="translate(566.6,422.2) rotate(9)" y="2.4">s = 1</text>
<rect class="lg" x="601.2" y="261.7" width="61.6" height="35"/>
<path class="sol ls" fill="none" stroke="#ff0000" d="M604.4,267.8H619"/>
<text class="lt" x="624.9" y="270.8">NN 2P</text>
<path class="sol ls" fill="none" stroke="#0000ff" d="M604.4,278.3H619"/>
<text class="lt" x="624.9" y="280.2">LoRD T<tspan class="sb2" dy="2.3">2P</tspan></text>
<path class="dash ls" fill="none" stroke="#a020f0" d="M604.4,289.4H619"/>
<text class="lt" x="624.9" y="290.7"><tspan class="tau">τ</tspan><tspan class="sb2" dy="2.3">21</tspan></text>
</g>
<g class="panel">
<clipPath id="cp4"><rect x="31.5" y="488.4" width="290" height="202.7"/></clipPath>
<g clip-path="url(#cp4)" fill="none">
<polyline class="br" points="34.1,484.2 35.5,502.1 36.8,514.7 38.1,524.5 39.4,532.6 40.7,539.3 42.0,545.2 43.4,550.4 44.7,555.0 46.0,559.2 47.3,563.1 48.6,566.6 50.0,569.9 51.3,572.9 52.6,575.7 53.9,578.4 55.2,580.9 56.5,583.3 57.9,585.6 59.2,587.7 60.5,589.7 61.8,591.7 63.1,593.6 64.5,595.4 65.8,597.1 67.1,598.8 68.4,600.4 69.7,601.9 71.0,603.4 72.4,604.8 73.7,606.2 75.0,607.6 76.3,608.9 77.6,610.2 79.0,611.4 80.3,612.6 81.6,613.8 82.9,614.9 84.2,616.1 85.5,617.2 86.9,618.2 88.2,619.2 89.5,620.3 90.8,621.2 92.1,622.2 93.5,623.2 94.8,624.1 96.1,625.0 97.4,625.9 98.7,626.8 100.0,627.6 101.4,628.5 102.7,629.3 104.0,630.1 105.3,630.9 106.6,631.7 108.0,632.4 109.3,633.2 110.6,633.9 111.9,634.6 113.2,635.4 114.5,636.1 115.9,636.8 117.2,637.4 118.5,638.1 119.8,638.8 121.1,639.4 122.5,640.1 123.8,640.7 125.1,641.3 126.4,641.9 127.7,642.5 129.0,643.1 130.4,643.7 131.7,644.3 133.0,644.9 134.3,645.5 135.6,646.0 137.0,646.6 138.3,647.1 139.6,647.7 140.9,648.2 142.2,648.7 143.5,649.2 144.9,649.8 146.2,650.3 147.5,650.8 148.8,651.3 150.1,651.8 151.5,652.2 152.8,652.7 154.1,653.2 155.4,653.7 156.7,654.1 158.0,654.6 159.4,655.1 160.7,655.5 162.0,656.0 163.3,656.4 164.6,656.8 166.0,657.3 167.3,657.7 168.6,658.1 169.9,658.5 171.2,659.0 172.5,659.4 173.9,659.8 175.2,660.2 176.5,660.6 177.8,661.0 179.1,661.4 180.5,661.8 181.8,662.2 183.1,662.5 184.4,662.9 185.7,663.3 187.0,663.7 188.4,664.1 189.7,664.4 191.0,664.8 192.3,665.1 193.6,665.5 195.0,665.9 196.3,666.2 197.6,666.6 198.9,666.9 200.2,667.3 201.5,667.6 202.9,667.9 204.2,668.3 205.5,668.6 206.8,668.9 208.1,669.3 209.5,669.6 210.8,669.9 212.1,670.3 213.4,670.6 214.7,670.9 216.0,671.2 217.4,671.5 218.7,671.8 220.0,672.1 221.3,672.4 222.6,672.8 224.0,673.1 225.3,673.4 226.6,673.7 227.9,673.9 229.2,674.2 230.5,674.5 231.9,674.8 233.2,675.1 234.5,675.4 235.8,675.7 237.1,676.0 238.5,676.2 239.8,676.5 241.1,676.8 242.4,677.1 243.7,677.4 245.0,677.6 246.4,677.9 247.7,678.2 249.0,678.4 250.3,678.7 251.6,679.0 253.0,679.2 254.3,679.5 255.6,679.8 256.9,680.0 258.2,680.3 259.5,680.5 260.9,680.8 262.2,681.0 263.5,681.3 264.8,681.5 266.1,681.8 267.5,682.0 268.8,682.3 270.1,682.5 271.4,682.8 272.7,683.0 274.0,683.2 275.4,683.5 276.7,683.7 278.0,683.9 279.3,684.2 280.6,684.4 282.0,684.6 283.3,684.9 284.6,685.1 285.9,685.3 287.2,685.6 288.5,685.8 289.9,686.0 291.2,686.2 292.5,686.5 293.8,686.7 295.1,686.9 296.5,687.1 297.8,687.3 299.1,687.6 300.4,687.8 301.7,688.0 303.0,688.2 304.4,688.4 305.7,688.6 307.0,688.8 308.3,689.1 309.6,689.3 311.0,689.5 312.3,689.7 313.6,689.9 314.9,690.1 316.2,690.3 317.5,690.5 318.9,690.7 320.2,690.9 321.5,691.1"/>
<polyline class="br" points="36.8,484.2 38.1,494.0 39.4,502.1 40.7,508.8 42.0,514.7 43.4,519.9 44.7,524.5 46.0,528.7 47.3,532.6 48.6,536.1 50.0,539.3 51.3,542.4 52.6,545.2 53.9,547.9 55.2,550.4 56.5,552.8 57.9,555.0 59.2,557.2 60.5,559.2 61.8,561.2 63.1,563.1 64.5,564.9 65.8,566.6 67.1,568.3 68.4,569.9 69.7,571.4 71.0,572.9 72.4,574.3 73.7,575.7 75.0,577.1 76.3,578.4 77.6,579.7 79.0,580.9 80.3,582.1 81.6,583.3 82.9,584.4 84.2,585.6 85.5,586.6 86.9,587.7 88.2,588.7 89.5,589.7 90.8,590.7 92.1,591.7 93.5,592.7 94.8,593.6 96.1,594.5 97.4,595.4 98.7,596.2 100.0,597.1 101.4,597.9 102.7,598.8 104.0,599.6 105.3,600.4 106.6,601.1 108.0,601.9 109.3,602.7 110.6,603.4 111.9,604.1 113.2,604.8 114.5,605.5 115.9,606.2 117.2,606.9 118.5,607.6 119.8,608.3 121.1,608.9 122.5,609.6 123.8,610.2 125.1,610.8 126.4,611.4 127.7,612.0 129.0,612.6 130.4,613.2 131.7,613.8 133.0,614.4 134.3,614.9 135.6,615.5 137.0,616.1 138.3,616.6 139.6,617.2 140.9,617.7 142.2,618.2 143.5,618.7 144.9,619.2 146.2,619.8 147.5,620.3 148.8,620.8 150.1,621.2 151.5,621.7 152.8,622.2 154.1,622.7 155.4,623.2 156.7,623.6 158.0,624.1 159.4,624.5 160.7,625.0 162.0,625.4 163.3,625.9 164.6,626.3 166.0,626.8 167.3,627.2 168.6,627.6 169.9,628.0 171.2,628.5 172.5,628.9 173.9,629.3 175.2,629.7 176.5,630.1 177.8,630.5 179.1,630.9 180.5,631.3 181.8,631.7 183.1,632.0 184.4,632.4 185.7,632.8 187.0,633.2 188.4,633.5 189.7,633.9 191.0,634.3 192.3,634.6 193.6,635.0 195.0,635.4 196.3,635.7 197.6,636.1 198.9,636.4 200.2,636.8 201.5,637.1 202.9,637.4 204.2,637.8 205.5,638.1 206.8,638.4 208.1,638.8 209.5,639.1 210.8,639.4 212.1,639.7 213.4,640.1 214.7,640.4 216.0,640.7 217.4,641.0 218.7,641.3 220.0,641.6 221.3,641.9 222.6,642.2 224.0,642.5 225.3,642.8 226.6,643.1 227.9,643.4 229.2,643.7 230.5,644.0 231.9,644.3 233.2,644.6 234.5,644.9 235.8,645.2 237.1,645.5 238.5,645.7 239.8,646.0 241.1,646.3 242.4,646.6 243.7,646.8 245.0,647.1 246.4,647.4 247.7,647.7 249.0,647.9 250.3,648.2 251.6,648.5 253.0,648.7 254.3,649.0 255.6,649.2 256.9,649.5 258.2,649.8 259.5,650.0 260.9,650.3 262.2,650.5 263.5,650.8 264.8,651.0 266.1,651.3 267.5,651.5 268.8,651.8 270.1,652.0 271.4,652.2 272.7,652.5 274.0,652.7 275.4,653.0 276.7,653.2 278.0,653.4 279.3,653.7 280.6,653.9 282.0,654.1 283.3,654.4 284.6,654.6 285.9,654.8 287.2,655.1 288.5,655.3 289.9,655.5 291.2,655.7 292.5,656.0 293.8,656.2 295.1,656.4 296.5,656.6 297.8,656.8 299.1,657.1 300.4,657.3 301.7,657.5 303.0,657.7 304.4,657.9 305.7,658.1 307.0,658.3 308.3,658.5 309.6,658.8 311.0,659.0 312.3,659.2 313.6,659.4 314.9,659.6 316.2,659.8 317.5,660.0 318.9,660.2 320.2,660.4 321.5,660.6"/>
<polyline class="br" points="38.1,476.2 39.4,484.2 40.7,491.0 42.0,496.9 43.4,502.1 44.7,506.7 46.0,510.9 47.3,514.7 48.6,518.2 50.0,521.5 51.3,524.5 52.6,527.4 53.9,530.0 55.2,532.6 56.5,534.9 57.9,537.2 59.2,539.3 60.5,541.4 61.8,543.4 63.1,545.2 64.5,547.0 65.8,548.7 67.1,550.4 68.4,552.0 69.7,553.6 71.0,555.0 72.4,556.5 73.7,557.9 75.0,559.2 76.3,560.6 77.6,561.8 79.0,563.1 80.3,564.3 81.6,565.5 82.9,566.6 84.2,567.7 85.5,568.8 86.9,569.9 88.2,570.9 89.5,571.9 90.8,572.9 92.1,573.9 93.5,574.8 94.8,575.7 96.1,576.6 97.4,577.5 98.7,578.4 100.0,579.3 101.4,580.1 102.7,580.9 104.0,581.7 105.3,582.5 106.6,583.3 108.0,584.1 109.3,584.8 110.6,585.6 111.9,586.3 113.2,587.0 114.5,587.7 115.9,588.4 117.2,589.1 118.5,589.7 119.8,590.4 121.1,591.1 122.5,591.7 123.8,592.3 125.1,593.0 126.4,593.6 127.7,594.2 129.0,594.8 130.4,595.4 131.7,596.0 133.0,596.5 134.3,597.1 135.6,597.7 137.0,598.2 138.3,598.8 139.6,599.3 140.9,599.8 142.2,600.4 143.5,600.9 144.9,601.4 146.2,601.9 147.5,602.4 148.8,602.9 150.1,603.4 151.5,603.9 152.8,604.4 154.1,604.8 155.4,605.3 156.7,605.8 158.0,606.2 159.4,606.7 160.7,607.1 162.0,607.6 163.3,608.0 164.6,608.5 166.0,608.9 167.3,609.3 168.6,609.8 169.9,610.2 171.2,610.6 172.5,611.0 173.9,611.4 175.2,611.8 176.5,612.2 177.8,612.6 179.1,613.0 180.5,613.4 181.8,613.8 183.1,614.2 184.4,614.6 185.7,614.9 187.0,615.3 188.4,615.7 189.7,616.1 191.0,616.4 192.3,616.8 193.6,617.2 195.0,617.5 196.3,617.9 197.6,618.2 198.9,618.6 200.2,618.9 201.5,619.2 202.9,619.6 204.2,619.9 205.5,620.3 206.8,620.6 208.1,620.9 209.5,621.2 210.8,621.6 212.1,621.9 213.4,622.2 214.7,622.5 216.0,622.8 217.4,623.2 218.7,623.5 220.0,623.8 221.3,624.1 222.6,624.4 224.0,624.7 225.3,625.0 226.6,625.3 227.9,625.6 229.2,625.9 230.5,626.2 231.9,626.5 233.2,626.8 234.5,627.0 235.8,627.3 237.1,627.6 238.5,627.9 239.8,628.2 241.1,628.5 242.4,628.7 243.7,629.0 245.0,629.3 246.4,629.5 247.7,629.8 249.0,630.1 250.3,630.3 251.6,630.6 253.0,630.9 254.3,631.1 255.6,631.4 256.9,631.7 258.2,631.9 259.5,632.2 260.9,632.4 262.2,632.7 263.5,632.9 264.8,633.2 266.1,633.4 267.5,633.7 268.8,633.9 270.1,634.2 271.4,634.4 272.7,634.6 274.0,634.9 275.4,635.1 276.7,635.4 278.0,635.6 279.3,635.8 280.6,636.1 282.0,636.3 283.3,636.5 284.6,636.8 285.9,637.0 287.2,637.2 288.5,637.4 289.9,637.7 291.2,637.9 292.5,638.1 293.8,638.3 295.1,638.5 296.5,638.8 297.8,639.0 299.1,639.2 300.4,639.4 301.7,639.6 303.0,639.8 304.4,640.1 305.7,640.3 307.0,640.5 308.3,640.7 309.6,640.9 311.0,641.1 312.3,641.3 313.6,641.5 314.9,641.7 316.2,641.9 317.5,642.1 318.9,642.3 320.2,642.5 321.5,642.7"/>
<polyline class="br" points="40.7,478.3 42.0,484.2 43.4,489.4 44.7,494.0 46.0,498.2 47.3,502.1 48.6,505.6 50.0,508.8 51.3,511.9 52.6,514.7 53.9,517.4 55.2,519.9 56.5,522.3 57.9,524.5 59.2,526.7 60.5,528.7 61.8,530.7 63.1,532.6 64.5,534.4 65.8,536.1 67.1,537.7 68.4,539.3 69.7,540.9 71.0,542.4 72.4,543.8 73.7,545.2 75.0,546.6 76.3,547.9 77.6,549.2 79.0,550.4 80.3,551.6 81.6,552.8 82.9,553.9 84.2,555.0 85.5,556.1 86.9,557.2 88.2,558.2 89.5,559.2 90.8,560.2 92.1,561.2 93.5,562.1 94.8,563.1 96.1,564.0 97.4,564.9 98.7,565.7 100.0,566.6 101.4,567.4 102.7,568.3 104.0,569.1 105.3,569.9 106.6,570.6 108.0,571.4 109.3,572.2 110.6,572.9 111.9,573.6 113.2,574.3 114.5,575.0 115.9,575.7 117.2,576.4 118.5,577.1 119.8,577.7 121.1,578.4 122.5,579.0 123.8,579.7 125.1,580.3 126.4,580.9 127.7,581.5 129.0,582.1 130.4,582.7 131.7,583.3 133.0,583.9 134.3,584.4 135.6,585.0 137.0,585.6 138.3,586.1 139.6,586.6 140.9,587.2 142.2,587.7 143.5,588.2 144.9,588.7 146.2,589.2 147.5,589.7 148.8,590.2 150.1,590.7 151.5,591.2 152.8,591.7 154.1,592.2 155.4,592.7 156.7,593.1 158.0,593.6 159.4,594.0 160.7,594.5 162.0,594.9 163.3,595.4 164.6,595.8 166.0,596.2 167.3,596.7 168.6,597.1 169.9,597.5 171.2,597.9 172.5,598.4 173.9,598.8 175.2,599.2 176.5,599.6 177.8,600.0 179.1,600.4 180.5,600.8 181.8,601.1 183.1,601.5 184.4,601.9 185.7,602.3 187.0,602.7 188.4,603.0 189.7,603.4 191.0,603.8 192.3,604.1 193.6,604.5 195.0,604.8 196.3,605.2 197.6,605.5 198.9,605.9 200.2,606.2 201.5,606.6 202.9,606.9 204.2,607.3 205.5,607.6 206.8,607.9 208.1,608.3 209.5,608.6 210.8,608.9 212.1,609.2 213.4,609.6 214.7,609.9 216.0,610.2 217.4,610.5 218.7,610.8 220.0,611.1 221.3,611.4 222.6,611.7 224.0,612.0 225.3,612.3 226.6,612.6 227.9,612.9 229.2,613.2 230.5,613.5 231.9,613.8 233.2,614.1 234.5,614.4 235.8,614.7 237.1,614.9 238.5,615.2 239.8,615.5 241.1,615.8 242.4,616.1 243.7,616.3 245.0,616.6 246.4,616.9 247.7,617.2 249.0,617.4 250.3,617.7 251.6,617.9 253.0,618.2 254.3,618.5 255.6,618.7 256.9,619.0 258.2,619.2 259.5,619.5 260.9,619.8 262.2,620.0 263.5,620.3 264.8,620.5 266.1,620.8 267.5,621.0 268.8,621.2 270.1,621.5 271.4,621.7 272.7,622.0 274.0,622.2 275.4,622.5 276.7,622.7 278.0,622.9 279.3,623.2 280.6,623.4 282.0,623.6 283.3,623.9 284.6,624.1 285.9,624.3 287.2,624.5 288.5,624.8 289.9,625.0 291.2,625.2 292.5,625.4 293.8,625.7 295.1,625.9 296.5,626.1 297.8,626.3 299.1,626.5 300.4,626.8 301.7,627.0 303.0,627.2 304.4,627.4 305.7,627.6 307.0,627.8 308.3,628.0 309.6,628.2 311.0,628.5 312.3,628.7 313.6,628.9 314.9,629.1 316.2,629.3 317.5,629.5 318.9,629.7 320.2,629.9 321.5,630.1"/>
<polyline class="dash" stroke="#a020f0" points="31.4,494.0 31.4,495.5 31.4,497.0 31.4,498.5 31.4,500.0 31.4,501.5 31.5,503.0 31.5,504.5 31.5,506.0 31.5,507.5 31.5,509.0 31.6,510.5 31.6,511.9 31.6,513.4 31.7,514.9 31.8,516.4 31.9,517.9 32.1,519.4 32.2,520.9 32.4,522.4 32.5,523.9 32.7,525.4 32.9,526.9 33.0,528.3 33.2,529.8 33.4,531.3 33.6,532.8 33.9,534.3 34.1,535.8 34.4,537.2 34.7,538.7 35.0,540.1 35.4,541.6 35.8,543.0 36.3,544.5 36.8,545.9 37.3,547.3 37.9,548.7 38.5,550.0 39.1,551.4 39.9,552.7 40.7,554.0 41.5,555.2 42.3,556.4 43.2,557.6 44.2,558.8 45.1,559.9 46.1,561.1 47.0,562.3 48.0,563.4 48.9,564.6 49.9,565.7 50.9,566.9 51.9,568.0 52.9,569.0 53.9,570.1 55.0,571.2 56.1,572.2 57.2,573.2 58.4,574.1 59.5,575.1 60.7,575.9 62.0,576.8 63.2,577.7 64.4,578.6 65.6,579.4 66.8,580.3 68.1,581.2 69.3,582.0 70.5,582.9 71.7,583.7 73.0,584.6 74.2,585.4 75.4,586.3 76.7,587.1 77.9,588.0 79.2,588.8 80.4,589.6 81.7,590.4 82.9,591.2 84.2,592.0 85.4,592.8 86.7,593.6 88.0,594.4 89.3,595.2 90.6,595.9 91.9,596.6 93.2,597.3 94.5,598.0 95.8,598.8 97.2,599.5 98.4,600.2 99.7,601.0 101.0,601.8 102.3,602.5 103.6,603.3 104.9,604.0 106.2,604.7 107.6,605.4 108.9,606.0 110.3,606.7 111.6,607.3 113.0,607.9 114.4,608.4 115.8,609.0 117.2,609.5 118.6,610.0 120.0,610.5 121.4,611.1 122.8,611.6 124.2,612.1 125.6,612.7 127.0,613.2 128.4,613.7 129.8,614.3 131.2,614.8 132.6,615.4 133.9,615.9 135.3,616.5 136.7,617.0 138.1,617.6 139.5,618.1 140.9,618.7 142.3,619.2 143.7,619.8 145.1,620.3 146.5,620.9 147.9,621.4 149.2,622.0 150.6,622.5 152.0,623.1 153.4,623.6 154.8,624.2 156.2,624.7 157.6,625.3 159.0,625.8 160.4,626.4 161.8,626.9 163.2,627.4 164.6,628.0 166.0,628.5 167.4,629.1 168.8,629.6 170.2,630.1 171.6,630.7 173.0,631.2 174.4,631.7 175.8,632.2 177.2,632.7 178.6,633.2 180.0,633.7 181.4,634.2 182.8,634.7 184.2,635.2 185.6,635.7 187.1,636.2 188.5,636.6 189.9,637.1 191.3,637.6 192.7,638.1 194.2,638.5 195.6,639.0 197.0,639.5 198.4,639.9 199.8,640.4 201.3,640.9 202.7,641.3 204.1,641.8 205.5,642.2 207.0,642.7 208.4,643.1 209.8,643.6 211.2,644.0 212.7,644.5 214.1,644.9 215.5,645.4 217.0,645.8 218.4,646.2 219.8,646.7 221.3,647.1 222.7,647.6 224.1,648.0 225.5,648.5 227.0,648.9 228.4,649.4 229.8,649.8 231.2,650.3 232.7,650.7 234.1,651.2 235.5,651.6 236.9,652.1 238.4,652.5 239.8,652.9 241.2,653.4 242.7,653.8 244.1,654.3 245.5,654.7 246.9,655.2 248.4,655.6 249.8,656.1 251.2,656.5 252.7,657.0 254.1,657.4 255.5,657.9 256.9,658.3 258.4,658.8 259.8,659.3 261.2,659.7 262.6,660.2 264.0,660.7 265.4,661.2 266.9,661.7 268.3,662.2 269.7,662.7 271.1,663.2 272.5,663.7 273.9,664.2 275.3,664.8 276.7,665.3 278.1,665.8 279.5,666.4 280.9,667.0 282.2,667.5 283.6,668.1 285.0,668.7 286.4,669.3 287.7,669.9 289.1,670.5 290.5,671.1 291.8,671.7 293.2,672.3 294.6,672.9 295.9,673.6 297.3,674.2 298.6,674.9 300.0,675.5 301.3,676.2 302.6,676.9 303.9,677.6 305.2,678.3 306.6,679.0 307.9,679.8 309.2,680.5 310.5,681.2 311.7,682.0 313.0,682.9 314.2,683.7 315.4,684.6 316.6,685.6 317.7,686.5 318.8,687.5 319.9,688.6 320.8,689.8 321.5,691.1"/>
<polyline class="sol" stroke="#0000ff" points="32.4,486.0 32.5,487.5 32.7,489.0 32.8,490.5 33.0,492.0 33.1,493.5 33.3,494.9 33.5,496.4 33.7,497.9 33.9,499.4 34.1,500.8 34.4,502.3 34.7,503.8 35.1,505.2 35.5,506.7 35.9,508.1 36.3,509.6 36.7,511.0 37.1,512.4 37.6,513.8 38.1,515.2 38.7,516.6 39.3,518.0 39.9,519.4 40.5,520.8 41.1,522.1 41.6,523.5 42.2,524.9 42.8,526.3 43.4,527.7 44.0,529.0 44.7,530.4 45.4,531.7 46.1,533.0 46.9,534.3 47.7,535.5 48.5,536.8 49.3,538.0 50.2,539.2 51.1,540.5 52.0,541.7 52.9,542.8 53.8,544.0 54.7,545.2 55.7,546.4 56.7,547.5 57.7,548.6 58.7,549.7 59.8,550.7 60.9,551.7 62.0,552.6 63.2,553.6 64.4,554.5 65.6,555.5 66.7,556.4 67.9,557.4 69.0,558.3 70.2,559.3 71.3,560.3 72.4,561.2 73.5,562.2 74.7,563.2 75.8,564.2 76.9,565.2 78.0,566.2 79.2,567.1 80.3,568.1 81.5,569.0 82.7,569.9 83.9,570.8 85.1,571.7 86.3,572.5 87.6,573.4 88.8,574.2 90.1,575.0 91.4,575.8 92.7,576.5 93.9,577.3 95.2,578.1 96.4,579.0 97.7,579.8 98.9,580.7 100.1,581.6 101.3,582.4 102.5,583.3 103.8,584.1 105.0,584.9 106.3,585.7 107.6,586.5 108.8,587.3 110.1,588.1 111.4,588.9 112.6,589.7 113.9,590.5 115.2,591.3 116.5,592.0 117.8,592.8 119.1,593.5 120.4,594.2 121.7,594.9 123.0,595.6 124.4,596.3 125.7,597.0 127.0,597.7 128.3,598.4 129.6,599.1 131.0,599.8 132.3,600.5 133.6,601.2 134.9,601.9 136.3,602.6 137.6,603.3 138.9,604.0 140.3,604.6 141.6,605.3 142.9,606.0 144.3,606.7 145.6,607.3 146.9,608.0 148.3,608.6 149.6,609.3 151.0,610.0 152.3,610.6 153.7,611.2 155.0,611.9 156.4,612.5 157.7,613.2 159.1,613.8 160.4,614.4 161.8,615.1 163.1,615.7 164.5,616.3 165.9,616.9 167.2,617.5 168.6,618.2 170.0,618.8 171.3,619.4 172.7,620.0 174.1,620.6 175.4,621.2 176.8,621.8 178.2,622.4 179.6,623.0 180.9,623.6 182.3,624.1 183.7,624.7 185.1,625.3 186.4,625.9 187.8,626.4 189.2,627.0 190.6,627.6 192.0,628.1 193.4,628.7 194.7,629.3 196.1,629.8 197.5,630.4 198.9,630.9 200.3,631.5 201.7,632.0 203.1,632.6 204.5,633.1 205.9,633.6 207.3,634.2 208.7,634.7 210.1,635.2 211.5,635.8 212.9,636.3 214.3,636.8 215.7,637.3 217.1,637.9 218.5,638.4 219.9,638.9 221.3,639.4 222.7,639.9 224.1,640.4 225.5,640.9 226.9,641.5 228.3,642.0 229.7,642.5 231.1,643.0 232.5,643.5 234.0,644.0 235.4,644.5 236.8,645.0 238.2,645.5 239.6,646.0 241.0,646.5 242.4,647.0 243.8,647.5 245.2,648.0 246.6,648.5 248.1,649.0 249.5,649.5 250.9,650.0 252.3,650.5 253.7,651.0 255.1,651.5 256.5,652.0 257.9,652.5 259.3,653.0 260.7,653.5 262.1,654.0 263.5,654.5 265.0,655.0 266.4,655.5 267.8,656.0 269.2,656.6 270.6,657.1 271.9,657.6 273.3,658.2 274.7,658.7 276.1,659.3 277.5,659.8 278.9,660.4 280.3,661.0 281.7,661.5 283.0,662.1 284.4,662.7 285.8,663.3 287.2,663.9 288.5,664.5 289.9,665.2 291.2,665.8 292.6,666.4 293.9,667.1 295.3,667.8 296.6,668.5 297.9,669.2 299.2,669.9 300.5,670.7 301.8,671.4 303.1,672.2 304.3,673.0 305.6,673.8 306.8,674.7 308.0,675.5 309.2,676.4 310.4,677.3 311.6,678.3 312.7,679.2 313.8,680.2 314.9,681.3 316.0,682.3 317.0,683.4 317.9,684.6 318.9,685.8 319.7,687.0 320.5,688.3 321.0,689.7 321.5,691.1"/>
<polyline class="sol" stroke="#ff0000" points="43.6,486.0 43.8,487.5 44.1,488.9 44.4,490.4 44.8,491.9 45.2,493.3 45.6,494.7 46.1,496.2 46.4,497.7 46.8,499.3 47.3,500.7 47.9,501.9 49.1,502.7 50.5,503.5 51.2,504.6 51.6,505.9 52.0,507.4 52.4,509.0 52.8,510.5 53.4,511.9 53.9,513.3 54.5,514.7 55.1,516.1 55.7,517.4 56.4,518.8 57.0,520.2 57.6,521.5 58.3,522.9 59.0,524.2 59.7,525.5 60.5,526.8 61.3,528.0 62.2,529.2 63.0,530.5 64.0,531.7 64.9,532.8 65.8,534.0 66.7,535.2 67.7,536.4 68.7,537.5 69.7,538.6 70.7,539.7 71.8,540.7 72.9,541.7 74.1,542.6 75.3,543.5 76.4,544.5 77.5,545.5 78.6,546.5 79.7,547.6 80.7,548.7 81.8,549.7 82.8,550.8 83.9,551.9 84.9,553.0 86.0,554.0 87.0,555.1 88.1,556.1 89.2,557.2 90.3,558.2 91.4,559.2 92.6,560.1 93.8,560.9 95.1,561.7 96.4,562.4 97.7,563.2 99.0,564.0 100.2,564.9 101.3,565.9 102.4,566.9 103.5,567.9 104.7,568.8 106.0,569.6 107.3,570.2 108.7,570.8 110.1,571.5 111.3,572.2 112.5,573.1 113.7,574.1 114.8,575.1 115.9,576.1 117.1,577.1 118.3,577.9 119.6,578.7 120.8,579.5 122.1,580.3 123.4,581.1 124.7,581.8 126.0,582.6 127.3,583.3 128.6,584.0 129.9,584.7 131.3,585.4 132.6,586.2 133.9,586.9 135.2,587.7 136.4,588.4 137.7,589.2 139.0,590.0 140.3,590.7 141.7,591.3 143.1,591.9 144.4,592.5 145.9,593.0 147.2,593.5 148.6,594.1 150.0,594.7 151.3,595.4 152.6,596.2 153.9,596.9 155.2,597.7 156.5,598.4 157.9,599.0 159.3,599.6 160.6,600.2 162.0,600.8 163.4,601.4 164.8,602.0 166.1,602.6 167.5,603.2 168.9,603.8 170.2,604.4 171.6,605.0 173.0,605.6 174.4,606.2 175.7,606.8 177.1,607.4 178.5,607.9 179.9,608.5 181.3,609.1 182.7,609.7 184.0,610.2 185.4,610.8 186.8,611.4 188.2,612.0 189.6,612.5 190.9,613.1 192.3,613.7 193.7,614.3 195.1,614.9 196.5,615.4 197.8,616.0 199.2,616.6 200.6,617.2 202.0,617.7 203.4,618.3 204.8,618.9 206.2,619.4 207.5,620.0 208.9,620.5 210.3,621.1 211.7,621.6 213.1,622.2 214.5,622.7 215.9,623.2 217.3,623.8 218.7,624.3 220.1,624.8 221.5,625.4 222.9,625.9 224.3,626.5 225.7,627.0 227.1,627.6 228.5,628.1 229.9,628.7 231.3,629.2 232.7,629.8 234.1,630.3 235.5,630.8 236.8,631.4 238.2,631.9 239.6,632.5 241.0,633.0 242.4,633.6 243.8,634.1 245.2,634.7 246.6,635.2 248.0,635.8 249.4,636.3 250.8,636.9 252.2,637.4 253.6,638.0 255.0,638.5 256.3,639.1 257.7,639.7 259.1,640.2 260.5,640.8 261.9,641.4 263.3,641.9 264.7,642.5 266.0,643.1 267.4,643.7 268.8,644.2 270.2,644.8 271.6,645.4 272.9,646.0 274.3,646.6 275.7,647.2 277.0,647.8 278.4,648.5 279.8,649.1 281.1,649.7 282.5,650.4 283.8,651.1 285.1,651.7 286.5,652.4 287.8,653.1 289.1,653.8 290.4,654.5 291.7,655.3 293.0,656.0 294.3,656.8 295.6,657.6 296.8,658.4 298.1,659.2 299.3,660.1 300.5,661.0 301.7,661.9 302.9,662.8 304.0,663.8 305.2,664.8 306.3,665.8 307.4,666.8 308.4,667.9 309.4,669.0 310.4,670.1 311.4,671.2 312.3,672.4 313.2,673.6 314.1,674.8 314.9,676.1 315.7,677.3 316.5,678.6 317.2,680.0 317.9,681.3 318.5,682.6 319.1,684.0 319.7,685.4 320.2,686.8 320.7,688.2 321.1,689.6 321.5,691.1"/>
</g>
<path class="tk" d="M37.3,691.1v-2.8M37.3,488.4v2.8M43.1,691.1v-2.8M43.1,488.4v2.8M48.9,691.1v-2.8M48.9,488.4v2.8M54.7,691.1v-2.8M54.7,488.4v2.8M60.5,691.1v-5.6M60.5,488.4v5.6M66.3,691.1v-2.8M66.3,488.4v2.8M72.1,691.1v-2.8M72.1,488.4v2.8M77.9,691.1v-2.8M77.9,488.4v2.8M83.7,691.1v-2.8M83.7,488.4v2.8M89.5,691.1v-5.6M89.5,488.4v5.6M95.3,691.1v-2.8M95.3,488.4v2.8M101.1,691.1v-2.8M101.1,488.4v2.8M106.9,691.1v-2.8M106.9,488.4v2.8M112.7,691.1v-2.8M112.7,488.4v2.8M118.5,691.1v-5.6M118.5,488.4v5.6M124.3,691.1v-2.8M124.3,488.4v2.8M130.1,691.1v-2.8M130.1,488.4v2.8M135.9,691.1v-2.8M135.9,488.4v2.8M141.7,691.1v-2.8M141.7,488.4v2.8M147.5,691.1v-5.6M147.5,488.4v5.6M153.3,691.1v-2.8M153.3,488.4v2.8M159.1,691.1v-2.8M159.1,488.4v2.8M164.9,691.1v-2.8M164.9,488.4v2.8M170.7,691.1v-2.8M170.7,488.4v2.8M176.5,691.1v-5.6M176.5,488.4v5.6M182.3,691.1v-2.8M182.3,488.4v2.8M188.1,691.1v-2.8M188.1,488.4v2.8M193.9,691.1v-2.8M193.9,488.4v2.8M199.7,691.1v-2.8M199.7,488.4v2.8M205.5,691.1v-5.6M205.5,488.4v5.6M211.3,691.1v-2.8M211.3,488.4v2.8M217.1,691.1v-2.8M217.1,488.4v2.8M222.9,691.1v-2.8M222.9,488.4v2.8M228.7,691.1v-2.8M228.7,488.4v2.8M234.5,691.1v-5.6M234.5,488.4v5.6M240.3,691.1v-2.8M240.3,488.4v2.8M246.1,691.1v-2.8M246.1,488.4v2.8M251.9,691.1v-2.8M251.9,488.4v2.8M257.7,691.1v-2.8M257.7,488.4v2.8M263.5,691.1v-5.6M263.5,488.4v5.6M269.3,691.1v-2.8M269.3,488.4v2.8M275.1,691.1v-2.8M275.1,488.4v2.8M280.9,691.1v-2.8M280.9,488.4v2.8M286.7,691.1v-2.8M286.7,488.4v2.8M292.5,691.1v-5.6M292.5,488.4v5.6M298.3,691.1v-2.8M298.3,488.4v2.8M304.1,691.1v-2.8M304.1,488.4v2.8M309.9,691.1v-2.8M309.9,488.4v2.8M315.7,691.1v-2.8M315.7,488.4v2.8M31.5,675.85h3.0M321.5,675.85h-3.0M31.5,666.92h3.0M321.5,666.92h-3.0M31.5,660.59h3.0M321.5,660.59h-3.0M31.5,655.68h3.0M321.5,655.68h-3.0M31.5,651.67h3.0M321.5,651.67h-3.0M31.5,648.27h3.0M321.5,648.27h-3.0M31.5,645.34h3.0M321.5,645.34h-3.0M31.5,642.74h3.0M321.5,642.74h-3.0M31.5,640.42h5.8M321.5,640.42h-5.8M31.5,625.17h3.0M321.5,625.17h-3.0M31.5,616.25h3.0M321.5,616.25h-3.0M31.5,609.92h3.0M321.5,609.92h-3.0M31.5,605h3.0M321.5,605h-3.0M31.5,600.99h3.0M321.5,600.99h-3.0M31.5,597.6h3.0M321.5,597.6h-3.0M31.5,594.66h3.0M321.5,594.66h-3.0M31.5,592.07h3.0M321.5,592.07h-3.0M31.5,589.75h5.8M321.5,589.75h-5.8M31.5,574.5h3.0M321.5,574.5h-3.0M31.5,565.57h3.0M321.5,565.57h-3.0M31.5,559.24h3.0M321.5,559.24h-3.0M31.5,554.33h3.0M321.5,554.33h-3.0M31.5,550.32h3.0M321.5,550.32h-3.0M31.5,546.92h3.0M321.5,546.92h-3.0M31.5,543.99h3.0M321.5,543.99h-3.0M31.5,541.39h3.0M321.5,541.39h-3.0M31.5,539.07h5.8M321.5,539.07h-5.8M31.5,523.82h3.0M321.5,523.82h-3.0M31.5,514.9h3.0M321.5,514.9h-3.0M31.5,508.57h3.0M321.5,508.57h-3.0M31.5,503.65h3.0M321.5,503.65h-3.0M31.5,499.64h3.0M321.5,499.64h-3.0M31.5,496.25h3.0M321.5,496.25h-3.0M31.5,493.31h3.0M321.5,493.31h-3.0M31.5,490.72h3.0M321.5,490.72h-3.0"/>
<rect class="fr" x="31.5" y="488.4" width="290" height="202.7"/>
<text class="tl" text-anchor="middle" x="31.5" y="701.3">0</text>
<text class="tl" text-anchor="middle" x="60.5" y="701.3">0.1</text>
<text class="tl" text-anchor="middle" x="89.5" y="701.3">0.2</text>
<text class="tl" text-anchor="middle" x="118.5" y="701.3">0.3</text>
<text class="tl" text-anchor="middle" x="147.5" y="701.3">0.4</text>
<text class="tl" text-anchor="middle" x="176.5" y="701.3">0.5</text>
<text class="tl" text-anchor="middle" x="205.5" y="701.3">0.6</text>
<text class="tl" text-anchor="middle" x="234.5" y="701.3">0.7</text>
<text class="tl" text-anchor="middle" x="263.5" y="701.3">0.8</text>
<text class="tl" text-anchor="middle" x="292.5" y="701.3">0.9</text>
<text class="tl" text-anchor="middle" x="321.5" y="701.3">1</text>
<text class="tl" text-anchor="end" x="31" y="694.5">1</text>
<text class="tl" text-anchor="end" x="28.7" y="645.02">10</text>
<text class="tl" text-anchor="end" x="29.1" y="595.15">10<tspan class="sup" dy="-5.6">2</tspan></text>
<text class="tl" text-anchor="end" x="29.1" y="544.47">10<tspan class="sup" dy="-5.6">3</tspan></text>
<text class="tl" text-anchor="end" x="29.1" y="493.8">10<tspan class="sup" dy="-5.6">4</tspan></text>
<text class="at" text-anchor="middle" x="176.5" y="712.1">signal eff</text>
<text class="at" text-anchor="middle" transform="translate(8.7,589.75) rotate(-90)">bkg rejection</text>
<text class="tt" y="509.05"><tspan x="72.9">W</tspan> <tspan class="ar" x="84.4" dy="1.8">→</tspan> <tspan x="96.6" dy="-1.8">q<tspan class="ov">q</tspan></tspan></text>
<text class="sl" text-anchor="middle" transform="translate(301.7,621) rotate(5.5)" y="2.4">s = 4</text>
<text class="sl" text-anchor="middle" transform="translate(300.5,635.2) rotate(5.5)" y="2.4">s = 3</text>
<text class="sl" text-anchor="middle" transform="translate(299.6,651.8) rotate(5.5)" y="2.4">s = 2</text>
<text class="sl" text-anchor="middle" transform="translate(205.2,663.2) rotate(9)" y="2.4">s = 1</text>
<rect class="lg" x="239.9" y="502.6" width="61.6" height="35"/>
<path class="sol ls" fill="none" stroke="#ff0000" d="M243.1,508.7H257.7"/>
<text class="lt" x="263.6" y="511.7">NN 2P</text>
<path class="sol ls" fill="none" stroke="#0000ff" d="M243.1,519.2H257.7"/>
<text class="lt" x="263.6" y="521.1">LoRD T<tspan class="sb2" dy="2.3">2P</tspan></text>
<path class="dash ls" fill="none" stroke="#a020f0" d="M243.1,530.3H257.7"/>
<text class="lt" x="263.6" y="531.6"><tspan class="tau">τ</tspan><tspan class="sb2" dy="2.3">21</tspan></text>
</g>
<g class="panel">
<clipPath id="cp5"><rect x="392.8" y="488.4" width="289.7" height="202.7"/></clipPath>
<g clip-path="url(#cp5)" fill="none">
<polyline class="br" points="395.4,484.2 396.8,502.1 398.1,514.7 399.4,524.5 400.7,532.6 402.0,539.3 403.3,545.2 404.7,550.4 406.0,555.0 407.3,559.2 408.6,563.1 409.9,566.6 411.2,569.9 412.6,572.9 413.9,575.7 415.2,578.4 416.5,580.9 417.8,583.3 419.1,585.6 420.5,587.7 421.8,589.7 423.1,591.7 424.4,593.6 425.7,595.4 427.0,597.1 428.4,598.8 429.7,600.4 431.0,601.9 432.3,603.4 433.6,604.8 434.9,606.2 436.3,607.6 437.6,608.9 438.9,610.2 440.2,611.4 441.5,612.6 442.8,613.8 444.2,614.9 445.5,616.1 446.8,617.2 448.1,618.2 449.4,619.2 450.7,620.3 452.1,621.2 453.4,622.2 454.7,623.2 456.0,624.1 457.3,625.0 458.6,625.9 460.0,626.8 461.3,627.6 462.6,628.5 463.9,629.3 465.2,630.1 466.5,630.9 467.9,631.7 469.2,632.4 470.5,633.2 471.8,633.9 473.1,634.6 474.4,635.4 475.8,636.1 477.1,636.8 478.4,637.4 479.7,638.1 481.0,638.8 482.3,639.4 483.7,640.1 485.0,640.7 486.3,641.3 487.6,641.9 488.9,642.5 490.2,643.1 491.6,643.7 492.9,644.3 494.2,644.9 495.5,645.5 496.8,646.0 498.1,646.6 499.5,647.1 500.8,647.7 502.1,648.2 503.4,648.7 504.7,649.2 506.0,649.8 507.4,650.3 508.7,650.8 510.0,651.3 511.3,651.8 512.6,652.2 513.9,652.7 515.3,653.2 516.6,653.7 517.9,654.1 519.2,654.6 520.5,655.1 521.8,655.5 523.2,656.0 524.5,656.4 525.8,656.8 527.1,657.3 528.4,657.7 529.7,658.1 531.1,658.5 532.4,659.0 533.7,659.4 535.0,659.8 536.3,660.2 537.6,660.6 539.0,661.0 540.3,661.4 541.6,661.8 542.9,662.2 544.2,662.5 545.6,662.9 546.9,663.3 548.2,663.7 549.5,664.1 550.8,664.4 552.1,664.8 553.5,665.1 554.8,665.5 556.1,665.9 557.4,666.2 558.7,666.6 560.0,666.9 561.4,667.3 562.7,667.6 564.0,667.9 565.3,668.3 566.6,668.6 567.9,668.9 569.3,669.3 570.6,669.6 571.9,669.9 573.2,670.3 574.5,670.6 575.8,670.9 577.2,671.2 578.5,671.5 579.8,671.8 581.1,672.1 582.4,672.4 583.7,672.8 585.1,673.1 586.4,673.4 587.7,673.7 589.0,673.9 590.3,674.2 591.6,674.5 593.0,674.8 594.3,675.1 595.6,675.4 596.9,675.7 598.2,676.0 599.5,676.2 600.9,676.5 602.2,676.8 603.5,677.1 604.8,677.4 606.1,677.6 607.4,677.9 608.8,678.2 610.1,678.4 611.4,678.7 612.7,679.0 614.0,679.2 615.3,679.5 616.7,679.8 618.0,680.0 619.3,680.3 620.6,680.5 621.9,680.8 623.2,681.0 624.6,681.3 625.9,681.5 627.2,681.8 628.5,682.0 629.8,682.3 631.1,682.5 632.5,682.8 633.8,683.0 635.1,683.2 636.4,683.5 637.7,683.7 639.0,683.9 640.4,684.2 641.7,684.4 643.0,684.6 644.3,684.9 645.6,685.1 646.9,685.3 648.3,685.6 649.6,685.8 650.9,686.0 652.2,686.2 653.5,686.5 654.8,686.7 656.2,686.9 657.5,687.1 658.8,687.3 660.1,687.6 661.4,687.8 662.7,688.0 664.1,688.2 665.4,688.4 666.7,688.6 668.0,688.8 669.3,689.1 670.6,689.3 672.0,689.5 673.3,689.7 674.6,689.9 675.9,690.1 677.2,690.3 678.5,690.5 679.9,690.7 681.2,690.9 682.5,691.1"/>
<polyline class="br" points="398.1,484.2 399.4,494.0 400.7,502.1 402.0,508.8 403.3,514.7 404.7,519.9 406.0,524.5 407.3,528.7 408.6,532.6 409.9,536.1 411.2,539.3 412.6,542.4 413.9,545.2 415.2,547.9 416.5,550.4 417.8,552.8 419.1,555.0 420.5,557.2 421.8,559.2 423.1,561.2 424.4,563.1 425.7,564.9 427.0,566.6 428.4,568.3 429.7,569.9 431.0,571.4 432.3,572.9 433.6,574.3 434.9,575.7 436.3,577.1 437.6,578.4 438.9,579.7 440.2,580.9 441.5,582.1 442.8,583.3 444.2,584.4 445.5,585.6 446.8,586.6 448.1,587.7 449.4,588.7 450.7,589.7 452.1,590.7 453.4,591.7 454.7,592.7 456.0,593.6 457.3,594.5 458.6,595.4 460.0,596.2 461.3,597.1 462.6,597.9 463.9,598.8 465.2,599.6 466.5,600.4 467.9,601.1 469.2,601.9 470.5,602.7 471.8,603.4 473.1,604.1 474.4,604.8 475.8,605.5 477.1,606.2 478.4,606.9 479.7,607.6 481.0,608.3 482.3,608.9 483.7,609.6 485.0,610.2 486.3,610.8 487.6,611.4 488.9,612.0 490.2,612.6 491.6,613.2 492.9,613.8 494.2,614.4 495.5,614.9 496.8,615.5 498.1,616.1 499.5,616.6 500.8,617.2 502.1,617.7 503.4,618.2 504.7,618.7 506.0,619.2 507.4,619.8 508.7,620.3 510.0,620.8 511.3,621.2 512.6,621.7 513.9,622.2 515.3,622.7 516.6,623.2 517.9,623.6 519.2,624.1 520.5,624.5 521.8,625.0 523.2,625.4 524.5,625.9 525.8,626.3 527.1,626.8 528.4,627.2 529.7,627.6 531.1,628.0 532.4,628.5 533.7,628.9 535.0,629.3 536.3,629.7 537.6,630.1 539.0,630.5 540.3,630.9 541.6,631.3 542.9,631.7 544.2,632.0 545.6,632.4 546.9,632.8 548.2,633.2 549.5,633.5 550.8,633.9 552.1,634.3 553.5,634.6 554.8,635.0 556.1,635.4 557.4,635.7 558.7,636.1 560.0,636.4 561.4,636.8 562.7,637.1 564.0,637.4 565.3,637.8 566.6,638.1 567.9,638.4 569.3,638.8 570.6,639.1 571.9,639.4 573.2,639.7 574.5,640.1 575.8,640.4 577.2,640.7 578.5,641.0 579.8,641.3 581.1,641.6 582.4,641.9 583.7,642.2 585.1,642.5 586.4,642.8 587.7,643.1 589.0,643.4 590.3,643.7 591.6,644.0 593.0,644.3 594.3,644.6 595.6,644.9 596.9,645.2 598.2,645.5 599.5,645.7 600.9,646.0 602.2,646.3 603.5,646.6 604.8,646.8 606.1,647.1 607.4,647.4 608.8,647.7 610.1,647.9 611.4,648.2 612.7,648.5 614.0,648.7 615.3,649.0 616.7,649.2 618.0,649.5 619.3,649.8 620.6,650.0 621.9,650.3 623.2,650.5 624.6,650.8 625.9,651.0 627.2,651.3 628.5,651.5 629.8,651.8 631.1,652.0 632.5,652.2 633.8,652.5 635.1,652.7 636.4,653.0 637.7,653.2 639.0,653.4 640.4,653.7 641.7,653.9 643.0,654.1 644.3,654.4 645.6,654.6 646.9,654.8 648.3,655.1 649.6,655.3 650.9,655.5 652.2,655.7 653.5,656.0 654.8,656.2 656.2,656.4 657.5,656.6 658.8,656.8 660.1,657.1 661.4,657.3 662.7,657.5 664.1,657.7 665.4,657.9 666.7,658.1 668.0,658.3 669.3,658.5 670.6,658.8 672.0,659.0 673.3,659.2 674.6,659.4 675.9,659.6 677.2,659.8 678.5,660.0 679.9,660.2 681.2,660.4 682.5,660.6"/>
<polyline class="br" points="399.4,476.2 400.7,484.2 402.0,491.0 403.3,496.9 404.7,502.1 406.0,506.7 407.3,510.9 408.6,514.7 409.9,518.2 411.2,521.5 412.6,524.5 413.9,527.4 415.2,530.0 416.5,532.6 417.8,534.9 419.1,537.2 420.5,539.3 421.8,541.4 423.1,543.4 424.4,545.2 425.7,547.0 427.0,548.7 428.4,550.4 429.7,552.0 431.0,553.6 432.3,555.0 433.6,556.5 434.9,557.9 436.3,559.2 437.6,560.6 438.9,561.8 440.2,563.1 441.5,564.3 442.8,565.5 444.2,566.6 445.5,567.7 446.8,568.8 448.1,569.9 449.4,570.9 450.7,571.9 452.1,572.9 453.4,573.9 454.7,574.8 456.0,575.7 457.3,576.6 458.6,577.5 460.0,578.4 461.3,579.3 462.6,580.1 463.9,580.9 465.2,581.7 466.5,582.5 467.9,583.3 469.2,584.1 470.5,584.8 471.8,585.6 473.1,586.3 474.4,587.0 475.8,587.7 477.1,588.4 478.4,589.1 479.7,589.7 481.0,590.4 482.3,591.1 483.7,591.7 485.0,592.3 486.3,593.0 487.6,593.6 488.9,594.2 490.2,594.8 491.6,595.4 492.9,596.0 494.2,596.5 495.5,597.1 496.8,597.7 498.1,598.2 499.5,598.8 500.8,599.3 502.1,599.8 503.4,600.4 504.7,600.9 506.0,601.4 507.4,601.9 508.7,602.4 510.0,602.9 511.3,603.4 512.6,603.9 513.9,604.4 515.3,604.8 516.6,605.3 517.9,605.8 519.2,606.2 520.5,606.7 521.8,607.1 523.2,607.6 524.5,608.0 525.8,608.5 527.1,608.9 528.4,609.3 529.7,609.8 531.1,610.2 532.4,610.6 533.7,611.0 535.0,611.4 536.3,611.8 537.6,612.2 539.0,612.6 540.3,613.0 541.6,613.4 542.9,613.8 544.2,614.2 545.6,614.6 546.9,614.9 548.2,615.3 549.5,615.7 550.8,616.1 552.1,616.4 553.5,616.8 554.8,617.2 556.1,617.5 557.4,617.9 558.7,618.2 560.0,618.6 561.4,618.9 562.7,619.2 564.0,619.6 565.3,619.9 566.6,620.3 567.9,620.6 569.3,620.9 570.6,621.2 571.9,621.6 573.2,621.9 574.5,622.2 575.8,622.5 577.2,622.8 578.5,623.2 579.8,623.5 581.1,623.8 582.4,624.1 583.7,624.4 585.1,624.7 586.4,625.0 587.7,625.3 589.0,625.6 590.3,625.9 591.6,626.2 593.0,626.5 594.3,626.8 595.6,627.0 596.9,627.3 598.2,627.6 599.5,627.9 600.9,628.2 602.2,628.5 603.5,628.7 604.8,629.0 606.1,629.3 607.4,629.5 608.8,629.8 610.1,630.1 611.4,630.3 612.7,630.6 614.0,630.9 615.3,631.1 616.7,631.4 618.0,631.7 619.3,631.9 620.6,632.2 621.9,632.4 623.2,632.7 624.6,632.9 625.9,633.2 627.2,633.4 628.5,633.7 629.8,633.9 631.1,634.2 632.5,634.4 633.8,634.6 635.1,634.9 636.4,635.1 637.7,635.4 639.0,635.6 640.4,635.8 641.7,636.1 643.0,636.3 644.3,636.5 645.6,636.8 646.9,637.0 648.3,637.2 649.6,637.4 650.9,637.7 652.2,637.9 653.5,638.1 654.8,638.3 656.2,638.5 657.5,638.8 658.8,639.0 660.1,639.2 661.4,639.4 662.7,639.6 664.1,639.8 665.4,640.1 666.7,640.3 668.0,640.5 669.3,640.7 670.6,640.9 672.0,641.1 673.3,641.3 674.6,641.5 675.9,641.7 677.2,641.9 678.5,642.1 679.9,642.3 681.2,642.5 682.5,642.7"/>
<polyline class="br" points="402.0,478.3 403.3,484.2 404.7,489.4 406.0,494.0 407.3,498.2 408.6,502.1 409.9,505.6 411.2,508.8 412.6,511.9 413.9,514.7 415.2,517.4 416.5,519.9 417.8,522.3 419.1,524.5 420.5,526.7 421.8,528.7 423.1,530.7 424.4,532.6 425.7,534.4 427.0,536.1 428.4,537.7 429.7,539.3 431.0,540.9 432.3,542.4 433.6,543.8 434.9,545.2 436.3,546.6 437.6,547.9 438.9,549.2 440.2,550.4 441.5,551.6 442.8,552.8 444.2,553.9 445.5,555.0 446.8,556.1 448.1,557.2 449.4,558.2 450.7,559.2 452.1,560.2 453.4,561.2 454.7,562.1 456.0,563.1 457.3,564.0 458.6,564.9 460.0,565.7 461.3,566.6 462.6,567.4 463.9,568.3 465.2,569.1 466.5,569.9 467.9,570.6 469.2,571.4 470.5,572.2 471.8,572.9 473.1,573.6 474.4,574.3 475.8,575.0 477.1,575.7 478.4,576.4 479.7,577.1 481.0,577.7 482.3,578.4 483.7,579.0 485.0,579.7 486.3,580.3 487.6,580.9 488.9,581.5 490.2,582.1 491.6,582.7 492.9,583.3 494.2,583.9 495.5,584.4 496.8,585.0 498.1,585.6 499.5,586.1 500.8,586.6 502.1,587.2 503.4,587.7 504.7,588.2 506.0,588.7 507.4,589.2 508.7,589.7 510.0,590.2 511.3,590.7 512.6,591.2 513.9,591.7 515.3,592.2 516.6,592.7 517.9,593.1 519.2,593.6 520.5,594.0 521.8,594.5 523.2,594.9 524.5,595.4 525.8,595.8 527.1,596.2 528.4,596.7 529.7,597.1 531.1,597.5 532.4,597.9 533.7,598.4 535.0,598.8 536.3,599.2 537.6,599.6 539.0,600.0 540.3,600.4 541.6,600.8 542.9,601.1 544.2,601.5 545.6,601.9 546.9,602.3 548.2,602.7 549.5,603.0 550.8,603.4 552.1,603.8 553.5,604.1 554.8,604.5 556.1,604.8 557.4,605.2 558.7,605.5 560.0,605.9 561.4,606.2 562.7,606.6 564.0,606.9 565.3,607.3 566.6,607.6 567.9,607.9 569.3,608.3 570.6,608.6 571.9,608.9 573.2,609.2 574.5,609.6 575.8,609.9 577.2,610.2 578.5,610.5 579.8,610.8 581.1,611.1 582.4,611.4 583.7,611.7 585.1,612.0 586.4,612.3 587.7,612.6 589.0,612.9 590.3,613.2 591.6,613.5 593.0,613.8 594.3,614.1 595.6,614.4 596.9,614.7 598.2,614.9 599.5,615.2 600.9,615.5 602.2,615.8 603.5,616.1 604.8,616.3 606.1,616.6 607.4,616.9 608.8,617.2 610.1,617.4 611.4,617.7 612.7,617.9 614.0,618.2 615.3,618.5 616.7,618.7 618.0,619.0 619.3,619.2 620.6,619.5 621.9,619.8 623.2,620.0 624.6,620.3 625.9,620.5 627.2,620.8 628.5,621.0 629.8,621.2 631.1,621.5 632.5,621.7 633.8,622.0 635.1,622.2 636.4,622.5 637.7,622.7 639.0,622.9 640.4,623.2 641.7,623.4 643.0,623.6 644.3,623.9 645.6,624.1 646.9,624.3 648.3,624.5 649.6,624.8 650.9,625.0 652.2,625.2 653.5,625.4 654.8,625.7 656.2,625.9 657.5,626.1 658.8,626.3 660.1,626.5 661.4,626.8 662.7,627.0 664.1,627.2 665.4,627.4 666.7,627.6 668.0,627.8 669.3,628.0 670.6,628.2 672.0,628.5 673.3,628.7 674.6,628.9 675.9,629.1 677.2,629.3 678.5,629.5 679.9,629.7 681.2,629.9 682.5,630.1"/>
<polyline class="br" points="406.0,476.2 407.3,480.4 408.6,484.2 409.9,487.7 411.2,491.0 412.6,494.0 413.9,496.9 415.2,499.5 416.5,502.1 417.8,504.4 419.1,506.7 420.5,508.8 421.8,510.9 423.1,512.8 424.4,514.7 425.7,516.5 427.0,518.2 428.4,519.9 429.7,521.5 431.0,523.0 432.3,524.5 433.6,526.0 434.9,527.4 436.3,528.7 437.6,530.0 438.9,531.3 440.2,532.6 441.5,533.8 442.8,534.9 444.2,536.1 445.5,537.2 446.8,538.3 448.1,539.3 449.4,540.4 450.7,541.4 452.1,542.4 453.4,543.4 454.7,544.3 456.0,545.2 457.3,546.1 458.6,547.0 460.0,547.9 461.3,548.7 462.6,549.6 463.9,550.4 465.2,551.2 466.5,552.0 467.9,552.8 469.2,553.6 470.5,554.3 471.8,555.0 473.1,555.8 474.4,556.5 475.8,557.2 477.1,557.9 478.4,558.6 479.7,559.2 481.0,559.9 482.3,560.6 483.7,561.2 485.0,561.8 486.3,562.5 487.6,563.1 488.9,563.7 490.2,564.3 491.6,564.9 492.9,565.5 494.2,566.0 495.5,566.6 496.8,567.2 498.1,567.7 499.5,568.3 500.8,568.8 502.1,569.3 503.4,569.9 504.7,570.4 506.0,570.9 507.4,571.4 508.7,571.9 510.0,572.4 511.3,572.9 512.6,573.4 513.9,573.9 515.3,574.3 516.6,574.8 517.9,575.3 519.2,575.7 520.5,576.2 521.8,576.6 523.2,577.1 524.5,577.5 525.8,578.0 527.1,578.4 528.4,578.8 529.7,579.3 531.1,579.7 532.4,580.1 533.7,580.5 535.0,580.9 536.3,581.3 537.6,581.7 539.0,582.1 540.3,582.5 541.6,582.9 542.9,583.3 544.2,583.7 545.6,584.1 546.9,584.4 548.2,584.8 549.5,585.2 550.8,585.6 552.1,585.9 553.5,586.3 554.8,586.6 556.1,587.0 557.4,587.4 558.7,587.7 560.0,588.1 561.4,588.4 562.7,588.7 564.0,589.1 565.3,589.4 566.6,589.7 567.9,590.1 569.3,590.4 570.6,590.7 571.9,591.1 573.2,591.4 574.5,591.7 575.8,592.0 577.2,592.3 578.5,592.7 579.8,593.0 581.1,593.3 582.4,593.6 583.7,593.9 585.1,594.2 586.4,594.5 587.7,594.8 589.0,595.1 590.3,595.4 591.6,595.7 593.0,596.0 594.3,596.2 595.6,596.5 596.9,596.8 598.2,597.1 599.5,597.4 600.9,597.7 602.2,597.9 603.5,598.2 604.8,598.5 606.1,598.8 607.4,599.0 608.8,599.3 610.1,599.6 611.4,599.8 612.7,600.1 614.0,600.4 615.3,600.6 616.7,600.9 618.0,601.1 619.3,601.4 620.6,601.7 621.9,601.9 623.2,602.2 624.6,602.4 625.9,602.7 627.2,602.9 628.5,603.2 629.8,603.4 631.1,603.6 632.5,603.9 633.8,604.1 635.1,604.4 636.4,604.6 637.7,604.8 639.0,605.1 640.4,605.3 641.7,605.5 643.0,605.8 644.3,606.0 645.6,606.2 646.9,606.5 648.3,606.7 649.6,606.9 650.9,607.1 652.2,607.4 653.5,607.6 654.8,607.8 656.2,608.0 657.5,608.3 658.8,608.5 660.1,608.7 661.4,608.9 662.7,609.1 664.1,609.3 665.4,609.6 666.7,609.8 668.0,610.0 669.3,610.2 670.6,610.4 672.0,610.6 673.3,610.8 674.6,611.0 675.9,611.2 677.2,611.4 678.5,611.6 679.9,611.8 681.2,612.0 682.5,612.2"/>
<polyline class="dash" stroke="#a020f0" points="394.6,486.0 394.6,487.5 394.6,489.0 394.6,490.5 394.7,492.0 394.7,493.5 394.7,495.0 394.8,496.5 394.8,498.0 394.9,499.5 395.0,501.0 395.0,502.5 395.2,504.0 395.4,505.4 395.7,506.9 396.1,508.4 396.5,509.8 396.8,511.3 397.2,512.8 397.6,514.2 398.0,515.6 398.4,517.1 398.8,518.5 399.3,520.0 399.8,521.4 400.3,522.8 400.8,524.2 401.3,525.6 401.9,527.0 402.4,528.4 403.0,529.8 403.6,531.1 404.2,532.5 404.9,533.9 405.5,535.2 406.2,536.5 406.9,537.9 407.6,539.2 408.3,540.5 409.0,541.9 409.6,543.2 410.3,544.6 411.0,545.9 411.8,547.2 412.6,548.5 413.5,549.6 414.5,550.7 415.5,551.8 416.7,552.8 417.8,553.8 418.9,554.9 419.9,555.9 421.0,557.0 422.0,558.0 423.1,559.1 424.2,560.2 425.2,561.2 426.3,562.3 427.3,563.4 428.4,564.4 429.5,565.5 430.5,566.6 431.6,567.6 432.6,568.7 433.7,569.7 434.8,570.8 435.9,571.8 437.0,572.8 438.1,573.8 439.2,574.9 440.3,575.9 441.4,576.9 442.5,577.8 443.7,578.8 444.8,579.8 446.0,580.7 447.1,581.7 448.3,582.6 449.5,583.6 450.6,584.5 451.8,585.4 453.0,586.3 454.2,587.2 455.4,588.1 456.6,589.0 457.8,589.9 459.1,590.8 460.3,591.6 461.5,592.5 462.7,593.4 464.0,594.2 465.2,595.1 466.4,595.9 467.7,596.8 468.9,597.6 470.1,598.5 471.4,599.3 472.6,600.1 473.9,600.9 475.2,601.7 476.5,602.5 477.7,603.3 479.0,604.0 480.3,604.8 481.6,605.5 482.9,606.2 484.3,607.0 485.6,607.7 486.9,608.4 488.2,609.1 489.5,609.8 490.9,610.5 492.2,611.2 493.5,611.9 494.8,612.6 496.2,613.3 497.5,614.0 498.8,614.7 500.2,615.4 501.5,616.0 502.8,616.7 504.2,617.4 505.5,618.0 506.9,618.7 508.2,619.3 509.6,620.0 510.9,620.6 512.3,621.3 513.6,621.9 515.0,622.6 516.4,623.2 517.7,623.8 519.1,624.4 520.4,625.1 521.8,625.7 523.2,626.3 524.5,626.9 525.9,627.5 527.3,628.1 528.7,628.7 530.0,629.3 531.4,629.9 532.8,630.5 534.2,631.1 535.5,631.7 536.9,632.3 538.3,632.9 539.7,633.5 541.0,634.1 542.4,634.7 543.8,635.2 545.2,635.8 546.6,636.4 548.0,637.0 549.3,637.6 550.7,638.1 552.1,638.7 553.5,639.3 554.9,639.8 556.3,640.4 557.7,641.0 559.0,641.6 560.4,642.1 561.8,642.7 563.2,643.2 564.6,643.8 566.0,644.4 567.4,644.9 568.8,645.5 570.2,646.1 571.5,646.6 572.9,647.2 574.3,647.7 575.7,648.3 577.1,648.8 578.5,649.4 579.9,650.0 581.3,650.5 582.7,651.1 584.1,651.6 585.5,652.2 586.9,652.7 588.3,653.3 589.6,653.8 591.0,654.4 592.4,654.9 593.8,655.5 595.2,656.0 596.6,656.6 598.0,657.1 599.4,657.7 600.8,658.2 602.2,658.8 603.6,659.3 605.0,659.9 606.4,660.4 607.8,661.0 609.2,661.5 610.6,662.1 612.0,662.6 613.4,663.2 614.8,663.7 616.2,664.3 617.6,664.8 619.0,665.3 620.3,665.9 621.7,666.4 623.1,667.0 624.5,667.5 625.9,668.0 627.3,668.6 628.7,669.1 630.1,669.6 631.6,670.2 633.0,670.7 634.4,671.2 635.8,671.7 637.2,672.3 638.6,672.8 640.0,673.3 641.4,673.8 642.8,674.4 644.2,674.9 645.6,675.4 647.0,675.9 648.4,676.4 649.8,676.9 651.2,677.4 652.7,677.9 654.1,678.4 655.5,678.9 656.9,679.4 658.3,679.9 659.7,680.4 661.1,681.0 662.5,681.5 663.9,682.0 665.4,682.5 666.8,683.0 668.2,683.5 669.6,684.0 671.0,684.5 672.4,685.1 673.8,685.6 675.2,686.2 676.5,686.8 677.9,687.4 679.2,688.1 680.5,688.9 681.7,689.8 682.5,691.1"/>
<polyline class="dash" stroke="#ffa500" points="393.2,488.0 393.2,489.5 393.2,491.0 393.2,492.5 393.2,494.0 393.2,495.5 393.3,497.0 393.3,498.5 393.3,500.0 393.3,501.5 393.3,503.0 393.4,504.5 393.4,506.0 393.4,507.4 393.5,508.9 393.6,510.4 393.7,511.9 393.8,513.4 393.9,514.9 394.0,516.4 394.1,517.9 394.2,519.4 394.3,520.9 394.4,522.4 394.5,523.9 394.6,525.4 394.7,526.9 394.9,528.4 395.0,529.9 395.1,531.4 395.2,532.8 395.4,534.3 395.5,535.8 395.7,537.3 395.8,538.8 396.0,540.3 396.3,541.7 396.6,543.2 396.9,544.7 397.3,546.1 397.7,547.6 398.1,549.0 398.5,550.4 399.0,551.9 399.4,553.3 399.9,554.7 400.4,556.1 401.0,557.5 401.6,558.9 402.2,560.2 402.8,561.6 403.5,563.0 404.1,564.3 404.8,565.6 405.5,566.9 406.3,568.2 407.1,569.5 407.9,570.8 408.7,572.0 409.5,573.3 410.4,574.5 411.3,575.7 412.2,576.9 413.1,578.1 414.1,579.2 415.2,580.2 416.3,581.2 417.5,582.1 418.7,583.0 419.9,583.9 421.1,584.8 422.4,585.6 423.6,586.5 424.9,587.3 426.1,588.1 427.4,588.9 428.6,589.7 429.9,590.5 431.2,591.3 432.5,592.1 433.7,592.8 435.0,593.6 436.3,594.3 437.6,595.1 439.0,595.8 440.3,596.5 441.6,597.2 442.9,597.9 444.3,598.5 445.6,599.2 447.0,599.9 448.3,600.5 449.6,601.2 450.9,601.9 452.2,602.7 453.5,603.4 454.8,604.2 456.1,604.9 457.4,605.7 458.7,606.4 460.0,607.1 461.4,607.8 462.7,608.5 464.1,609.1 465.4,609.7 466.8,610.3 468.2,610.9 469.6,611.4 471.0,611.9 472.4,612.4 473.8,612.9 475.2,613.4 476.6,613.9 478.0,614.4 479.4,614.9 480.8,615.4 482.3,615.9 483.7,616.4 485.1,616.9 486.5,617.4 487.9,617.8 489.4,618.3 490.8,618.8 492.2,619.3 493.6,619.7 495.0,620.2 496.5,620.7 497.9,621.1 499.3,621.6 500.7,622.1 502.1,622.5 503.6,623.0 505.0,623.4 506.4,623.9 507.8,624.4 509.3,624.8 510.7,625.3 512.1,625.7 513.5,626.2 515.0,626.6 516.4,627.1 517.8,627.5 519.3,628.0 520.7,628.4 522.1,628.8 523.5,629.3 525.0,629.7 526.4,630.2 527.8,630.6 529.3,631.0 530.7,631.5 532.1,631.9 533.6,632.3 535.0,632.8 536.4,633.2 537.9,633.6 539.3,634.1 540.7,634.5 542.2,634.9 543.6,635.4 545.0,635.8 546.5,636.2 547.9,636.6 549.3,637.1 550.8,637.5 552.2,637.9 553.6,638.4 555.1,638.8 556.5,639.2 557.9,639.6 559.4,640.0 560.8,640.5 562.2,640.9 563.7,641.3 565.1,641.7 566.5,642.2 568.0,642.6 569.4,643.0 570.8,643.4 572.3,643.9 573.7,644.3 575.1,644.7 576.6,645.1 578.0,645.5 579.5,646.0 580.9,646.4 582.3,646.8 583.8,647.2 585.2,647.7 586.6,648.1 588.1,648.5 589.5,648.9 590.9,649.4 592.4,649.8 593.8,650.2 595.2,650.7 596.7,651.1 598.1,651.5 599.5,651.9 601.0,652.4 602.4,652.8 603.8,653.2 605.3,653.7 606.7,654.1 608.1,654.5 609.6,655.0 611.0,655.4 612.4,655.9 613.8,656.3 615.3,656.7 616.7,657.2 618.1,657.6 619.6,658.1 621.0,658.5 622.4,659.0 623.8,659.4 625.3,659.9 626.7,660.3 628.1,660.8 629.5,661.3 630.9,661.7 632.4,662.2 633.8,662.7 635.2,663.2 636.6,663.6 638.0,664.1 639.5,664.6 640.9,665.1 642.3,665.6 643.7,666.1 645.1,666.6 646.5,667.1 647.9,667.6 649.3,668.2 650.7,668.7 652.1,669.2 653.5,669.8 654.9,670.3 656.3,670.9 657.6,671.5 659.0,672.1 660.4,672.7 661.8,673.3 663.1,673.9 664.5,674.6 665.8,675.2 667.1,675.9 668.5,676.6 669.8,677.3 671.1,678.1 672.3,678.9 673.6,679.7 674.8,680.5 676.0,681.4 677.2,682.4 678.3,683.4 679.3,684.4 680.3,685.6 681.2,686.8 681.8,688.2 682.2,689.6 682.5,691.1"/>
<polyline class="dash" stroke="#40e0d0" points="393.2,587.0 393.2,588.5 393.2,590.0 393.2,591.5 393.2,593.0 393.2,594.5 393.3,596.0 393.3,597.5 393.3,599.0 393.3,600.5 393.4,602.0 393.4,603.5 393.5,605.0 393.6,606.5 393.7,608.0 393.8,609.5 393.9,611.0 394.1,612.4 394.3,613.9 394.5,615.4 394.7,616.9 394.9,618.4 395.2,619.8 395.6,621.3 395.9,622.8 396.3,624.2 396.8,625.6 397.3,627.1 397.9,628.5 398.4,629.8 399.1,631.2 399.8,632.5 400.6,633.7 401.5,635.0 402.4,636.2 403.3,637.4 404.2,638.6 405.1,639.8 406.1,641.0 407.1,642.1 408.1,643.1 409.2,644.1 410.4,645.0 411.6,645.9 412.9,646.7 414.2,647.5 415.5,648.2 416.8,648.9 418.2,649.5 419.6,650.1 420.9,650.7 422.3,651.3 423.7,651.8 425.1,652.3 426.5,652.8 428.0,653.3 429.4,653.8 430.8,654.3 432.2,654.7 433.7,655.1 435.1,655.6 436.5,656.0 438.0,656.4 439.4,656.8 440.9,657.2 442.3,657.6 443.8,657.9 445.2,658.3 446.7,658.7 448.1,659.0 449.6,659.4 451.1,659.7 452.5,660.0 454.0,660.3 455.4,660.7 456.9,661.0 458.4,661.3 459.9,661.6 461.3,661.9 462.8,662.2 464.3,662.5 465.7,662.8 467.2,663.1 468.7,663.4 470.1,663.7 471.6,663.9 473.1,664.2 474.6,664.4 476.0,664.7 477.5,664.9 479.0,665.1 480.5,665.3 482.0,665.5 483.4,665.7 484.9,665.9 486.4,666.2 487.9,666.4 489.4,666.6 490.9,666.8 492.3,667.0 493.8,667.2 495.3,667.4 496.8,667.7 498.3,667.9 499.8,668.1 501.2,668.3 502.7,668.5 504.2,668.7 505.7,668.9 507.2,669.1 508.7,669.3 510.1,669.5 511.6,669.7 513.1,669.9 514.6,670.1 516.1,670.3 517.6,670.5 519.1,670.7 520.5,670.9 522.0,671.1 523.5,671.3 525.0,671.5 526.5,671.7 528.0,671.9 529.5,672.1 530.9,672.2 532.4,672.4 533.9,672.6 535.4,672.8 536.9,673.0 538.4,673.2 539.9,673.4 541.3,673.6 542.8,673.7 544.3,673.9 545.8,674.1 547.3,674.3 548.8,674.5 550.3,674.7 551.7,674.9 553.2,675.0 554.7,675.2 556.2,675.4 557.7,675.6 559.2,675.8 560.7,675.9 562.2,676.1 563.6,676.3 565.1,676.5 566.6,676.7 568.1,676.8 569.6,677.0 571.1,677.2 572.6,677.4 574.1,677.6 575.5,677.7 577.0,677.9 578.5,678.1 580.0,678.3 581.5,678.4 583.0,678.6 584.5,678.8 586.0,679.0 587.4,679.1 588.9,679.3 590.4,679.5 591.9,679.7 593.4,679.8 594.9,680.0 596.4,680.2 597.9,680.4 599.3,680.5 600.8,680.7 602.3,680.9 603.8,681.1 605.3,681.2 606.8,681.4 608.3,681.6 609.8,681.7 611.2,681.9 612.7,682.1 614.2,682.3 615.7,682.4 617.2,682.6 618.7,682.8 620.2,682.9 621.7,683.1 623.2,683.3 624.6,683.4 626.1,683.6 627.6,683.8 629.1,684.0 630.6,684.1 632.1,684.3 633.6,684.5 635.1,684.6 636.6,684.8 638.0,685.0 639.5,685.1 641.0,685.3 642.5,685.5 644.0,685.7 645.5,685.8 647.0,686.0 648.5,686.2 649.9,686.3 651.4,686.5 652.9,686.7 654.4,686.9 655.9,687.0 657.4,687.2 658.9,687.4 660.4,687.6 661.8,687.7 663.3,687.9 664.8,688.1 666.3,688.3 667.8,688.5 669.3,688.7 670.8,688.9 672.3,689.1 673.7,689.3 675.2,689.5 676.7,689.7 678.2,690.0 679.6,690.2 681.1,690.5 682.5,691.1"/>
<polyline class="dash" stroke="#8b1a62" points="393.0,617.0 393.0,618.5 393.0,620.0 393.0,621.5 393.0,623.0 393.0,624.5 393.0,626.0 393.1,627.5 393.1,629.0 393.1,630.5 393.1,632.0 393.1,633.5 393.2,635.0 393.2,636.5 393.2,638.0 393.2,639.5 393.3,641.0 393.3,642.5 393.4,644.0 393.4,645.5 393.5,647.0 393.6,648.5 393.7,650.0 393.8,651.5 393.9,653.0 394.0,654.5 394.1,655.9 394.2,657.4 394.5,658.9 394.7,660.4 395.0,661.9 395.3,663.4 395.7,664.8 396.1,666.2 396.6,667.7 397.2,669.1 397.9,670.4 398.7,671.7 399.6,672.8 400.7,673.8 402.0,674.8 403.3,675.6 404.6,676.3 405.9,676.8 407.4,677.3 408.8,677.7 410.3,678.1 411.7,678.4 413.2,678.7 414.7,679.0 416.2,679.3 417.6,679.5 419.1,679.8 420.6,680.1 422.1,680.4 423.5,680.6 425.0,680.9 426.5,681.1 428.0,681.3 429.5,681.5 431.0,681.6 432.5,681.8 433.9,682.0 435.4,682.1 436.9,682.3 438.4,682.4 439.9,682.6 441.4,682.7 442.9,682.8 444.4,682.9 445.9,683.1 447.4,683.2 448.9,683.3 450.4,683.4 451.9,683.5 453.4,683.6 454.9,683.7 456.4,683.8 457.8,683.9 459.3,684.0 460.8,684.1 462.3,684.2 463.8,684.3 465.3,684.4 466.8,684.4 468.3,684.5 469.8,684.6 471.3,684.7 472.8,684.8 474.3,684.8 475.8,684.9 477.3,685.0 478.8,685.0 480.3,685.1 481.8,685.2 483.3,685.3 484.8,685.4 486.3,685.4 487.8,685.5 489.3,685.6 490.8,685.7 492.3,685.8 493.8,685.8 495.3,685.9 496.8,686.0 498.3,686.1 499.7,686.1 501.2,686.2 502.7,686.3 504.2,686.3 505.7,686.4 507.2,686.5 508.7,686.5 510.2,686.6 511.7,686.6 513.2,686.7 514.7,686.8 516.2,686.8 517.7,686.9 519.2,686.9 520.7,687.0 522.2,687.0 523.7,687.1 525.2,687.2 526.7,687.2 528.2,687.3 529.7,687.3 531.2,687.4 532.7,687.4 534.2,687.5 535.7,687.5 537.2,687.6 538.7,687.6 540.2,687.7 541.7,687.7 543.2,687.8 544.7,687.8 546.2,687.8 547.7,687.9 549.2,687.9 550.7,688.0 552.2,688.0 553.7,688.1 555.2,688.1 556.7,688.2 558.2,688.2 559.7,688.2 561.2,688.3 562.7,688.3 564.2,688.4 565.7,688.4 567.2,688.4 568.6,688.5 570.1,688.5 571.6,688.6 573.1,688.6 574.6,688.6 576.1,688.7 577.6,688.7 579.1,688.7 580.6,688.8 582.1,688.8 583.6,688.9 585.1,688.9 586.6,688.9 588.1,689.0 589.6,689.0 591.1,689.0 592.6,689.1 594.1,689.1 595.6,689.1 597.1,689.2 598.6,689.2 600.1,689.2 601.6,689.3 603.1,689.3 604.6,689.3 606.1,689.4 607.6,689.4 609.1,689.4 610.6,689.4 612.1,689.5 613.6,689.5 615.1,689.5 616.6,689.6 618.1,689.6 619.6,689.6 621.1,689.6 622.6,689.7 624.1,689.7 625.6,689.7 627.1,689.8 628.6,689.8 630.1,689.8 631.6,689.8 633.1,689.9 634.6,689.9 636.1,689.9 637.6,689.9 639.1,690.0 640.6,690.0 642.1,690.0 643.6,690.0 645.1,690.1 646.6,690.1 648.1,690.1 649.6,690.1 651.1,690.1 652.6,690.2 654.1,690.2 655.6,690.2 657.1,690.2 658.6,690.3 660.1,690.3 661.6,690.3 663.0,690.3 664.5,690.4 666.0,690.4 667.5,690.4 669.0,690.4 670.5,690.5 672.0,690.5 673.5,690.5 675.0,690.6 676.5,690.6 678.0,690.7 679.5,690.8 681.0,690.8 682.5,691.1"/>
<polyline class="sol" stroke="#0000ff" points="394.8,486.0 394.9,487.5 395.0,489.0 395.1,490.5 395.2,492.0 395.3,493.5 395.4,495.0 395.5,496.4 395.6,497.9 395.7,499.4 395.9,500.9 396.1,502.4 396.4,503.9 396.6,505.4 397.0,506.8 397.4,508.2 398.0,509.5 398.8,510.8 399.6,512.2 400.2,513.5 400.9,514.8 401.6,516.2 402.2,517.5 402.9,518.9 403.6,520.2 404.3,521.5 405.0,522.8 405.8,524.1 406.6,525.3 407.4,526.6 408.2,527.8 409.1,529.1 409.9,530.3 410.7,531.6 411.6,532.8 412.5,534.0 413.4,535.2 414.3,536.4 415.2,537.5 416.2,538.7 417.2,539.8 418.2,540.9 419.2,542.0 420.1,543.2 421.1,544.3 422.0,545.5 422.9,546.7 423.9,547.9 424.9,548.9 426.1,549.9 427.3,550.7 428.5,551.6 429.6,552.6 430.7,553.6 431.7,554.7 432.8,555.8 433.8,556.9 434.9,557.9 436.0,558.9 437.1,559.9 438.3,560.8 439.5,561.8 440.7,562.6 442.0,563.4 443.3,564.0 444.7,564.6 446.1,565.1 447.5,565.7 448.8,566.4 450.1,567.2 451.3,568.0 452.5,568.9 453.8,569.8 455.0,570.6 456.2,571.5 457.4,572.3 458.7,573.2 459.9,574.0 461.3,574.6 462.7,575.2 464.1,575.7 465.4,576.3 466.8,577.0 468.2,577.6 469.6,578.3 470.9,579.1 472.1,579.9 473.2,580.8 474.0,582.0 474.8,583.4 475.6,584.7 476.7,585.4 478.0,586.0 479.5,586.5 481.0,587.0 482.4,587.6 483.7,588.2 485.1,589.0 486.4,589.7 487.7,590.4 489.0,591.1 490.3,591.8 491.7,592.4 493.1,593.0 494.4,593.6 495.8,594.1 497.2,594.7 498.6,595.2 500.0,595.8 501.4,596.3 502.8,596.8 504.2,597.3 505.6,597.9 507.0,598.4 508.4,598.9 509.8,599.4 511.2,599.9 512.6,600.4 514.0,600.9 515.5,601.3 516.9,601.8 518.3,602.3 519.7,602.7 521.1,603.2 522.6,603.7 524.0,604.2 525.4,604.7 526.8,605.2 528.2,605.7 529.6,606.3 531.0,606.8 532.3,607.4 533.6,608.1 534.9,608.9 536.2,609.6 537.6,610.3 538.9,610.9 540.3,611.4 541.7,612.0 543.1,612.5 544.5,612.9 546.0,613.4 547.4,613.9 548.8,614.3 550.2,614.8 551.7,615.3 553.1,615.8 554.5,616.3 555.9,616.7 557.3,617.2 558.7,617.7 560.1,618.2 561.6,618.7 563.0,619.1 564.4,619.6 565.8,620.1 567.2,620.6 568.6,621.1 570.0,621.6 571.4,622.1 572.8,622.6 574.2,623.2 575.6,623.7 577.0,624.2 578.4,624.7 579.8,625.2 581.2,625.8 582.6,626.3 584.0,626.8 585.4,627.4 586.8,627.9 588.2,628.5 589.6,629.0 591.0,629.6 592.4,630.1 593.8,630.7 595.1,631.2 596.5,631.8 597.9,632.4 599.3,632.9 600.7,633.5 602.1,634.1 603.4,634.7 604.8,635.2 606.2,635.8 607.6,636.4 608.9,637.0 610.3,637.6 611.7,638.1 613.1,638.7 614.4,639.3 615.8,639.9 617.2,640.5 618.5,641.1 619.9,641.7 621.3,642.3 622.7,642.9 624.0,643.5 625.4,644.1 626.8,644.7 628.1,645.3 629.5,645.9 630.9,646.5 632.2,647.2 633.6,647.8 634.9,648.4 636.3,649.0 637.7,649.6 639.0,650.3 640.4,650.9 641.7,651.5 643.1,652.2 644.4,652.8 645.8,653.5 647.1,654.1 648.5,654.8 649.8,655.5 651.1,656.1 652.4,656.8 653.8,657.5 655.1,658.2 656.4,658.9 657.7,659.7 659.0,660.4 660.3,661.2 661.5,662.0 662.8,662.8 664.0,663.6 665.3,664.5 666.5,665.3 667.7,666.2 668.9,667.2 670.0,668.1 671.1,669.1 672.2,670.1 673.3,671.2 674.3,672.3 675.3,673.4 676.3,674.5 677.2,675.7 678.0,677.0 678.8,678.3 679.5,679.6 680.1,680.9 680.6,682.3 681.1,683.8 681.5,685.2 681.8,686.7 682.1,688.1 682.3,689.6 682.5,691.1"/>
<polyline class="sol" stroke="#ff0000" points="401.2,486.0 401.4,487.5 401.7,488.9 402.2,490.3 402.8,491.7 403.5,493.1 404.2,494.4 405.0,495.7 405.9,496.9 406.8,498.1 407.6,499.3 408.4,500.6 409.0,501.9 409.7,503.3 410.4,504.6 411.0,506.0 411.7,507.3 412.4,508.7 413.1,510.0 413.8,511.3 414.5,512.6 415.3,513.9 416.0,515.2 416.7,516.5 417.4,517.8 418.1,519.2 418.8,520.5 419.5,521.9 420.2,523.2 421.0,524.5 421.8,525.7 422.7,526.8 423.7,527.9 424.8,529.0 425.9,530.0 427.0,531.0 428.2,531.9 429.4,532.8 430.7,533.7 431.9,534.6 433.0,535.6 433.9,536.7 434.6,538.1 435.4,539.3 436.4,540.4 437.6,541.3 438.8,542.1 440.1,542.9 441.5,543.7 442.7,544.5 444.0,545.2 445.3,546.0 446.6,546.7 447.9,547.5 449.3,548.1 450.6,548.7 452.0,549.3 453.4,549.9 454.8,550.5 456.1,551.1 457.5,551.7 458.8,552.4 460.2,553.0 461.5,553.7 462.8,554.4 464.2,555.1 465.5,555.8 466.9,556.4 468.2,557.0 469.6,557.7 470.9,558.3 472.3,558.9 473.6,559.5 475.0,560.2 476.4,560.8 477.7,561.4 479.1,562.0 480.5,562.6 481.9,563.2 483.2,563.8 484.6,564.4 486.0,565.0 487.3,565.6 488.7,566.2 490.1,566.8 491.4,567.4 492.8,568.0 494.2,568.6 495.6,569.2 496.9,569.8 498.3,570.4 499.7,570.9 501.1,571.5 502.5,572.1 503.8,572.7 505.2,573.3 506.6,573.9 507.9,574.5 509.3,575.1 510.6,575.8 512.0,576.4 513.4,577.0 514.8,577.5 516.1,578.1 517.5,578.7 518.9,579.3 520.2,580.0 521.6,580.6 522.9,581.3 524.2,582.0 525.5,582.7 526.8,583.5 528.1,584.3 529.3,585.1 530.6,585.9 531.8,586.8 533.1,587.6 534.4,588.4 535.6,589.2 536.9,589.9 538.2,590.6 539.6,591.3 540.9,592.0 542.2,592.7 543.6,593.3 545.0,593.9 546.3,594.6 547.7,595.2 549.1,595.7 550.5,596.3 551.9,596.8 553.3,597.3 554.7,597.8 556.1,598.3 557.5,598.8 558.9,599.4 560.3,600.0 561.6,600.6 563.0,601.2 564.4,601.8 565.7,602.4 567.1,603.0 568.5,603.6 569.8,604.2 571.2,604.8 572.6,605.4 574.0,606.0 575.3,606.6 576.7,607.2 578.1,607.8 579.5,608.4 580.8,609.0 582.2,609.6 583.6,610.2 585.0,610.7 586.3,611.3 587.7,611.9 589.1,612.5 590.4,613.1 591.8,613.7 593.2,614.3 594.6,614.9 595.9,615.5 597.3,616.1 598.7,616.7 600.0,617.3 601.4,617.9 602.8,618.5 604.2,619.1 605.5,619.7 606.9,620.3 608.2,621.0 609.6,621.6 611.0,622.2 612.3,622.8 613.7,623.4 615.1,624.0 616.4,624.7 617.8,625.3 619.1,625.9 620.5,626.6 621.8,627.2 623.2,627.9 624.5,628.5 625.9,629.2 627.2,629.8 628.6,630.5 629.9,631.2 631.2,631.9 632.6,632.6 633.9,633.2 635.2,634.0 636.5,634.7 637.8,635.4 639.1,636.1 640.4,636.9 641.7,637.6 643.0,638.4 644.3,639.2 645.6,639.9 646.8,640.7 648.1,641.5 649.3,642.4 650.6,643.2 651.8,644.1 653.0,644.9 654.3,645.8 655.5,646.7 656.6,647.6 657.8,648.5 659.0,649.5 660.1,650.4 661.3,651.4 662.4,652.4 663.5,653.4 664.6,654.5 665.6,655.5 666.7,656.6 667.7,657.7 668.7,658.8 669.7,659.9 670.6,661.0 671.6,662.2 672.5,663.4 673.3,664.6 674.2,665.9 675.0,667.1 675.8,668.4 676.6,669.7 677.3,671.0 678.0,672.3 678.6,673.7 679.2,675.1 679.7,676.4 680.3,677.9 680.8,679.3 681.2,680.7 681.5,682.2 681.7,683.6 682.0,685.1 682.2,686.6 682.3,688.1 682.5,689.6 682.5,691.1"/>
</g>
<path class="tk" d="M398.59,691.1v-2.8M398.59,488.4v2.8M404.39,691.1v-2.8M404.39,488.4v2.8M410.18,691.1v-2.8M410.18,488.4v2.8M415.98,691.1v-2.8M415.98,488.4v2.8M421.77,691.1v-5.6M421.77,488.4v5.6M427.56,691.1v-2.8M427.56,488.4v2.8M433.36,691.1v-2.8M433.36,488.4v2.8M439.15,691.1v-2.8M439.15,488.4v2.8M444.95,691.1v-2.8M444.95,488.4v2.8M450.74,691.1v-5.6M450.74,488.4v5.6M456.53,691.1v-2.8M456.53,488.4v2.8M462.33,691.1v-2.8M462.33,488.4v2.8M468.12,691.1v-2.8M468.12,488.4v2.8M473.92,691.1v-2.8M473.92,488.4v2.8M479.71,691.1v-5.6M479.71,488.4v5.6M485.5,691.1v-2.8M485.5,488.4v2.8M491.3,691.1v-2.8M491.3,488.4v2.8M497.09,691.1v-2.8M497.09,488.4v2.8M502.89,691.1v-2.8M502.89,488.4v2.8M508.68,691.1v-5.6M508.68,488.4v5.6M514.47,691.1v-2.8M514.47,488.4v2.8M520.27,691.1v-2.8M520.27,488.4v2.8M526.06,691.1v-2.8M526.06,488.4v2.8M531.86,691.1v-2.8M531.86,488.4v2.8M537.65,691.1v-5.6M537.65,488.4v5.6M543.44,691.1v-2.8M543.44,488.4v2.8M549.24,691.1v-2.8M549.24,488.4v2.8M555.03,691.1v-2.8M555.03,488.4v2.8M560.83,691.1v-2.8M560.83,488.4v2.8M566.62,691.1v-5.6M566.62,488.4v5.6M572.41,691.1v-2.8M572.41,488.4v2.8M578.21,691.1v-2.8M578.21,488.4v2.8M584,691.1v-2.8M584,488.4v2.8M589.8,691.1v-2.8M589.8,488.4v2.8M595.59,691.1v-5.6M595.59,488.4v5.6M601.38,691.1v-2.8M601.38,488.4v2.8M607.18,691.1v-2.8M607.18,488.4v2.8M612.97,691.1v-2.8M612.97,488.4v2.8M618.77,691.1v-2.8M618.77,488.4v2.8M624.56,691.1v-5.6M624.56,488.4v5.6M630.35,691.1v-2.8M630.35,488.4v2.8M636.15,691.1v-2.8M636.15,488.4v2.8M641.94,691.1v-2.8M641.94,488.4v2.8M647.74,691.1v-2.8M647.74,488.4v2.8M653.53,691.1v-5.6M653.53,488.4v5.6M659.32,691.1v-2.8M659.32,488.4v2.8M665.12,691.1v-2.8M665.12,488.4v2.8M670.91,691.1v-2.8M670.91,488.4v2.8M676.71,691.1v-2.8M676.71,488.4v2.8M392.8,675.85h3.0M682.5,675.85h-3.0M392.8,666.92h3.0M682.5,666.92h-3.0M392.8,660.59h3.0M682.5,660.59h-3.0M392.8,655.68h3.0M682.5,655.68h-3.0M392.8,651.67h3.0M682.5,651.67h-3.0M392.8,648.27h3.0M682.5,648.27h-3.0M392.8,645.34h3.0M682.5,645.34h-3.0M392.8,642.74h3.0M682.5,642.74h-3.0M392.8,640.42h5.8M682.5,640.42h-5.8M392.8,625.17h3.0M682.5,625.17h-3.0M392.8,616.25h3.0M682.5,616.25h-3.0M392.8,609.92h3.0M682.5,609.92h-3.0M392.8,605h3.0M682.5,605h-3.0M392.8,600.99h3.0M682.5,600.99h-3.0M392.8,597.6h3.0M682.5,597.6h-3.0M392.8,594.66h3.0M682.5,594.66h-3.0M392.8,592.07h3.0M682.5,592.07h-3.0M392.8,589.75h5.8M682.5,589.75h-5.8M392.8,574.5h3.0M682.5,574.5h-3.0M392.8,565.57h3.0M682.5,565.57h-3.0M392.8,559.24h3.0M682.5,559.24h-3.0M392.8,554.33h3.0M682.5,554.33h-3.0M392.8,550.32h3.0M682.5,550.32h-3.0M392.8,546.92h3.0M682.5,546.92h-3.0M392.8,543.99h3.0M682.5,543.99h-3.0M392.8,541.39h3.0M682.5,541.39h-3.0M392.8,539.07h5.8M682.5,539.07h-5.8M392.8,523.82h3.0M682.5,523.82h-3.0M392.8,514.9h3.0M682.5,514.9h-3.0M392.8,508.57h3.0M682.5,508.57h-3.0M392.8,503.65h3.0M682.5,503.65h-3.0M392.8,499.64h3.0M682.5,499.64h-3.0M392.8,496.25h3.0M682.5,496.25h-3.0M392.8,493.31h3.0M682.5,493.31h-3.0M392.8,490.72h3.0M682.5,490.72h-3.0"/>
<rect class="fr" x="392.8" y="488.4" width="289.7" height="202.7"/>
<text class="tl" text-anchor="middle" x="392.8" y="701.3">0</text>
<text class="tl" text-anchor="middle" x="421.77" y="701.3">0.1</text>
<text class="tl" text-anchor="middle" x="450.74" y="701.3">0.2</text>
<text class="tl" text-anchor="middle" x="479.71" y="701.3">0.3</text>
<text class="tl" text-anchor="middle" x="508.68" y="701.3">0.4</text>
<text class="tl" text-anchor="middle" x="537.65" y="701.3">0.5</text>
<text class="tl" text-anchor="middle" x="566.62" y="701.3">0.6</text>
<text class="tl" text-anchor="middle" x="595.59" y="701.3">0.7</text>
<text class="tl" text-anchor="middle" x="624.56" y="701.3">0.8</text>
<text class="tl" text-anchor="middle" x="653.53" y="701.3">0.9</text>
<text class="tl" text-anchor="middle" x="682.5" y="701.3">1</text>
<text class="tl" text-anchor="end" x="392.3" y="694.5">1</text>
<text class="tl" text-anchor="end" x="390" y="645.02">10</text>
<text class="tl" text-anchor="end" x="390.4" y="595.15">10<tspan class="sup" dy="-5.6">2</tspan></text>
<text class="tl" text-anchor="end" x="390.4" y="544.47">10<tspan class="sup" dy="-5.6">3</tspan></text>
<text class="tl" text-anchor="end" x="390.4" y="493.8">10<tspan class="sup" dy="-5.6">4</tspan></text>
<text class="at" text-anchor="middle" x="537.65" y="712.1">signal eff</text>
<text class="at" text-anchor="middle" transform="translate(370,589.75) rotate(-90)">bkg rejection</text>
<text class="tt" y="509.35"><tspan x="439.4">S</tspan> <tspan class="ar" x="448.7" dy="1.8">→</tspan> <tspan x="461.8" dy="-1.8">WW</tspan> <tspan class="ar" x="482.4" dy="1.8">→</tspan> <tspan x="494.8" dy="-1.8">4q</tspan></text>
<text class="st" x="440.5" y="522.2">M<tspan class="sb" dy="3">S</tspan><tspan dy="-3"> = 200 GeV</tspan></text>
<text class="sl" text-anchor="middle" transform="translate(664.2,603) rotate(5.5)" y="2.4">s = 6</text>
<text class="sl" text-anchor="middle" transform="translate(662.8,620) rotate(5.5)" y="2.4">s = 4</text>
<text class="sl" text-anchor="middle" transform="translate(662.5,634.3) rotate(5.5)" y="2.4">s = 3</text>
<text class="sl" text-anchor="middle" transform="translate(592,639.4) rotate(8)" y="2.4">s = 2</text>
<text class="sl" text-anchor="middle" transform="translate(566.6,663.6) rotate(9)" y="2.4">s = 1</text>
<rect class="lg" x="601.2" y="502.6" width="61.6" height="64.9"/>
<path class="sol ls" fill="none" stroke="#ff0000" d="M604.4,508.7H619"/>
<text class="lt" x="624.9" y="511.7">NN 4P</text>
<path class="sol ls" fill="none" stroke="#0000ff" d="M604.4,519.2H619"/>
<text class="lt" x="624.9" y="521.1">LoRD T<tspan class="sb2" dy="2.3">4P</tspan></text>
<path class="dash ls" fill="none" stroke="#a020f0" d="M604.4,530.3H619"/>
<text class="lt" x="624.9" y="531.6"><tspan class="tau">τ</tspan><tspan class="sb2" dy="2.3">43</tspan></text>
<path class="dash ls" fill="none" stroke="#ffa500" d="M604.4,540.5H619"/>
<text class="lt" x="624.9" y="541.8"><tspan class="tau">τ</tspan><tspan class="sb2" dy="2.3">42</tspan></text>
<path class="dash ls" fill="none" stroke="#40e0d0" d="M604.4,551H619"/>
<text class="lt" x="624.9" y="552.3"><tspan class="tau">τ</tspan><tspan class="sb2" dy="2.3">41</tspan></text>
<path class="dash ls" fill="none" stroke="#8b1a62" d="M604.4,561.2H619"/>
<text class="lt" x="624.9" y="562.5"><tspan class="tau">τ</tspan><tspan class="sb2" dy="2.3">21</tspan></text>
</g>
</svg>
</body></html>
